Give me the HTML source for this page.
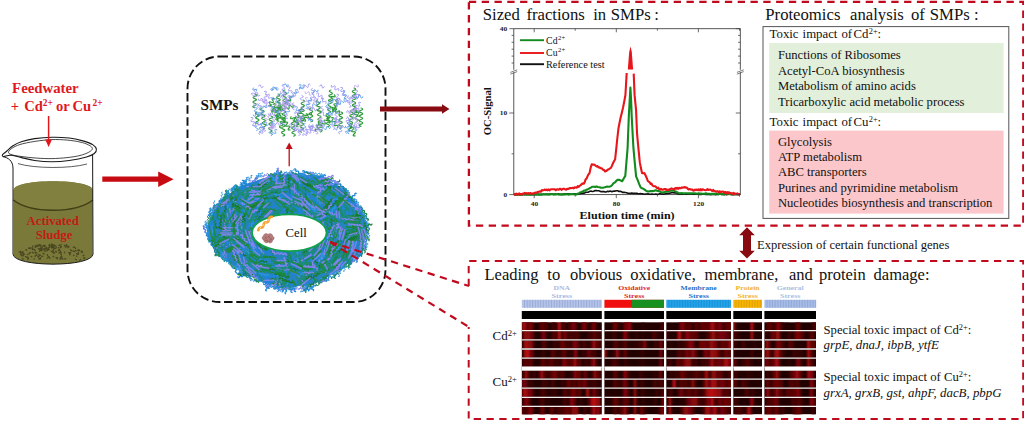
<!DOCTYPE html>
<html><head><meta charset="utf-8"><title>Graphical abstract</title>
<style>
html,body{margin:0;padding:0;background:#fff;}
body{width:1024px;height:422px;overflow:hidden;position:relative;font-family:"Liberation Serif",serif;}
svg{position:absolute;left:0;top:0;}
text{font-family:"Liberation Serif",serif;}
.b{font-weight:bold;}
.i{font-style:italic;}
.sup{font-size:62%;}
</style></head><body>
<svg width="1024" height="422" viewBox="0 0 1024 422">
<rect x="0" y="0" width="1024" height="422" fill="#fff"/>

<g id="feed">
<text x="12.1" y="93.3" class="b" font-size="14.8" fill="#e0181e">Feedwater</text>
<g class="b" font-size="14.6" fill="#e0181e"><text x="10.8" y="111.1">+</text><text x="24.2" y="111.1">Cd</text><text x="42.7" y="105.9" font-size="9.4">2+</text><text x="55.9" y="111.1">or</text><text x="72.5" y="111.1">Cu</text><text x="92.5" y="105.9" font-size="9.4">2+</text></g>
</g>
<g id="beaker" fill="none" stroke="#1a1a1a" stroke-width="1">
<path d="M13.6 190 C13.6 178.3 92.6 178.3 92.6 190 L92.6 254 C92.6 267.5 13.6 267.5 13.6 254 Z" fill="#7a793a" stroke="none"/>
<path d="M13.6 190 C13.6 178.3 92.6 178.3 92.6 190 L92.6 200 C76 213.6 30 213.6 13.6 200Z" fill="#81803e" stroke="none"/>
<path d="M13.4 200 C30 213.6 76 213.6 92.8 200" stroke="#403f16" stroke-width="1.5"/>
<path d="M3.2 156.6 C8 158 12.6 160 13 168 L13 254 C13 267.5 93 267.5 93 254 L92.6 155" />
<path d="M2.6 154.6C3.2 153.7 5.2 152.5 6.9 151.0C8.6 149.5 10.5 147.4 13.0 145.8C15.5 144.2 18.4 142.8 22.0 141.6C25.6 140.4 29.6 139.3 34.6 138.6C39.6 137.9 46.1 137.3 51.9 137.2C57.7 137.1 64.0 137.4 69.2 138.0C74.4 138.6 79.0 139.8 83.0 140.9C87.0 142.1 90.8 143.5 93.0 144.9C95.2 146.3 96.2 147.8 96.4 149.2C96.6 150.6 96.0 152.2 94.3 153.5C92.6 154.8 90.7 155.8 86.5 157.0C82.3 158.2 75.0 159.7 69.2 160.5C63.4 161.3 57.7 161.7 51.9 161.7C46.1 161.7 39.8 161.2 34.6 160.5C29.4 159.8 24.8 158.3 20.8 157.4C16.8 156.5 13.3 155.3 10.4 155.2C7.5 155.1 4.9 156.7 3.6 156.6C2.3 156.5 2.0 155.5 2.6 154.6Z" fill="#fff" stroke-width="1.1"/>
<path d="M8.5 152.6C8.2 150.6 12.8 146.7 20.0 144.5C27.2 142.3 41.9 140.0 51.9 139.6C61.9 139.2 73.2 140.5 80.0 142.0C86.8 143.5 92.4 146.3 92.4 148.6C92.4 150.8 86.8 153.8 80.0 155.5C73.2 157.2 61.6 158.4 51.9 158.6C42.2 158.8 29.2 157.6 22.0 156.6C14.8 155.6 8.8 154.6 8.5 152.6Z" stroke-width="0.8"/>
<path d="M18 163.6 C34 168.6 70 168.8 87 164" stroke-width="0.8" stroke="#333"/>
</g>
<path d="M48.6 116V141" stroke="#e0181e" stroke-width="1.5" fill="none"/><path d="M45.2 139.6L52 139.6L48.6 147Z" fill="#e0181e"/>
<path d="M33.4 249.4l-1.1 0.1M26.8 250.0l-1.2 -0.1M38.5 245.5l0.8 -0.8M58.4 247.8l0.2 -0.2M23.0 259.1l-0.5 -0.7M45.2 246.3l-0.8 0.2M44.2 254.1l-1.1 -0.9M60.7 247.6l-0.5 0.2M39.5 251.3l0.5 -0.5M54.1 253.1l0.6 -0.4M27.7 259.2l0.7 -0.7M22.5 251.8l0.7 0.1M40.4 257.6l0.2 0.2M74.6 251.3l-0.1 0.3M59.3 245.4l1.3 0.6M46.6 248.8l-1.2 -0.1M55.7 251.2l0.8 0.7M48.2 248.7l1.0 0.9M51.8 248.0l-0.6 -1.0M44.3 250.8l1.2 0.4M60.1 252.2l-1.2 0.8M76.8 256.2l-0.3 -0.2M36.2 246.8l-1.2 0.7M29.7 253.7l-0.4 -0.3M66.0 246.3l-0.1 -0.0M38.3 245.8l-0.6 0.7M32.6 246.9l0.1 -0.7M21.8 252.6l1.2 0.7M37.0 254.9l-0.9 0.5M70.6 252.5l-0.7 0.6M75.4 259.3l0.8 0.5M53.3 247.9l-1.2 -0.9M40.2 248.7l1.2 -0.1M84.2 258.6l-0.4 -0.6M78.5 253.9l-0.1 0.3M25.5 256.5l1.1 0.6M41.6 256.3l1.2 -0.2M79.7 250.5l-0.9 -0.7M69.0 246.8l-0.9 0.7M62.7 259.2l0.1 -0.7M66.5 244.7l0.1 0.9M76.1 251.0l-0.8 -0.5M38.9 248.9l-0.6 -0.2M68.6 246.5l-0.1 0.2M47.3 258.1l0.0 0.1M21.2 252.4l-0.8 -1.0M31.2 256.5l0.6 0.1M53.5 249.4l0.7 -0.8M36.2 252.9l0.7 0.0M69.4 252.9l-0.1 0.2M53.3 252.1l-0.1 0.1M81.2 251.7l1.0 0.9M55.4 248.4l0.9 -0.7M32.0 248.1l0.7 0.8M61.4 246.8l-0.9 0.8M34.3 259.0l-0.3 -0.0M53.5 251.0l-0.8 -0.4M21.3 255.3l-0.2 -1.0M59.4 249.5l-1.1 1.0M29.5 248.5l-0.6 -0.7M78.3 250.8l-0.6 -0.7M57.1 258.3l-1.1 -0.9M61.2 258.6l-1.1 0.7M64.8 245.5l-0.4 0.1M42.0 249.2l-0.5 0.0M28.8 248.3l0.1 -0.6M48.1 256.8l0.9 -0.2M64.7 252.1l-0.4 0.7M61.3 255.1l-0.4 -0.9M35.7 246.4l-0.6 -0.7M64.6 245.8l0.4 -0.4M42.5 248.1l-0.9 -0.1M75.5 248.4l0.1 -0.5M40.1 259.0l-1.3 -0.2M20.3 252.1l-1.1 -0.2M37.2 245.1l-0.7 0.2M68.8 252.4l0.6 0.8M42.1 250.3l-0.9 0.4M22.8 254.1l1.0 0.3M52.8 252.4l0.8 0.7M78.0 253.3l0.5 -0.5M41.1 245.0l-1.0 0.7M60.8 252.9l0.5 -0.0M61.1 244.5l0.0 0.1M24.3 254.4l-0.6 -0.9M83.4 255.6l-0.3 -0.0M69.9 254.8l0.4 -0.8M42.5 246.7l-0.5 0.1M39.5 244.7l0.4 0.4M38.9 254.6l-0.1 -0.1M73.3 251.4l-0.1 -0.5M29.2 253.2l1.2 -0.7M53.1 256.8l0.5 -0.5M52.3 244.6l-0.5 -0.7M42.1 249.7l-1.3 0.5M27.8 257.1l0.6 0.8M45.9 248.8l1.3 0.2M48.3 249.9l-1.2 -0.8M38.6 257.0l-0.7 -0.5M32.3 252.2l1.2 0.8M61.0 256.7l1.1 0.1M23.2 255.3l-0.1 0.5M28.3 258.4l-0.4 -0.4M83.5 255.6l0.4 -0.4M40.3 246.9l-0.0 -0.6M84.8 258.1l-0.9 -0.6M40.9 248.1l1.0 0.5M47.2 250.7l-0.3 -0.3M45.0 245.4l-1.0 0.0M39.8 248.6l-0.1 0.9M59.1 245.0l-0.1 0.2M49.4 244.5l0.8 0.7M53.4 246.8l1.1 0.4M69.7 254.2l0.1 -0.9M35.1 256.2l0.4 -0.4M42.8 246.4l0.5 -0.8M53.3 245.6l-0.3 -0.6M20.7 253.5l-0.1 0.9M77.4 254.2l-0.7 -0.5M65.8 258.9l-1.2 -0.0M47.3 254.6l0.4 0.9M30.6 247.9l-0.2 0.4M65.8 247.5l0.0 -0.6M40.3 259.0l-0.7 -0.6M39.2 255.9l-0.0 -0.6M48.6 247.8l1.2 -0.7M35.2 250.4l-0.9 -0.9M48.9 245.4l1.0 0.5M80.6 259.5l-0.8 0.9M22.1 255.7l-0.3 -0.3M44.9 248.7l-1.0 0.9M46.0 247.6l0.8 -0.1M51.6 245.2l1.1 -0.6M71.7 250.7l-1.2 -0.9M66.7 245.4l0.6 0.8M39.8 249.6l0.3 -0.5M40.6 255.2l-1.3 0.5M61.2 258.2l-1.2 -0.5M82.2 251.6l-0.3 -0.5M52.1 250.9l-0.8 0.6M73.5 255.6l0.3 -0.3M45.0 249.3l-1.1 -0.6M54.2 245.0l1.2 0.8M52.4 245.9l-0.1 -0.5M60.0 250.8l0.6 0.7M27.9 254.5l-0.5 0.1M57.6 257.8l-0.3 1.0M35.0 252.1l0.4 1.0M51.6 246.0l0.9 0.8M73.3 247.3l1.1 -0.3M49.2 257.5l0.7 0.9M56.1 246.1l-0.7 -0.3" stroke="#3f3e1c" stroke-width="1.3" fill="none" stroke-linecap="round" opacity="0.85"/>
<text x="52.7" y="224.8" text-anchor="middle" class="b" font-size="12.7" fill="#c41a12">Activated</text>
<text x="54" y="239.3" text-anchor="middle" class="b" font-size="12.7" fill="#c41a12">Sludge</text>
<path d="M102.3 176.5H158.2V171.4L173.6 179.2L158.2 187V181.8H102.3Z" fill="#c60c12"/>
<rect x="187.5" y="56.5" width="198" height="245.5" rx="32" ry="32" fill="none" stroke="#111" stroke-width="1.9" stroke-dasharray="8.5 3.7"/>
<text x="200.5" y="110" class="b" font-size="15.2" fill="#111">SMPs</text>
<path d="M289.2 166.2V148" stroke="#c01016" stroke-width="1.3" fill="none"/><path d="M285.7 149L292.7 149L289.2 142.5Z" fill="#c01016"/>
<path d="M380 106.6H442V104.2L449.5 109L442 113.8V111.4H380Z" fill="#870b10"/>
<path d="M262.0 108.0q-3.3 1.5 0.3 2.3t0.3 2.3t0.3 2.3t0.3 2.3t0.3 2.3t0.3 2.3t0.3 2.3t0.3 2.3t0.3 2.3M285.0 90.0q-3.4 1.1 -0.1 2.3t-0.1 2.3t-0.1 2.3t-0.1 2.3t-0.1 2.3t-0.1 2.3t-0.1 2.3t-0.1 2.3t-0.1 2.3t-0.1 2.3t-0.1 2.3t-0.1 2.3t-0.1 2.3t-0.1 2.3t-0.1 2.3t-0.1 2.3t-0.1 2.3t-0.1 2.3t-0.1 2.3t-0.1 2.3M331.0 90.0q-3.5 0.9 -0.2 2.3t-0.2 2.3t-0.2 2.3t-0.2 2.3t-0.2 2.3t-0.2 2.3t-0.2 2.3t-0.2 2.3t-0.2 2.3t-0.2 2.3t-0.2 2.3t-0.2 2.3t-0.2 2.3t-0.2 2.3t-0.2 2.3t-0.2 2.3M303.0 100.0q3.3 1.3 -0.1 2.3t-0.1 2.3t-0.1 2.3t-0.1 2.3t-0.1 2.3t-0.1 2.3t-0.1 2.3t-0.1 2.3t-0.1 2.3t-0.1 2.3t-0.1 2.3t-0.1 2.3t-0.1 2.3t-0.1 2.3M318.0 102.0q3.5 0.8 0.2 2.3t0.2 2.3t0.2 2.3t0.2 2.3t0.2 2.3t0.2 2.3t0.2 2.3t0.2 2.3t0.2 2.3t0.2 2.3t0.2 2.3t0.2 2.3t0.2 2.3M354.0 88.0q3.4 1.2 -0.0 2.3t-0.0 2.3t-0.0 2.3t-0.0 2.3t-0.0 2.3t-0.0 2.3t-0.0 2.3t-0.0 2.3t-0.0 2.3M352.0 110.0q-3.5 0.9 -0.2 2.3t-0.2 2.3t-0.2 2.3t-0.2 2.3t-0.2 2.3t-0.2 2.3t-0.2 2.3t-0.2 2.3t-0.2 2.3M271.0 116.0q3.4 1.3 -0.1 2.3t-0.1 2.3t-0.1 2.3t-0.1 2.3t-0.1 2.3t-0.1 2.3t-0.1 2.3M293.0 120.0q3.4 1.1 0.1 2.3t0.1 2.3t0.1 2.3t0.1 2.3t0.1 2.3t0.1 2.3t0.1 2.3M255.0 94.0q3.4 1.3 -0.1 2.3t-0.1 2.3t-0.1 2.3t-0.1 2.3t-0.1 2.3t-0.1 2.3M257.0 112.0q-3.3 1.3 0.1 2.3t0.1 2.3t0.1 2.3t0.1 2.3t0.1 2.3M361.0 108.0q3.4 1.1 0.0 2.3t0.0 2.3t0.0 2.3t0.0 2.3t0.0 2.3t0.0 2.3t0.0 2.3t0.0 2.3M341.0 112.0q3.4 1.3 -0.1 2.3t-0.1 2.3t-0.1 2.3t-0.1 2.3t-0.1 2.3t-0.1 2.3t-0.1 2.3M278.0 94.0q3.5 0.9 0.2 2.3t0.2 2.3t0.2 2.3t0.2 2.3t0.2 2.3t0.2 2.3t0.2 2.3M311.0 108.0q-3.4 1.2 0.0 2.3t0.0 2.3t0.0 2.3t0.0 2.3t0.0 2.3t0.0 2.3M296.6 120.5q-2.9 1.8 0.5 2.1t0.5 2.1t0.5 2.1M320.1 121.3q-3.4 -0.2 -0.8 2.0t-0.8 2.0t-0.8 2.0t-0.8 2.0t-0.8 2.0M273.2 104.4q2.8 -2.0 1.8 1.3t1.8 1.3t1.8 1.3M331.4 117.8q3.3 -0.8 1.2 1.9t1.2 1.9t1.2 1.9t1.2 1.9t1.2 1.9M350.3 123.3q3.4 -0.1 0.8 2.1t0.8 2.1t0.8 2.1t0.8 2.1t0.8 2.1t0.8 2.1M327.2 114.6q-2.8 1.9 0.5 2.1t0.5 2.1t0.5 2.1t0.5 2.1M317.5 99.9q-2.9 1.7 0.4 2.2t0.4 2.2t0.4 2.2t0.4 2.2t0.4 2.2t0.4 2.2M271.6 104.8q-2.6 2.2 0.8 2.0t0.8 2.0t0.8 2.0t0.8 2.0M337.6 99.8q-3.4 -0.3 -0.9 2.0t-0.9 2.0t-0.9 2.0t-0.9 2.0t-0.9 2.0t-0.9 2.0M311.0 112.8q1.6 3.0 -1.5 1.6t-1.5 1.6t-1.5 1.6t-1.5 1.6t-1.5 1.6t-1.5 1.6M280.9 105.7q1.7 2.9 -1.4 1.7t-1.4 1.7t-1.4 1.7M354.6 108.0q-3.0 1.7 0.4 2.2t0.4 2.2t0.4 2.2t0.4 2.2t0.4 2.2t0.4 2.2M337.1 106.0q-3.2 -1.1 -1.3 1.8t-1.3 1.8t-1.3 1.8M306.4 113.7q1.9 2.8 -1.3 1.7t-1.3 1.7t-1.3 1.7t-1.3 1.7M329.3 117.3q-3.1 -1.3 -1.5 1.6t-1.5 1.6t-1.5 1.6t-1.5 1.6t-1.5 1.6t-1.5 1.6M334.4 94.8q2.1 2.7 -1.2 1.8t-1.2 1.8t-1.2 1.8M354.2 108.8q3.2 -1.0 1.3 1.8t1.3 1.8t1.3 1.8t1.3 1.8M291.1 116.7q-1.5 3.1 1.6 1.5t1.6 1.5t1.6 1.5t1.6 1.5t1.6 1.5M283.5 118.5q3.3 -0.6 1.1 1.9t1.1 1.9t1.1 1.9t1.1 1.9t1.1 1.9t1.1 1.9M282.3 109.2q-0.6 3.3 -2.2 0.3t-2.2 0.3t-2.2 0.3t-2.2 0.3t-2.2 0.3M274.2 98.8q-3.1 -1.3 -1.4 1.7t-1.4 1.7t-1.4 1.7t-1.4 1.7M282.4 117.0q-3.3 0.7 -0.3 2.2t-0.3 2.2t-0.3 2.2t-0.3 2.2t-0.3 2.2M301.3 109.6q-3.3 -0.6 -1.0 1.9t-1.0 1.9t-1.0 1.9t-1.0 1.9t-1.0 1.9t-1.0 1.9M293.1 105.3q0.3 3.4 -2.0 0.9t-2.0 0.9t-2.0 0.9t-2.0 0.9M332.5 107.3q-1.2 3.2 1.7 1.4t1.7 1.4t1.7 1.4t1.7 1.4t1.7 1.4M281.4 113.2q-3.3 -0.8 -1.2 1.9t-1.2 1.9t-1.2 1.9M278.2 102.7q3.4 -0.3 0.9 2.0t0.9 2.0t0.9 2.0M278.7 113.6q2.0 2.7 -1.2 1.8t-1.2 1.8t-1.2 1.8M291.5 97.2q-3.2 -1.2 -1.4 1.7t-1.4 1.7t-1.4 1.7t-1.4 1.7t-1.4 1.7M276.4 112.7q3.4 0.1 0.6 2.1t0.6 2.1t0.6 2.1t0.6 2.1" stroke="#2c9a38" stroke-width="1.15" fill="none" stroke-linecap="round"/>
<path d="" stroke="#1d8f5e" stroke-width="1.15" fill="none" stroke-linecap="round"/>
<path d="M354.2 96.3q-2.0 -2.7 -2.1 0.7t-2.1 0.7M308.9 108.4q-0.9 -3.3 1.8 -1.3t1.8 -1.3M255.7 93.5q2.2 -2.6 2.1 0.8t2.1 0.8M312.5 130.1q-2.6 -2.2 -1.9 1.1t-1.9 1.1t-1.9 1.1t-1.9 1.1t-1.9 1.1M271.9 99.5q1.5 -3.0 -1.5 -1.6t-1.5 -1.6t-1.5 -1.6t-1.5 -1.6t-1.5 -1.6M301.9 95.5q3.1 1.3 -0.2 2.2t-0.2 2.2M353.3 127.9q-1.4 -3.1 1.6 -1.5t1.6 -1.5M350.7 125.3q-0.1 -3.4 2.1 -0.7t2.1 -0.7t2.1 -0.7t2.1 -0.7M310.3 84.8q-2.2 -2.5 -2.0 0.8t-2.0 0.8t-2.0 0.8M255.9 89.7q-3.3 -0.9 -1.2 1.8t-1.2 1.8t-1.2 1.8M260.1 113.1q-2.7 2.0 0.7 2.1t0.7 2.1M321.2 98.4q3.1 -1.3 1.5 1.6t1.5 1.6t1.5 1.6M289.3 97.2q3.2 1.2 -0.1 2.2t-0.1 2.2t-0.1 2.2t-0.1 2.2M329.1 110.6q2.9 -1.8 -0.5 -2.1t-0.5 -2.1M354.3 95.7q2.9 -1.8 1.7 1.4t1.7 1.4M360.0 111.7q-3.1 1.4 -1.5 -1.6t-1.5 -1.6t-1.5 -1.6t-1.5 -1.6M321.1 130.3q-1.7 2.9 -2.2 -0.4t-2.2 -0.4M348.6 96.0q-3.3 0.7 -0.2 2.2t-0.2 2.2t-0.2 2.2M264.0 103.1q-2.8 -1.9 0.6 -2.1t0.6 -2.1t0.6 -2.1t0.6 -2.1M274.2 115.4q2.9 1.7 -0.4 2.2t-0.4 2.2t-0.4 2.2t-0.4 2.2t-0.4 2.2M322.3 106.5q-3.3 0.9 -0.1 2.2t-0.1 2.2M280.3 103.0q0.8 3.3 2.2 0.2t2.2 0.2t2.2 0.2t2.2 0.2t2.2 0.2M296.3 130.7q1.0 -3.2 2.2 -0.1t2.2 -0.1t2.2 -0.1t2.2 -0.1t2.2 -0.1M270.8 129.6q-2.6 -2.2 0.8 -2.0t0.8 -2.0t0.8 -2.0M313.7 95.5q1.9 2.8 -1.3 1.8t-1.3 1.8t-1.3 1.8t-1.3 1.8t-1.3 1.8M284.8 111.1q-2.9 -1.7 0.4 -2.2t0.4 -2.2t0.4 -2.2t0.4 -2.2t0.4 -2.2M285.7 103.2q3.3 0.5 1.0 -1.9t1.0 -1.9t1.0 -1.9t1.0 -1.9M281.6 95.9q-0.5 3.3 -2.2 0.4t-2.2 0.4M350.8 118.5q-1.1 3.2 -2.2 0.0t-2.2 0.0M298.2 131.1q2.4 -2.3 -0.9 -2.0t-0.9 -2.0t-0.9 -2.0t-0.9 -2.0M297.9 90.7q1.7 2.9 -1.4 1.7t-1.4 1.7t-1.4 1.7t-1.4 1.7M337.1 111.4q2.9 1.8 -0.5 2.1t-0.5 2.1t-0.5 2.1t-0.5 2.1M312.8 124.6q1.9 2.8 -1.4 1.7t-1.4 1.7t-1.4 1.7t-1.4 1.7t-1.4 1.7M338.5 100.5q2.9 -1.8 -0.5 -2.1t-0.5 -2.1t-0.5 -2.1M321.6 122.5q-2.8 -1.9 -1.8 1.3t-1.8 1.3t-1.8 1.3t-1.8 1.3t-1.8 1.3M258.4 99.1q0.1 3.4 2.1 0.6t2.1 0.6t2.1 0.6t2.1 0.6t2.1 0.6M302.5 121.5q-3.3 0.7 -1.1 -1.9t-1.1 -1.9M263.9 129.6q-3.1 -1.4 -1.5 1.6t-1.5 1.6t-1.5 1.6M313.7 97.0q3.4 -0.3 0.9 2.0t0.9 2.0M299.5 115.6q-1.1 -3.2 -2.2 0.0t-2.2 0.0M266.1 107.4q-3.4 -0.5 -0.4 -2.2t-0.4 -2.2t-0.4 -2.2M333.4 129.3q3.3 -0.6 0.3 -2.2t0.3 -2.2t0.3 -2.2M258.7 86.1q1.4 -3.1 2.2 0.2t2.2 0.2M265.6 130.8q-3.1 1.4 -1.5 -1.6t-1.5 -1.6t-1.5 -1.6t-1.5 -1.6t-1.5 -1.6M337.0 106.5q-2.9 -1.8 0.5 -2.1t0.5 -2.1t0.5 -2.1t0.5 -2.1M331.4 85.3q-1.0 3.2 1.8 1.3t1.8 1.3t1.8 1.3t1.8 1.3M283.6 84.6q-3.3 0.7 -0.2 2.2t-0.2 2.2t-0.2 2.2M341.1 127.5q-3.4 0.3 -0.5 2.1t-0.5 2.1t-0.5 2.1M346.7 112.2q0.6 -3.3 2.2 -0.3t2.2 -0.3t2.2 -0.3t2.2 -0.3t2.2 -0.3M278.1 112.6q-1.3 -3.1 1.7 -1.5t1.7 -1.5t1.7 -1.5t1.7 -1.5M316.6 93.7q2.7 -2.1 1.8 1.2t1.8 1.2t1.8 1.2t1.8 1.2M360.7 102.6q-3.1 -1.4 -1.5 1.6t-1.5 1.6t-1.5 1.6t-1.5 1.6t-1.5 1.6M269.9 113.5q2.9 1.7 -0.4 2.2t-0.4 2.2M257.1 94.2q1.4 3.1 -1.6 1.5t-1.6 1.5M287.3 84.8q-2.4 2.4 1.0 2.0t1.0 2.0t1.0 2.0t1.0 2.0M349.4 107.2q3.4 -0.1 0.7 -2.1t0.7 -2.1t0.7 -2.1M269.1 104.8q-2.0 2.7 1.2 1.8t1.2 1.8t1.2 1.8t1.2 1.8M285.0 123.5q-0.9 3.3 -2.2 0.1t-2.2 0.1t-2.2 0.1t-2.2 0.1M281.2 96.1q2.7 -2.0 1.8 1.3t1.8 1.3t1.8 1.3t1.8 1.3M270.5 124.9q3.2 -1.1 1.4 1.7t1.4 1.7M300.0 128.7q3.0 1.6 -0.4 2.2t-0.4 2.2t-0.4 2.2M325.3 115.0q-2.5 2.2 -1.9 -1.1t-1.9 -1.1t-1.9 -1.1M297.2 121.5q-1.5 -3.0 1.5 -1.6t1.5 -1.6t1.5 -1.6t1.5 -1.6M313.8 132.3q2.2 -2.6 -1.1 -1.9t-1.1 -1.9t-1.1 -1.9t-1.1 -1.9M350.0 98.6q0.1 -3.4 2.1 -0.6t2.1 -0.6t2.1 -0.6t2.1 -0.6t2.1 -0.6M255.8 123.5q1.5 -3.0 2.2 0.3t2.2 0.3" stroke="#9f96f4" stroke-width="0.9" fill="none" stroke-linecap="round"/>
<path d="M347.1 122.4q-2.5 -2.2 0.8 -2.0t0.8 -2.0M295.0 113.7q-0.8 -3.3 1.8 -1.2t1.8 -1.2t1.8 -1.2t1.8 -1.2t1.8 -1.2M334.6 119.0q2.9 -1.8 1.7 1.4t1.7 1.4t1.7 1.4M319.8 86.0q1.7 -2.9 2.2 0.4t2.2 0.4M254.4 125.9q-3.4 0.1 -0.8 -2.1t-0.8 -2.1t-0.8 -2.1t-0.8 -2.1M268.3 113.8q1.0 3.2 2.2 0.1t2.2 0.1t2.2 0.1M344.9 97.5q2.5 -2.2 -0.8 -2.0t-0.8 -2.0t-0.8 -2.0t-0.8 -2.0t-0.8 -2.0M310.3 120.5q2.3 -2.5 -1.0 -1.9t-1.0 -1.9M287.6 118.3q-3.3 0.7 -1.1 -1.9t-1.1 -1.9t-1.1 -1.9t-1.1 -1.9t-1.1 -1.9M312.3 88.5q-2.9 1.8 0.5 2.1t0.5 2.1t0.5 2.1M355.5 119.8q2.4 -2.4 -1.0 -2.0t-1.0 -2.0t-1.0 -2.0M358.4 96.4q2.5 -2.3 -0.9 -2.0t-0.9 -2.0t-0.9 -2.0M337.2 105.2q-3.1 -1.4 0.2 -2.2t0.2 -2.2t0.2 -2.2M313.2 126.7q-1.4 -3.1 -2.2 0.2t-2.2 0.2M300.7 116.1q2.4 2.4 -1.0 2.0t-1.0 2.0t-1.0 2.0t-1.0 2.0M293.5 102.9q-3.1 1.3 0.2 2.2t0.2 2.2t0.2 2.2M356.5 129.4q-2.1 -2.7 1.2 -1.8t1.2 -1.8M289.7 124.4q2.9 -1.7 1.6 1.5t1.6 1.5t1.6 1.5t1.6 1.5M307.8 109.3q1.1 -3.2 2.2 0.0t2.2 0.0t2.2 0.0t2.2 0.0M345.7 101.8q0.5 -3.4 2.2 -0.4t2.2 -0.4" stroke="#8f8cf0" stroke-width="0.9" fill="none" stroke-linecap="round"/>
<path d="M253.7 125.5q2.6 2.1 1.9 -1.2t1.9 -1.2M349.3 129.4q3.1 1.4 -0.2 2.2t-0.2 2.2M312.8 105.6q-0.6 -3.3 1.9 -1.1t1.9 -1.1t1.9 -1.1t1.9 -1.1M256.3 91.2q1.7 -3.0 -1.5 -1.6t-1.5 -1.6M256.7 130.5q3.2 -1.0 0.1 -2.2t0.1 -2.2M335.1 128.7q1.8 2.9 2.1 -0.5t2.1 -0.5t2.1 -0.5t2.1 -0.5t2.1 -0.5M306.0 108.3q3.3 0.5 1.0 -2.0t1.0 -2.0t1.0 -2.0t1.0 -2.0t1.0 -2.0M353.3 127.8q2.6 -2.2 1.9 1.1t1.9 1.1M288.3 92.0q-0.1 3.4 -2.1 0.7t-2.1 0.7t-2.1 0.7t-2.1 0.7M356.2 97.0q1.2 3.2 2.2 -0.1t2.2 -0.1t2.2 -0.1M299.4 112.3q1.9 -2.8 -1.3 -1.8t-1.3 -1.8t-1.3 -1.8M323.5 127.1q2.7 -2.0 -0.7 -2.1t-0.7 -2.1t-0.7 -2.1M279.2 103.9q1.6 -3.0 -1.5 -1.6t-1.5 -1.6t-1.5 -1.6t-1.5 -1.6M305.1 85.5q-2.7 -2.1 -1.9 1.2t-1.9 1.2t-1.9 1.2M288.4 85.0q-0.9 3.3 -2.2 0.1t-2.2 0.1M311.7 92.3q2.0 2.7 2.1 -0.7t2.1 -0.7t2.1 -0.7M326.9 103.5q2.3 2.5 2.0 -0.9t2.0 -0.9t2.0 -0.9t2.0 -0.9M305.0 123.6q-3.4 0.5 -0.4 2.2t-0.4 2.2t-0.4 2.2M268.2 124.8q-2.5 2.2 -1.9 -1.1t-1.9 -1.1M273.1 106.4q-2.0 2.7 1.3 1.8t1.3 1.8t1.3 1.8t1.3 1.8t1.3 1.8M349.5 122.7q-3.4 0.1 -0.6 2.1t-0.6 2.1t-0.6 2.1t-0.6 2.1t-0.6 2.1M256.1 114.1q3.1 -1.4 -0.2 -2.2t-0.2 -2.2t-0.2 -2.2t-0.2 -2.2M263.1 108.0q-1.0 -3.2 1.8 -1.3t1.8 -1.3M328.2 113.4q-0.6 3.3 1.9 1.1t1.9 1.1M336.6 104.9q-0.6 -3.3 1.9 -1.1t1.9 -1.1t1.9 -1.1t1.9 -1.1t1.9 -1.1M326.4 113.3q1.5 3.0 2.2 -0.3t2.2 -0.3t2.2 -0.3t2.2 -0.3t2.2 -0.3M299.1 85.0q3.0 -1.5 1.6 1.5t1.6 1.5M262.1 115.0q-1.1 -3.2 -2.2 0.0t-2.2 0.0t-2.2 0.0t-2.2 0.0M286.7 113.6q-2.2 -2.6 1.1 -1.9t1.1 -1.9M259.5 131.7q3.4 -0.0 0.7 -2.1t0.7 -2.1t0.7 -2.1t0.7 -2.1M262.2 111.4q1.4 3.1 -1.6 1.5t-1.6 1.5t-1.6 1.5M259.2 103.7q-2.8 1.9 0.6 2.1t0.6 2.1t0.6 2.1t0.6 2.1M322.1 129.2q0.3 -3.4 2.1 -0.6t2.1 -0.6t2.1 -0.6t2.1 -0.6M278.2 88.9q-1.2 3.2 -2.2 -0.1t-2.2 -0.1t-2.2 -0.1M270.3 131.3q-3.0 1.6 0.4 2.2t0.4 2.2M308.4 120.4q0.8 -3.3 2.2 -0.2t2.2 -0.2M276.8 129.8q-3.1 -1.4 -1.5 1.6t-1.5 1.6t-1.5 1.6M276.9 87.3q-0.1 3.4 -2.1 0.7t-2.1 0.7t-2.1 0.7M343.2 90.3q3.4 0.1 0.7 2.1t0.7 2.1t0.7 2.1t0.7 2.1M272.5 121.9q-2.4 2.4 1.0 2.0t1.0 2.0M349.0 119.9q3.0 1.6 -0.3 2.2t-0.3 2.2t-0.3 2.2M327.8 109.7q3.0 -1.6 -0.4 -2.2t-0.4 -2.2M290.5 98.2q-1.7 -2.9 1.4 -1.7t1.4 -1.7t1.4 -1.7t1.4 -1.7t1.4 -1.7M330.2 124.1q2.6 2.2 1.9 -1.1t1.9 -1.1t1.9 -1.1t1.9 -1.1t1.9 -1.1" stroke="#5a9be8" stroke-width="0.9" fill="none" stroke-linecap="round"/>
<path d="M341.7 127.8q1.9 -2.8 -1.3 -1.7t-1.3 -1.7t-1.3 -1.7t-1.3 -1.7t-1.3 -1.7M286.2 94.8q-2.6 2.2 -1.9 -1.1t-1.9 -1.1t-1.9 -1.1M284.0 105.6q3.4 0.1 0.7 2.1t0.7 2.1M356.4 109.5q-2.1 -2.6 -2.1 0.8t-2.1 0.8t-2.1 0.8t-2.1 0.8M285.7 105.3q-1.1 -3.2 -2.2 -0.0t-2.2 -0.0t-2.2 -0.0t-2.2 -0.0t-2.2 -0.0M300.4 122.0q3.3 0.7 0.3 2.2t0.3 2.2t0.3 2.2t0.3 2.2M358.3 119.6q-1.5 3.0 -2.2 -0.3t-2.2 -0.3t-2.2 -0.3M263.9 112.4q-2.8 1.9 0.6 2.1t0.6 2.1t0.6 2.1t0.6 2.1t0.6 2.1M322.0 124.7q2.1 2.7 -1.2 1.8t-1.2 1.8t-1.2 1.8t-1.2 1.8t-1.2 1.8M320.9 117.2q3.1 1.4 -0.2 2.2t-0.2 2.2t-0.2 2.2M287.6 108.0q-3.1 1.2 -1.4 -1.7t-1.4 -1.7t-1.4 -1.7t-1.4 -1.7M260.8 98.7q-1.0 3.2 1.8 1.3t1.8 1.3t1.8 1.3M271.1 127.7q1.5 3.0 2.2 -0.3t2.2 -0.3M307.4 97.7q-3.3 -0.9 -1.2 1.8t-1.2 1.8t-1.2 1.8M324.1 122.8q1.2 -3.2 -1.7 -1.4t-1.7 -1.4t-1.7 -1.4M254.0 103.2q-0.7 3.3 1.9 1.2t1.9 1.2t1.9 1.2t1.9 1.2M314.0 104.0q-1.8 -2.9 1.4 -1.7t1.4 -1.7t1.4 -1.7M275.1 126.7q-0.8 3.3 -2.2 0.2t-2.2 0.2t-2.2 0.2M354.6 87.4q-0.9 -3.3 1.8 -1.2t1.8 -1.2M305.1 91.9q-0.1 3.4 2.1 0.8t2.1 0.8t2.1 0.8" stroke="#c3a8f2" stroke-width="0.9" fill="none" stroke-linecap="round"/>
<path d="M367.1 231.0C367.0 233.7 366.2 236.5 365.5 239.2C364.7 241.9 363.8 244.5 362.6 247.0C361.3 249.4 360.0 251.9 358.2 254.0C356.3 256.0 353.5 257.7 351.4 259.5C349.4 261.3 347.7 263.0 345.9 264.7C344.1 266.4 342.6 268.2 340.6 269.6C338.7 271.0 336.2 271.9 334.2 273.0C332.2 274.2 330.3 275.3 328.5 276.5C326.6 277.7 325.0 279.1 323.2 280.1C321.3 281.1 319.3 281.9 317.3 282.6C315.3 283.3 313.3 283.9 311.3 284.5C309.4 285.1 307.4 285.9 305.4 286.1C303.4 286.4 301.2 285.8 299.2 286.0C297.2 286.3 295.4 287.4 293.5 287.6C291.5 287.9 289.5 287.7 287.5 287.4C285.5 287.1 283.7 286.1 281.7 285.8C279.8 285.4 277.9 285.4 276.0 285.2C274.1 284.9 272.1 284.8 270.2 284.4C268.3 283.9 266.4 283.2 264.6 282.4C262.8 281.7 261.1 280.7 259.3 279.9C257.5 279.1 255.6 278.3 253.7 277.5C251.8 276.7 249.8 276.0 248.0 274.9C246.2 273.8 244.8 272.3 243.0 271.1C241.1 269.9 239.1 268.9 237.0 267.7C234.9 266.5 232.2 265.5 230.2 264.1C228.2 262.6 227.0 260.6 225.0 258.8C223.0 257.1 220.5 255.4 218.4 253.4C216.3 251.5 213.9 249.3 212.4 247.0C210.9 244.6 210.3 241.9 209.4 239.2C208.5 236.6 207.2 233.7 207.1 231.0C207.0 228.3 207.9 225.4 208.8 222.7C209.6 220.1 210.9 217.5 212.2 215.0C213.4 212.5 214.8 210.1 216.2 207.8C217.6 205.5 218.7 203.2 220.5 201.1C222.2 199.1 224.4 197.4 226.5 195.8C228.6 194.2 230.9 192.8 233.0 191.4C235.0 190.0 236.9 188.5 238.9 187.3C241.0 186.0 243.1 185.0 245.3 184.1C247.4 183.2 249.8 182.7 251.9 182.0C254.1 181.4 256.0 180.6 258.0 180.0C260.0 179.3 261.9 178.6 263.9 178.0C265.9 177.5 267.9 177.2 269.9 176.7C271.8 176.3 273.7 175.8 275.7 175.5C277.7 175.2 279.6 175.3 281.6 175.0C283.6 174.7 285.5 174.1 287.5 173.9C289.5 173.7 291.5 173.7 293.5 173.7C295.5 173.7 297.6 173.8 299.6 174.0C301.6 174.2 303.6 174.8 305.7 174.9C307.9 175.1 310.2 174.7 312.5 174.8C314.8 174.9 317.2 175.1 319.5 175.6C321.7 176.1 324.0 176.9 326.0 178.0C328.0 179.1 329.7 180.7 331.7 182.0C333.6 183.2 335.8 184.3 337.8 185.7C339.9 187.0 342.1 188.3 344.0 190.0C345.9 191.6 347.4 193.5 349.2 195.4C350.9 197.3 353.0 199.1 354.6 201.1C356.2 203.2 357.3 205.5 358.8 207.8C360.3 210.1 362.1 212.4 363.4 214.9C364.6 217.4 365.6 220.0 366.2 222.7C366.9 225.4 367.3 228.3 367.1 231.0Z" fill="#2782c0"/>
<path d="M225.9 224.6q1.4 -0.9 0.0 -1.8t0.0 -1.8t0.0 -1.8t0.0 -1.8t0.0 -1.8t0.0 -1.8t0.0 -1.8t0.0 -1.8M216.4 213.5q1.5 -0.7 0.2 -1.8t0.2 -1.8t0.2 -1.8M219.8 221.2q-1.4 -0.8 -0.1 -1.8t-0.1 -1.8t-0.1 -1.8t-0.1 -1.8t-0.1 -1.8t-0.1 -1.8t-0.1 -1.8t-0.1 -1.8M217.7 224.8q1.5 -0.6 0.3 -1.8t0.3 -1.8t0.3 -1.8M214.0 224.9q-1.4 -0.9 -0.0 -1.8t-0.0 -1.8t-0.0 -1.8t-0.0 -1.8t-0.0 -1.8t-0.0 -1.8t-0.0 -1.8t-0.0 -1.8M213.8 227.3q-1.5 -0.8 -0.2 -1.8t-0.2 -1.8t-0.2 -1.8t-0.2 -1.8t-0.2 -1.8M209.6 239.2q-1.5 -0.7 -0.3 -1.8t-0.3 -1.8t-0.3 -1.8t-0.3 -1.8t-0.3 -1.8t-0.3 -1.8M215.2 237.3q1.2 -1.1 -0.3 -1.8t-0.3 -1.8t-0.3 -1.8t-0.3 -1.8t-0.3 -1.8M208.8 239.6q-1.6 -0.3 -0.7 -1.7t-0.7 -1.7t-0.7 -1.7t-0.7 -1.7t-0.7 -1.7t-0.7 -1.7t-0.7 -1.7t-0.7 -1.7M211.9 245.3q-1.6 -0.6 -0.4 -1.8t-0.4 -1.8t-0.4 -1.8M217.3 206.8q1.6 -0.2 0.7 -1.6t0.7 -1.6t0.7 -1.6t0.7 -1.6t0.7 -1.6M227.5 209.0q-1.1 -1.3 0.5 -1.7t0.5 -1.7t0.5 -1.7t0.5 -1.7t0.5 -1.7t0.5 -1.7t0.5 -1.7M222.9 199.1q-0.1 -1.7 1.5 -1.0t1.5 -1.0t1.5 -1.0t1.5 -1.0t1.5 -1.0t1.5 -1.0t1.5 -1.0t1.5 -1.0M215.4 220.4q1.6 0.5 1.4 -1.1t1.4 -1.1t1.4 -1.1t1.4 -1.1t1.4 -1.1t1.4 -1.1t1.4 -1.1M216.4 205.5q-0.1 -1.7 1.4 -1.1t1.4 -1.1t1.4 -1.1t1.4 -1.1t1.4 -1.1t1.4 -1.1t1.4 -1.1t1.4 -1.1M226.6 216.5q1.1 -1.2 -0.4 -1.7t-0.4 -1.7t-0.4 -1.7t-0.4 -1.7M227.2 222.1q-1.6 -0.5 -0.5 -1.7t-0.5 -1.7t-0.5 -1.7M212.8 230.7q1.1 -1.3 -0.5 -1.7t-0.5 -1.7t-0.5 -1.7t-0.5 -1.7t-0.5 -1.7M224.1 222.0q1.3 -1.1 -0.3 -1.8t-0.3 -1.8t-0.3 -1.8t-0.3 -1.8t-0.3 -1.8M231.4 230.5q0.9 -1.4 1.8 -0.0t1.8 -0.0t1.8 -0.0t1.8 -0.0t1.8 -0.0M235.1 243.9q0.8 1.4 1.8 0.1t1.8 0.1t1.8 0.1t1.8 0.1M223.5 236.5q1.1 1.2 1.8 -0.3t1.8 -0.3t1.8 -0.3t1.8 -0.3M220.8 240.1q1.3 -1.0 1.7 0.6t1.7 0.6t1.7 0.6t1.7 0.6t1.7 0.6t1.7 0.6t1.7 0.6t1.7 0.6M226.0 244.8q0.3 -1.6 1.7 -0.7t1.7 -0.7t1.7 -0.7t1.7 -0.7t1.7 -0.7t1.7 -0.7t1.7 -0.7t1.7 -0.7M226.7 237.6q1.6 0.6 1.5 -1.1t1.5 -1.1t1.5 -1.1t1.5 -1.1t1.5 -1.1M221.2 256.7q0.9 -1.4 -0.8 -1.6t-0.8 -1.6t-0.8 -1.6M236.2 272.4q-1.6 -0.6 -0.4 -1.8t-0.4 -1.8t-0.4 -1.8t-0.4 -1.8t-0.4 -1.8M238.0 190.6q-0.5 -1.6 1.2 -1.4t1.2 -1.4t1.2 -1.4t1.2 -1.4t1.2 -1.4t1.2 -1.4t1.2 -1.4M240.5 182.8q1.7 -0.1 1.0 1.5t1.0 1.5t1.0 1.5t1.0 1.5t1.0 1.5M242.4 180.4q1.6 -0.4 1.3 1.2t1.3 1.2t1.3 1.2t1.3 1.2t1.3 1.2M241.6 188.9q1.5 -0.7 1.5 1.0t1.5 1.0t1.5 1.0M246.2 184.4q-0.3 1.6 1.3 1.2t1.3 1.2t1.3 1.2M248.5 208.2q-0.0 1.7 1.5 1.0t1.5 1.0t1.5 1.0t1.5 1.0t1.5 1.0M233.1 200.4q1.6 -0.4 1.3 1.3t1.3 1.3t1.3 1.3M238.0 209.8q0.1 1.7 1.6 0.9t1.6 0.9t1.6 0.9t1.6 0.9t1.6 0.9t1.6 0.9M233.9 211.3q0.0 1.7 1.5 1.0t1.5 1.0t1.5 1.0M243.7 199.1q1.6 -0.6 1.4 1.1t1.4 1.1t1.4 1.1t1.4 1.1t1.4 1.1M229.0 202.8q1.5 -0.7 1.6 0.9t1.6 0.9t1.6 0.9t1.6 0.9t1.6 0.9t1.6 0.9M233.5 223.4q1.7 -0.0 1.0 -1.5t1.0 -1.5t1.0 -1.5t1.0 -1.5t1.0 -1.5t1.0 -1.5t1.0 -1.5M239.4 222.9q1.7 -0.1 0.9 -1.6t0.9 -1.6t0.9 -1.6t0.9 -1.6M228.6 239.1q1.2 -1.1 -0.3 -1.8t-0.3 -1.8t-0.3 -1.8t-0.3 -1.8t-0.3 -1.8t-0.3 -1.8t-0.3 -1.8t-0.3 -1.8M233.0 229.5q1.5 -0.8 0.1 -1.8t0.1 -1.8t0.1 -1.8t0.1 -1.8t0.1 -1.8t0.1 -1.8t0.1 -1.8M244.0 231.8q1.2 -1.1 -0.3 -1.8t-0.3 -1.8t-0.3 -1.8t-0.3 -1.8t-0.3 -1.8t-0.3 -1.8t-0.3 -1.8M248.4 244.7q0.3 -1.6 -1.3 -1.3t-1.3 -1.3t-1.3 -1.3t-1.3 -1.3t-1.3 -1.3M242.5 252.6q-1.6 0.4 -1.3 -1.2t-1.3 -1.2t-1.3 -1.2t-1.3 -1.2t-1.3 -1.2t-1.3 -1.2M253.9 245.3q0.5 -1.6 -1.2 -1.4t-1.2 -1.4t-1.2 -1.4t-1.2 -1.4t-1.2 -1.4t-1.2 -1.4t-1.2 -1.4t-1.2 -1.4M240.9 235.1q0.2 -1.6 -1.4 -1.2t-1.4 -1.2t-1.4 -1.2M243.8 257.3q1.3 -1.1 -0.2 -1.8t-0.2 -1.8t-0.2 -1.8t-0.2 -1.8t-0.2 -1.8t-0.2 -1.8M236.9 255.9q1.5 -0.8 0.1 -1.8t0.1 -1.8t0.1 -1.8t0.1 -1.8M246.1 262.8q-1.6 -0.5 -0.5 -1.7t-0.5 -1.7t-0.5 -1.7t-0.5 -1.7M242.6 266.9q1.1 -1.2 -0.4 -1.7t-0.4 -1.7t-0.4 -1.7t-0.4 -1.7t-0.4 -1.7t-0.4 -1.7t-0.4 -1.7M240.0 263.9q-1.5 -0.7 -0.3 -1.8t-0.3 -1.8t-0.3 -1.8t-0.3 -1.8t-0.3 -1.8t-0.3 -1.8t-0.3 -1.8M248.4 265.2q1.2 -1.2 -0.4 -1.8t-0.4 -1.8t-0.4 -1.8M251.3 273.4q-0.9 -1.4 -1.8 -0.0t-1.8 -0.0t-1.8 -0.0t-1.8 -0.0t-1.8 -0.0t-1.8 -0.0t-1.8 -0.0t-1.8 -0.0M247.1 267.2q-0.8 1.5 -1.8 0.1t-1.8 0.1t-1.8 0.1t-1.8 0.1M249.7 274.2q-0.5 1.6 -1.7 0.4t-1.7 0.4t-1.7 0.4t-1.7 0.4t-1.7 0.4t-1.7 0.4t-1.7 0.4M249.1 186.2q1.6 0.3 1.2 -1.3t1.2 -1.3t1.2 -1.3t1.2 -1.3t1.2 -1.3t1.2 -1.3t1.2 -1.3M255.4 187.9q1.7 0.0 1.0 -1.5t1.0 -1.5t1.0 -1.5t1.0 -1.5t1.0 -1.5M242.7 196.9q0.8 -1.5 1.8 -0.2t1.8 -0.2t1.8 -0.2t1.8 -0.2t1.8 -0.2t1.8 -0.2M253.2 189.8q0.6 -1.6 1.8 -0.4t1.8 -0.4t1.8 -0.4t1.8 -0.4t1.8 -0.4t1.8 -0.4t1.8 -0.4M251.2 188.8q0.7 -1.5 1.8 -0.2t1.8 -0.2t1.8 -0.2t1.8 -0.2t1.8 -0.2M252.4 194.7q0.6 -1.6 1.8 -0.4t1.8 -0.4t1.8 -0.4t1.8 -0.4t1.8 -0.4t1.8 -0.4M259.6 200.4q0.2 -1.7 1.6 -0.8t1.6 -0.8t1.6 -0.8t1.6 -0.8t1.6 -0.8M251.3 199.7q0.4 -1.6 1.7 -0.5t1.7 -0.5t1.7 -0.5t1.7 -0.5t1.7 -0.5t1.7 -0.5t1.7 -0.5t1.7 -0.5M243.4 208.1q1.5 0.8 1.6 -0.9t1.6 -0.9t1.6 -0.9t1.6 -0.9t1.6 -0.9t1.6 -0.9t1.6 -0.9t1.6 -0.9M252.3 206.9q1.3 1.0 1.7 -0.6t1.7 -0.6t1.7 -0.6t1.7 -0.6t1.7 -0.6t1.7 -0.6t1.7 -0.6t1.7 -0.6M251.5 219.2q1.7 -0.1 0.9 -1.6t0.9 -1.6t0.9 -1.6t0.9 -1.6M258.7 216.3q1.6 -0.2 0.7 -1.6t0.7 -1.6t0.7 -1.6M252.7 217.8q-0.9 -1.4 0.8 -1.6t0.8 -1.6t0.8 -1.6t0.8 -1.6t0.8 -1.6M248.4 215.0q1.6 -0.3 0.7 -1.7t0.7 -1.7t0.7 -1.7t0.7 -1.7M246.1 214.0q-1.1 -1.3 0.6 -1.7t0.6 -1.7t0.6 -1.7M251.1 231.0q1.0 -1.3 -0.6 -1.7t-0.6 -1.7t-0.6 -1.7t-0.6 -1.7M252.7 243.7q-1.6 -0.5 -0.5 -1.7t-0.5 -1.7t-0.5 -1.7t-0.5 -1.7t-0.5 -1.7t-0.5 -1.7t-0.5 -1.7M250.7 250.7q1.0 -1.3 -0.6 -1.7t-0.6 -1.7t-0.6 -1.7M255.4 222.9q-1.6 -0.5 -0.4 -1.7t-0.4 -1.7t-0.4 -1.7t-0.4 -1.7t-0.4 -1.7t-0.4 -1.7t-0.4 -1.7M247.8 243.7q-1.7 -0.1 -0.9 -1.6t-0.9 -1.6t-0.9 -1.6t-0.9 -1.6t-0.9 -1.6t-0.9 -1.6t-0.9 -1.6t-0.9 -1.6M256.6 244.7q0.8 -1.4 -0.8 -1.6t-0.8 -1.6t-0.8 -1.6t-0.8 -1.6t-0.8 -1.6M256.3 247.6q0.5 -1.6 -1.2 -1.4t-1.2 -1.4t-1.2 -1.4t-1.2 -1.4t-1.2 -1.4t-1.2 -1.4t-1.2 -1.4M260.6 245.0q-1.7 -0.1 -0.9 -1.6t-0.9 -1.6t-0.9 -1.6t-0.9 -1.6M252.2 241.3q-1.6 -0.3 -0.7 -1.6t-0.7 -1.6t-0.7 -1.6t-0.7 -1.6M259.9 251.5q-0.2 -1.7 -1.6 -0.8t-1.6 -0.8t-1.6 -0.8t-1.6 -0.8M269.1 264.1q-1.6 0.3 -1.3 -1.3t-1.3 -1.3t-1.3 -1.3t-1.3 -1.3t-1.3 -1.3t-1.3 -1.3M257.7 264.4q-0.1 -1.7 -1.6 -0.9t-1.6 -0.9t-1.6 -0.9t-1.6 -0.9t-1.6 -0.9t-1.6 -0.9M265.9 256.6q-1.4 0.8 -1.6 -0.8t-1.6 -0.8t-1.6 -0.8t-1.6 -0.8t-1.6 -0.8t-1.6 -0.8t-1.6 -0.8M262.9 264.0q-1.5 0.6 -1.5 -1.0t-1.5 -1.0t-1.5 -1.0t-1.5 -1.0t-1.5 -1.0t-1.5 -1.0t-1.5 -1.0t-1.5 -1.0M257.3 257.9q0.2 -1.6 -1.4 -1.2t-1.4 -1.2t-1.4 -1.2t-1.4 -1.2t-1.4 -1.2M256.0 254.8q0.1 -1.7 -1.5 -1.1t-1.5 -1.1t-1.5 -1.1t-1.5 -1.1M262.8 256.1q-1.6 0.4 -1.3 -1.3t-1.3 -1.3t-1.3 -1.3M255.7 261.4q-0.0 -1.7 -1.5 -1.0t-1.5 -1.0t-1.5 -1.0t-1.5 -1.0t-1.5 -1.0t-1.5 -1.0t-1.5 -1.0t-1.5 -1.0M251.4 274.4q-1.7 0.2 -1.1 -1.4t-1.1 -1.4t-1.1 -1.4t-1.1 -1.4M258.4 276.3q-1.7 0.2 -1.2 -1.4t-1.2 -1.4t-1.2 -1.4M264.2 276.7q-1.6 0.5 -1.4 -1.2t-1.4 -1.2t-1.4 -1.2t-1.4 -1.2t-1.4 -1.2M256.1 271.5q-0.1 -1.7 -1.6 -0.9t-1.6 -0.9t-1.6 -0.9t-1.6 -0.9M257.7 272.5q-1.6 0.4 -1.3 -1.2t-1.3 -1.2t-1.3 -1.2t-1.3 -1.2t-1.3 -1.2t-1.3 -1.2M253.0 276.2q0.0 -1.7 -1.5 -1.0t-1.5 -1.0t-1.5 -1.0t-1.5 -1.0t-1.5 -1.0t-1.5 -1.0t-1.5 -1.0M260.1 190.2q0.0 -1.7 1.5 -1.0t1.5 -1.0t1.5 -1.0t1.5 -1.0t1.5 -1.0t1.5 -1.0t1.5 -1.0M260.8 188.9q-0.1 -1.7 1.4 -1.1t1.4 -1.1t1.4 -1.1M256.6 182.3q1.4 0.9 1.6 -0.7t1.6 -0.7t1.6 -0.7M263.7 186.7q0.2 -1.6 1.6 -0.8t1.6 -0.8t1.6 -0.8t1.6 -0.8t1.6 -0.8t1.6 -0.8t1.6 -0.8t1.6 -0.8M266.5 183.0q0.0 -1.7 1.5 -0.9t1.5 -0.9t1.5 -0.9t1.5 -0.9t1.5 -0.9t1.5 -0.9t1.5 -0.9t1.5 -0.9M270.9 208.3q1.5 0.7 1.5 -0.9t1.5 -0.9t1.5 -0.9t1.5 -0.9t1.5 -0.9t1.5 -0.9M261.0 209.0q1.6 0.4 1.3 -1.3t1.3 -1.3t1.3 -1.3M254.5 203.8q-0.4 -1.6 1.3 -1.3t1.3 -1.3t1.3 -1.3t1.3 -1.3t1.3 -1.3M254.0 212.2q-0.4 -1.6 1.2 -1.3t1.2 -1.3t1.2 -1.3t1.2 -1.3M265.2 214.7q-0.4 -1.6 1.2 -1.3t1.2 -1.3t1.2 -1.3t1.2 -1.3M265.0 205.2q-0.3 -1.6 1.3 -1.2t1.3 -1.2t1.3 -1.2t1.3 -1.2t1.3 -1.2t1.3 -1.2t1.3 -1.2t1.3 -1.2M257.3 210.7q1.6 0.5 1.4 -1.1t1.4 -1.1t1.4 -1.1t1.4 -1.1M274.1 213.9q-0.2 -1.7 1.4 -1.1t1.4 -1.1t1.4 -1.1t1.4 -1.1t1.4 -1.1t1.4 -1.1M259.8 205.1q1.6 0.4 1.3 -1.2t1.3 -1.2t1.3 -1.2t1.3 -1.2t1.3 -1.2t1.3 -1.2M258.1 201.5q-0.2 -1.6 1.4 -1.2t1.4 -1.2t1.4 -1.2t1.4 -1.2t1.4 -1.2M255.1 220.2q1.6 0.4 1.3 -1.3t1.3 -1.3t1.3 -1.3t1.3 -1.3t1.3 -1.3t1.3 -1.3t1.3 -1.3t1.3 -1.3M261.2 209.7q-0.6 -1.5 1.0 -1.5t1.0 -1.5t1.0 -1.5M268.6 223.4q1.6 0.5 1.4 -1.1t1.4 -1.1t1.4 -1.1t1.4 -1.1t1.4 -1.1t1.4 -1.1t1.4 -1.1t1.4 -1.1M260.4 223.9q1.5 0.6 1.5 -1.0t1.5 -1.0t1.5 -1.0M269.5 219.8q-0.4 -1.6 1.3 -1.3t1.3 -1.3t1.3 -1.3M260.3 226.6q-1.4 -0.9 0.0 -1.8t0.0 -1.8t0.0 -1.8t0.0 -1.8t0.0 -1.8t0.0 -1.8M269.0 250.3q-1.6 0.4 -1.3 -1.3t-1.3 -1.3t-1.3 -1.3t-1.3 -1.3t-1.3 -1.3t-1.3 -1.3t-1.3 -1.3t-1.3 -1.3M266.4 248.8q-0.9 1.4 -1.8 0.0t-1.8 0.0t-1.8 0.0t-1.8 0.0t-1.8 0.0M275.6 252.4q-0.7 -1.5 -1.8 -0.3t-1.8 -0.3t-1.8 -0.3t-1.8 -0.3t-1.8 -0.3t-1.8 -0.3M277.7 248.4q-0.8 -1.5 -1.8 -0.2t-1.8 -0.2t-1.8 -0.2t-1.8 -0.2t-1.8 -0.2t-1.8 -0.2t-1.8 -0.2t-1.8 -0.2M272.6 249.9q-0.8 1.5 -1.8 0.2t-1.8 0.2t-1.8 0.2t-1.8 0.2t-1.8 0.2M274.9 266.8q-0.7 -1.5 -1.8 -0.3t-1.8 -0.3t-1.8 -0.3t-1.8 -0.3t-1.8 -0.3t-1.8 -0.3t-1.8 -0.3M277.5 276.6q-0.6 -1.6 -1.8 -0.4t-1.8 -0.4t-1.8 -0.4t-1.8 -0.4M266.7 263.8q-0.4 -1.6 -1.7 -0.6t-1.7 -0.6t-1.7 -0.6t-1.7 -0.6M272.0 266.1q-1.4 0.9 -1.6 -0.8t-1.6 -0.8t-1.6 -0.8t-1.6 -0.8t-1.6 -0.8t-1.6 -0.8t-1.6 -0.8t-1.6 -0.8M267.8 266.0q-0.7 -1.5 -1.8 -0.3t-1.8 -0.3t-1.8 -0.3t-1.8 -0.3t-1.8 -0.3M279.4 271.1q-0.9 1.4 -1.8 0.0t-1.8 0.0t-1.8 0.0t-1.8 0.0t-1.8 0.0t-1.8 0.0t-1.8 0.0M272.5 283.9q-0.9 1.4 -1.8 -0.0t-1.8 -0.0t-1.8 -0.0t-1.8 -0.0t-1.8 -0.0M279.0 283.3q-0.9 1.4 -1.8 -0.0t-1.8 -0.0t-1.8 -0.0M279.5 285.7q-0.9 -1.4 -1.8 0.1t-1.8 0.1t-1.8 0.1t-1.8 0.1M276.9 283.3q-1.1 -1.2 -1.8 0.3t-1.8 0.3t-1.8 0.3t-1.8 0.3t-1.8 0.3t-1.8 0.3M277.2 276.8q-0.9 -1.4 -1.8 -0.0t-1.8 -0.0t-1.8 -0.0t-1.8 -0.0t-1.8 -0.0t-1.8 -0.0t-1.8 -0.0M285.3 286.9q-1.0 -1.4 -1.8 0.1t-1.8 0.1t-1.8 0.1M276.7 276.9q-0.8 1.4 -1.8 0.1t-1.8 0.1t-1.8 0.1M278.6 181.8q1.5 0.8 0.1 1.8t0.1 1.8t0.1 1.8t0.1 1.8t0.1 1.8t0.1 1.8M277.2 168.8q1.4 0.9 -0.0 1.8t-0.0 1.8t-0.0 1.8t-0.0 1.8t-0.0 1.8t-0.0 1.8M268.9 175.4q1.3 1.1 1.7 -0.5t1.7 -0.5t1.7 -0.5t1.7 -0.5t1.7 -0.5t1.7 -0.5t1.7 -0.5M286.0 205.2q-0.1 1.7 1.5 1.0t1.5 1.0t1.5 1.0t1.5 1.0t1.5 1.0t1.5 1.0t1.5 1.0t1.5 1.0M269.5 188.6q1.5 -0.7 1.5 1.0t1.5 1.0t1.5 1.0t1.5 1.0t1.5 1.0t1.5 1.0t1.5 1.0M276.6 200.3q-0.5 1.6 1.2 1.4t1.2 1.4t1.2 1.4t1.2 1.4t1.2 1.4t1.2 1.4t1.2 1.4t1.2 1.4M277.3 206.7q1.6 -0.3 1.3 1.3t1.3 1.3t1.3 1.3t1.3 1.3M283.2 205.6q1.7 -0.1 1.0 1.5t1.0 1.5t1.0 1.5t1.0 1.5t1.0 1.5t1.0 1.5M260.4 209.9q-0.5 1.6 1.2 1.4t1.2 1.4t1.2 1.4t1.2 1.4t1.2 1.4t1.2 1.4M281.2 216.2q0.2 -1.7 1.6 -0.8t1.6 -0.8t1.6 -0.8M277.0 250.5q-1.6 0.6 -1.4 -1.1t-1.4 -1.1t-1.4 -1.1t-1.4 -1.1t-1.4 -1.1M287.6 261.6q-1.1 1.2 -1.8 -0.3t-1.8 -0.3t-1.8 -0.3t-1.8 -0.3t-1.8 -0.3t-1.8 -0.3t-1.8 -0.3M287.6 259.8q-0.5 1.6 -1.7 0.5t-1.7 0.5t-1.7 0.5t-1.7 0.5t-1.7 0.5M291.0 252.1q-1.0 1.3 -1.8 -0.2t-1.8 -0.2t-1.8 -0.2t-1.8 -0.2t-1.8 -0.2t-1.8 -0.2t-1.8 -0.2t-1.8 -0.2M286.2 269.5q-0.9 -1.4 -1.8 -0.0t-1.8 -0.0t-1.8 -0.0t-1.8 -0.0t-1.8 -0.0t-1.8 -0.0M284.3 262.3q-1.1 -1.3 -1.8 0.2t-1.8 0.2t-1.8 0.2M298.2 275.0q-0.6 -1.6 -1.8 -0.4t-1.8 -0.4t-1.8 -0.4t-1.8 -0.4t-1.8 -0.4t-1.8 -0.4t-1.8 -0.4M268.8 288.4q-1.3 -1.0 0.2 -1.8t0.2 -1.8t0.2 -1.8t0.2 -1.8t0.2 -1.8M282.1 291.8q1.6 -0.3 0.7 -1.7t0.7 -1.7t0.7 -1.7t0.7 -1.7M266.3 290.8q-1.3 -1.0 0.1 -1.8t0.1 -1.8t0.1 -1.8t0.1 -1.8t0.1 -1.8t0.1 -1.8t0.1 -1.8M291.0 175.3q1.6 -0.3 1.2 1.3t1.2 1.3t1.2 1.3t1.2 1.3t1.2 1.3t1.2 1.3t1.2 1.3M294.2 177.9q-0.2 1.7 1.4 1.1t1.4 1.1t1.4 1.1t1.4 1.1t1.4 1.1t1.4 1.1t1.4 1.1t1.4 1.1M289.4 194.5q-0.5 1.6 1.1 1.4t1.1 1.4t1.1 1.4t1.1 1.4t1.1 1.4t1.1 1.4M294.4 169.0q1.6 -0.5 1.4 1.1t1.4 1.1t1.4 1.1t1.4 1.1t1.4 1.1t1.4 1.1M282.8 179.9q-0.4 1.6 1.2 1.3t1.2 1.3t1.2 1.3t1.2 1.3t1.2 1.3t1.2 1.3t1.2 1.3M291.4 189.6q-1.4 0.9 -0.0 1.8t-0.0 1.8t-0.0 1.8t-0.0 1.8t-0.0 1.8t-0.0 1.8M297.4 181.1q1.4 0.9 -0.0 1.8t-0.0 1.8t-0.0 1.8t-0.0 1.8t-0.0 1.8t-0.0 1.8t-0.0 1.8t-0.0 1.8M290.3 185.6q1.4 1.0 -0.1 1.8t-0.1 1.8t-0.1 1.8t-0.1 1.8M303.3 185.5q-1.1 1.2 0.5 1.7t0.5 1.7t0.5 1.7t0.5 1.7t0.5 1.7t0.5 1.7M282.5 188.6q1.3 1.1 -0.2 1.8t-0.2 1.8t-0.2 1.8t-0.2 1.8t-0.2 1.8t-0.2 1.8M286.3 181.7q-1.4 0.9 -0.0 1.8t-0.0 1.8t-0.0 1.8t-0.0 1.8t-0.0 1.8t-0.0 1.8t-0.0 1.8M300.1 178.3q-1.5 0.7 -0.2 1.8t-0.2 1.8t-0.2 1.8t-0.2 1.8t-0.2 1.8t-0.2 1.8t-0.2 1.8t-0.2 1.8M288.7 195.3q1.4 0.9 -0.0 1.8t-0.0 1.8t-0.0 1.8t-0.0 1.8t-0.0 1.8M291.8 203.2q0.2 1.7 1.6 0.8t1.6 0.8t1.6 0.8t1.6 0.8M291.1 197.5q0.4 1.6 1.7 0.6t1.7 0.6t1.7 0.6M297.2 202.3q1.3 1.0 -0.2 1.8t-0.2 1.8t-0.2 1.8t-0.2 1.8t-0.2 1.8M299.8 201.4q1.3 1.1 -0.2 1.8t-0.2 1.8t-0.2 1.8t-0.2 1.8t-0.2 1.8t-0.2 1.8t-0.2 1.8M301.3 207.8q1.1 1.2 -0.5 1.7t-0.5 1.7t-0.5 1.7t-0.5 1.7t-0.5 1.7t-0.5 1.7M294.4 205.6q-1.5 0.7 -0.2 1.8t-0.2 1.8t-0.2 1.8t-0.2 1.8t-0.2 1.8M300.9 202.3q1.1 1.2 -0.5 1.7t-0.5 1.7t-0.5 1.7t-0.5 1.7t-0.5 1.7M302.2 272.1q1.3 -1.1 -0.2 -1.8t-0.2 -1.8t-0.2 -1.8t-0.2 -1.8t-0.2 -1.8t-0.2 -1.8t-0.2 -1.8M292.1 265.2q-1.5 -0.8 -0.1 -1.8t-0.1 -1.8t-0.1 -1.8t-0.1 -1.8t-0.1 -1.8t-0.1 -1.8t-0.1 -1.8t-0.1 -1.8M287.1 271.6q-0.3 -1.6 -1.7 -0.6t-1.7 -0.6t-1.7 -0.6M304.9 274.1q-0.8 -1.4 -1.8 -0.1t-1.8 -0.1t-1.8 -0.1t-1.8 -0.1t-1.8 -0.1M306.0 271.6q-1.3 1.1 -1.7 -0.5t-1.7 -0.5t-1.7 -0.5t-1.7 -0.5t-1.7 -0.5M293.3 272.4q-1.3 1.1 -1.7 -0.5t-1.7 -0.5t-1.7 -0.5t-1.7 -0.5t-1.7 -0.5t-1.7 -0.5M294.9 269.7q0.1 -1.7 -1.5 -1.1t-1.5 -1.1t-1.5 -1.1M290.7 272.6q-1.4 0.9 -1.6 -0.8t-1.6 -0.8t-1.6 -0.8t-1.6 -0.8M311.7 273.4q-1.4 0.9 -1.6 -0.8t-1.6 -0.8t-1.6 -0.8t-1.6 -0.8t-1.6 -0.8t-1.6 -0.8t-1.6 -0.8t-1.6 -0.8M302.2 275.5q0.3 -1.6 -1.3 -1.2t-1.3 -1.2t-1.3 -1.2t-1.3 -1.2M295.6 291.6q-1.6 0.3 -1.2 -1.3t-1.2 -1.3t-1.2 -1.3t-1.2 -1.3t-1.2 -1.3t-1.2 -1.3t-1.2 -1.3M313.4 290.7q0.6 -1.5 -1.0 -1.5t-1.0 -1.5t-1.0 -1.5t-1.0 -1.5t-1.0 -1.5t-1.0 -1.5t-1.0 -1.5M292.1 292.3q-1.7 0.1 -1.0 -1.5t-1.0 -1.5t-1.0 -1.5t-1.0 -1.5t-1.0 -1.5t-1.0 -1.5M308.6 290.9q0.8 -1.5 -0.9 -1.6t-0.9 -1.6t-0.9 -1.6t-0.9 -1.6t-0.9 -1.6t-0.9 -1.6t-0.9 -1.6M306.9 179.3q-0.1 1.7 1.5 1.0t1.5 1.0t1.5 1.0M302.7 171.0q1.3 -1.0 1.7 0.6t1.7 0.6t1.7 0.6t1.7 0.6t1.7 0.6t1.7 0.6M299.3 186.4q1.4 -0.9 1.6 0.7t1.6 0.7t1.6 0.7t1.6 0.7t1.6 0.7t1.6 0.7t1.6 0.7M294.9 187.9q1.4 -0.9 1.6 0.8t1.6 0.8t1.6 0.8t1.6 0.8t1.6 0.8t1.6 0.8t1.6 0.8t1.6 0.8M304.1 193.2q1.6 -0.6 1.4 1.1t1.4 1.1t1.4 1.1t1.4 1.1M310.4 208.9q-0.1 1.7 1.4 1.1t1.4 1.1t1.4 1.1M307.3 200.1q1.7 -0.2 1.1 1.4t1.1 1.4t1.1 1.4t1.1 1.4M313.2 197.5q-0.9 1.4 0.8 1.6t0.8 1.6t0.8 1.6t0.8 1.6t0.8 1.6M309.2 209.2q-0.5 1.6 1.2 1.4t1.2 1.4t1.2 1.4M298.4 211.6q-0.4 1.6 1.2 1.3t1.2 1.3t1.2 1.3M329.8 236.3q-1.6 -0.4 -1.3 1.2t-1.3 1.2t-1.3 1.2t-1.3 1.2t-1.3 1.2t-1.3 1.2t-1.3 1.2M320.1 239.7q-1.6 -0.5 -1.4 1.1t-1.4 1.1t-1.4 1.1t-1.4 1.1t-1.4 1.1t-1.4 1.1M321.1 242.9q0.2 1.7 -1.4 1.2t-1.4 1.2t-1.4 1.2t-1.4 1.2M317.4 246.1q0.2 1.7 -1.4 1.1t-1.4 1.1t-1.4 1.1t-1.4 1.1t-1.4 1.1t-1.4 1.1t-1.4 1.1t-1.4 1.1M308.9 261.8q-1.5 -0.8 -1.6 0.9t-1.6 0.9t-1.6 0.9M311.3 253.6q-1.5 -0.7 -1.5 0.9t-1.5 0.9t-1.5 0.9t-1.5 0.9M306.7 259.5q0.0 1.7 -1.5 1.0t-1.5 1.0t-1.5 1.0t-1.5 1.0M309.9 247.8q-1.5 -0.8 -1.6 0.9t-1.6 0.9t-1.6 0.9t-1.6 0.9t-1.6 0.9M317.7 255.4q-0.3 1.6 -1.7 0.7t-1.7 0.7t-1.7 0.7t-1.7 0.7t-1.7 0.7t-1.7 0.7t-1.7 0.7M314.1 268.6q-1.1 1.2 -1.8 -0.3t-1.8 -0.3t-1.8 -0.3t-1.8 -0.3t-1.8 -0.3t-1.8 -0.3t-1.8 -0.3t-1.8 -0.3M306.0 267.5q-1.1 -1.2 -1.8 0.3t-1.8 0.3t-1.8 0.3M300.6 270.2q-0.9 1.4 -1.8 0.0t-1.8 0.0t-1.8 0.0M324.9 265.1q-0.8 -1.5 -1.8 -0.1t-1.8 -0.1t-1.8 -0.1t-1.8 -0.1t-1.8 -0.1t-1.8 -0.1M296.2 282.3q-0.3 1.6 -1.7 0.7t-1.7 0.7t-1.7 0.7t-1.7 0.7M318.3 176.9q1.2 1.2 1.8 -0.4t1.8 -0.4t1.8 -0.4t1.8 -0.4M313.5 178.7q1.0 1.3 1.8 -0.1t1.8 -0.1t1.8 -0.1t1.8 -0.1t1.8 -0.1t1.8 -0.1t1.8 -0.1M335.5 187.5q0.3 1.6 -1.3 1.2t-1.3 1.2t-1.3 1.2t-1.3 1.2t-1.3 1.2t-1.3 1.2t-1.3 1.2M330.1 197.6q-1.6 -0.4 -1.3 1.2t-1.3 1.2t-1.3 1.2t-1.3 1.2M323.5 211.3q1.4 -0.8 1.6 0.8t1.6 0.8t1.6 0.8t1.6 0.8t1.6 0.8M312.0 200.6q-0.3 1.6 1.3 1.2t1.3 1.2t1.3 1.2t1.3 1.2t1.3 1.2t1.3 1.2t1.3 1.2M316.1 208.9q1.6 -0.5 1.4 1.2t1.4 1.2t1.4 1.2M310.7 200.9q0.0 1.7 1.5 0.9t1.5 0.9t1.5 0.9t1.5 0.9t1.5 0.9M313.7 201.4q1.6 -0.5 1.4 1.1t1.4 1.1t1.4 1.1t1.4 1.1t1.4 1.1t1.4 1.1t1.4 1.1M327.0 211.9q-0.1 1.7 1.5 1.0t1.5 1.0t1.5 1.0M325.9 213.6q-0.3 1.6 -1.7 0.6t-1.7 0.6t-1.7 0.6t-1.7 0.6t-1.7 0.6t-1.7 0.6t-1.7 0.6M314.8 216.7q0.3 1.6 -1.3 1.3t-1.3 1.3t-1.3 1.3M330.5 216.9q-0.2 1.6 -1.6 0.7t-1.6 0.7t-1.6 0.7t-1.6 0.7t-1.6 0.7t-1.6 0.7t-1.6 0.7t-1.6 0.7M333.5 217.6q-0.0 1.7 -1.5 0.9t-1.5 0.9t-1.5 0.9t-1.5 0.9t-1.5 0.9t-1.5 0.9t-1.5 0.9t-1.5 0.9M327.7 230.2q1.5 0.7 0.3 1.8t0.3 1.8t0.3 1.8t0.3 1.8t0.3 1.8t0.3 1.8M324.5 216.7q-1.1 1.2 0.4 1.7t0.4 1.7t0.4 1.7t0.4 1.7t0.4 1.7t0.4 1.7t0.4 1.7M325.0 253.8q-1.7 0.2 -0.8 1.6t-0.8 1.6t-0.8 1.6t-0.8 1.6M328.2 241.0q-1.5 0.6 -0.3 1.8t-0.3 1.8t-0.3 1.8t-0.3 1.8t-0.3 1.8t-0.3 1.8t-0.3 1.8t-0.3 1.8M319.2 240.0q-1.5 0.6 -0.3 1.8t-0.3 1.8t-0.3 1.8M327.4 258.8q0.1 1.7 -1.5 1.0t-1.5 1.0t-1.5 1.0M325.1 260.5q0.3 1.6 -1.3 1.2t-1.3 1.2t-1.3 1.2M322.2 263.0q0.6 1.6 -1.1 1.4t-1.1 1.4t-1.1 1.4t-1.1 1.4t-1.1 1.4t-1.1 1.4t-1.1 1.4M321.0 261.1q-1.6 -0.6 -1.4 1.1t-1.4 1.1t-1.4 1.1M322.2 255.7q-1.7 -0.1 -1.1 1.4t-1.1 1.4t-1.1 1.4M336.5 272.7q0.9 -1.4 -0.7 -1.7t-0.7 -1.7t-0.7 -1.7t-0.7 -1.7M328.4 182.1q1.6 -0.5 1.4 1.1t1.4 1.1t1.4 1.1t1.4 1.1t1.4 1.1M330.9 194.8q1.6 -0.4 1.3 1.2t1.3 1.2t1.3 1.2t1.3 1.2t1.3 1.2M334.6 189.7q-0.4 1.6 1.2 1.3t1.2 1.3t1.2 1.3t1.2 1.3t1.2 1.3M329.0 188.5q-0.1 1.7 1.4 1.1t1.4 1.1t1.4 1.1M333.6 188.1q1.2 -1.1 1.7 0.5t1.7 0.5t1.7 0.5t1.7 0.5M334.1 192.3q0.0 1.7 1.5 0.9t1.5 0.9t1.5 0.9t1.5 0.9t1.5 0.9t1.5 0.9t1.5 0.9M335.8 193.2q1.5 -0.6 1.5 1.0t1.5 1.0t1.5 1.0M356.2 193.3q-1.6 -0.4 -1.3 1.2t-1.3 1.2t-1.3 1.2t-1.3 1.2t-1.3 1.2t-1.3 1.2t-1.3 1.2t-1.3 1.2M337.2 191.3q0.5 1.6 -1.1 1.4t-1.1 1.4t-1.1 1.4t-1.1 1.4t-1.1 1.4t-1.1 1.4M334.5 197.0q-1.6 -0.4 -1.3 1.2t-1.3 1.2t-1.3 1.2t-1.3 1.2M341.8 200.4q-1.6 -0.3 -1.2 1.3t-1.2 1.3t-1.2 1.3t-1.2 1.3t-1.2 1.3t-1.2 1.3t-1.2 1.3t-1.2 1.3M336.1 204.2q-1.6 -0.3 -1.2 1.3t-1.2 1.3t-1.2 1.3t-1.2 1.3t-1.2 1.3t-1.2 1.3t-1.2 1.3M335.5 188.1q-1.6 -0.6 -1.4 1.1t-1.4 1.1t-1.4 1.1t-1.4 1.1t-1.4 1.1t-1.4 1.1M333.5 213.0q-1.4 1.0 0.1 1.8t0.1 1.8t0.1 1.8t0.1 1.8M334.1 207.2q1.5 0.8 0.2 1.8t0.2 1.8t0.2 1.8M328.3 204.5q1.4 0.8 0.1 1.8t0.1 1.8t0.1 1.8t0.1 1.8t0.1 1.8t0.1 1.8M343.2 207.6q-1.2 1.1 0.3 1.8t0.3 1.8t0.3 1.8t0.3 1.8t0.3 1.8t0.3 1.8M351.5 224.6q-1.4 0.8 -0.1 1.8t-0.1 1.8t-0.1 1.8M333.0 228.0q1.2 1.1 -0.3 1.8t-0.3 1.8t-0.3 1.8t-0.3 1.8t-0.3 1.8t-0.3 1.8t-0.3 1.8M345.0 238.3q-1.6 0.4 -0.6 1.7t-0.6 1.7t-0.6 1.7t-0.6 1.7M332.4 237.2q0.1 1.7 -1.5 1.1t-1.5 1.1t-1.5 1.1t-1.5 1.1t-1.5 1.1t-1.5 1.1t-1.5 1.1M335.2 246.4q-1.6 -0.3 -1.2 1.3t-1.2 1.3t-1.2 1.3M336.2 233.6q-1.5 -0.6 -1.5 1.0t-1.5 1.0t-1.5 1.0t-1.5 1.0M327.6 240.9q-1.6 -0.5 -1.4 1.2t-1.4 1.2t-1.4 1.2M336.6 243.2q-1.6 -0.4 -1.3 1.2t-1.3 1.2t-1.3 1.2t-1.3 1.2t-1.3 1.2t-1.3 1.2t-1.3 1.2t-1.3 1.2M343.4 256.5q0.3 1.6 -1.3 1.2t-1.3 1.2t-1.3 1.2t-1.3 1.2t-1.3 1.2t-1.3 1.2M335.2 255.1q0.7 1.5 -1.0 1.5t-1.0 1.5t-1.0 1.5t-1.0 1.5t-1.0 1.5t-1.0 1.5t-1.0 1.5M347.0 259.5q0.3 1.6 -1.3 1.2t-1.3 1.2t-1.3 1.2t-1.3 1.2t-1.3 1.2t-1.3 1.2t-1.3 1.2M343.0 256.1q-1.5 -0.7 -1.5 1.0t-1.5 1.0t-1.5 1.0t-1.5 1.0t-1.5 1.0t-1.5 1.0t-1.5 1.0M341.7 186.7q1.6 -0.5 1.4 1.1t1.4 1.1t1.4 1.1t1.4 1.1M337.3 190.3q-0.1 1.7 1.5 1.1t1.5 1.1t1.5 1.1t1.5 1.1t1.5 1.1t1.5 1.1M342.0 196.7q1.4 -0.9 1.7 0.7t1.7 0.7t1.7 0.7M341.7 197.1q1.5 -0.7 1.5 1.0t1.5 1.0t1.5 1.0t1.5 1.0t1.5 1.0t1.5 1.0M338.8 202.2q1.6 -0.4 1.3 1.3t1.3 1.3t1.3 1.3t1.3 1.3t1.3 1.3t1.3 1.3M344.9 198.7q0.0 1.7 1.5 0.9t1.5 0.9t1.5 0.9t1.5 0.9t1.5 0.9t1.5 0.9M339.8 194.3q-0.4 1.6 1.2 1.3t1.2 1.3t1.2 1.3t1.2 1.3t1.2 1.3t1.2 1.3t1.2 1.3M340.2 205.5q1.6 -0.3 1.3 1.3t1.3 1.3t1.3 1.3M338.2 206.3q1.6 -0.4 1.3 1.2t1.3 1.2t1.3 1.2t1.3 1.2t1.3 1.2t1.3 1.2t1.3 1.2M332.5 196.2q1.5 -0.6 1.5 1.0t1.5 1.0t1.5 1.0t1.5 1.0t1.5 1.0t1.5 1.0t1.5 1.0t1.5 1.0M359.0 212.4q-0.8 1.5 -1.8 0.1t-1.8 0.1t-1.8 0.1t-1.8 0.1t-1.8 0.1t-1.8 0.1M359.7 232.4q-0.9 1.4 -1.8 0.0t-1.8 0.0t-1.8 0.0t-1.8 0.0t-1.8 0.0t-1.8 0.0M353.8 217.5q-0.6 -1.5 -1.8 -0.3t-1.8 -0.3t-1.8 -0.3t-1.8 -0.3t-1.8 -0.3t-1.8 -0.3M352.5 237.6q-0.6 1.6 -1.8 0.4t-1.8 0.4t-1.8 0.4M348.8 234.1q-1.2 -1.2 -1.8 0.4t-1.8 0.4t-1.8 0.4M347.8 236.7q1.0 1.3 -0.6 1.7t-0.6 1.7t-0.6 1.7M345.0 246.4q0.9 1.4 -0.7 1.7t-0.7 1.7t-0.7 1.7M346.9 250.3q1.0 1.3 -0.6 1.7t-0.6 1.7t-0.6 1.7M356.3 241.1q1.2 1.2 -0.4 1.8t-0.4 1.8t-0.4 1.8t-0.4 1.8t-0.4 1.8t-0.4 1.8t-0.4 1.8M359.8 250.2q1.1 1.3 -0.5 1.7t-0.5 1.7t-0.5 1.7t-0.5 1.7t-0.5 1.7t-0.5 1.7t-0.5 1.7M347.9 259.5q-1.7 -0.1 -1.0 1.5t-1.0 1.5t-1.0 1.5t-1.0 1.5t-1.0 1.5t-1.0 1.5t-1.0 1.5M363.7 245.3q0.9 1.4 -0.7 1.6t-0.7 1.6t-0.7 1.6t-0.7 1.6t-0.7 1.6t-0.7 1.6t-0.7 1.6M357.7 238.8q-1.6 0.5 -0.5 1.7t-0.5 1.7t-0.5 1.7t-0.5 1.7t-0.5 1.7M350.9 209.7q-0.2 1.7 1.4 1.1t1.4 1.1t1.4 1.1t1.4 1.1M350.3 214.0q1.7 0.1 0.9 1.6t0.9 1.6t0.9 1.6t0.9 1.6t0.9 1.6t0.9 1.6t0.9 1.6M358.3 212.4q-0.3 1.6 1.3 1.2t1.3 1.2t1.3 1.2t1.3 1.2t1.3 1.2M352.9 206.1q1.7 -0.2 1.2 1.4t1.2 1.4t1.2 1.4t1.2 1.4t1.2 1.4t1.2 1.4t1.2 1.4M367.8 224.3q1.6 0.6 0.4 1.8t0.4 1.8t0.4 1.8M360.5 230.6q-1.2 1.2 0.4 1.8t0.4 1.8t0.4 1.8M358.5 249.6q-1.4 0.8 -0.1 1.8t-0.1 1.8t-0.1 1.8M366.0 239.5q1.3 1.0 -0.2 1.8t-0.2 1.8t-0.2 1.8t-0.2 1.8t-0.2 1.8" stroke="#1e84d8" stroke-width="1.3" fill="none" stroke-linecap="round"/>
<path d="M213.0 214.1q1.5 -0.7 0.2 -1.8t0.2 -1.8t0.2 -1.8t0.2 -1.8t0.2 -1.8M211.5 219.0q-1.5 -0.7 -0.2 -1.8t-0.2 -1.8t-0.2 -1.8t-0.2 -1.8t-0.2 -1.8t-0.2 -1.8M210.4 234.2q-1.5 -0.7 -0.3 -1.8t-0.3 -1.8t-0.3 -1.8M211.2 240.0q0.9 -1.4 -0.7 -1.6t-0.7 -1.6t-0.7 -1.6t-0.7 -1.6t-0.7 -1.6M213.7 240.1q-1.5 -0.7 -0.2 -1.8t-0.2 -1.8t-0.2 -1.8t-0.2 -1.8t-0.2 -1.8t-0.2 -1.8t-0.2 -1.8t-0.2 -1.8M209.0 242.2q1.3 -1.0 -0.2 -1.8t-0.2 -1.8t-0.2 -1.8t-0.2 -1.8M218.3 252.9q-1.6 -0.4 -0.6 -1.7t-0.6 -1.7t-0.6 -1.7t-0.6 -1.7t-0.6 -1.7t-0.6 -1.7t-0.6 -1.7t-0.6 -1.7M224.5 202.6q-1.1 -1.3 0.6 -1.7t0.6 -1.7t0.6 -1.7t0.6 -1.7t0.6 -1.7t0.6 -1.7t0.6 -1.7M222.9 202.0q0.2 -1.6 1.6 -0.8t1.6 -0.8t1.6 -0.8t1.6 -0.8t1.6 -0.8t1.6 -0.8t1.6 -0.8M229.9 216.1q-1.6 -0.6 -0.4 -1.8t-0.4 -1.8t-0.4 -1.8t-0.4 -1.8t-0.4 -1.8t-0.4 -1.8M219.2 235.9q0.9 -1.4 1.8 0.0t1.8 0.0t1.8 0.0t1.8 0.0t1.8 0.0M220.6 236.1q1.1 1.3 1.8 -0.2t1.8 -0.2t1.8 -0.2t1.8 -0.2t1.8 -0.2t1.8 -0.2t1.8 -0.2t1.8 -0.2M222.5 257.5q-1.7 -0.2 -0.8 -1.6t-0.8 -1.6t-0.8 -1.6t-0.8 -1.6t-0.8 -1.6M221.4 254.8q-1.7 -0.1 -0.9 -1.6t-0.9 -1.6t-0.9 -1.6t-0.9 -1.6t-0.9 -1.6t-0.9 -1.6t-0.9 -1.6t-0.9 -1.6M236.8 186.3q-0.4 1.6 1.2 1.3t1.2 1.3t1.2 1.3t1.2 1.3t1.2 1.3t1.2 1.3t1.2 1.3t1.2 1.3M232.0 188.0q-0.2 1.7 1.4 1.2t1.4 1.2t1.4 1.2M234.8 205.1q1.5 -0.8 1.6 0.8t1.6 0.8t1.6 0.8t1.6 0.8t1.6 0.8t1.6 0.8t1.6 0.8M243.3 202.6q-0.2 1.7 1.4 1.1t1.4 1.1t1.4 1.1t1.4 1.1t1.4 1.1M226.8 236.0q-0.7 -1.5 1.0 -1.5t1.0 -1.5t1.0 -1.5t1.0 -1.5t1.0 -1.5t1.0 -1.5t1.0 -1.5M230.0 233.0q1.4 -0.9 0.0 -1.8t0.0 -1.8t0.0 -1.8t0.0 -1.8t0.0 -1.8M238.7 231.1q-1.6 -0.6 -0.4 -1.8t-0.4 -1.8t-0.4 -1.8t-0.4 -1.8t-0.4 -1.8M245.8 254.5q0.3 -1.6 -1.3 -1.2t-1.3 -1.2t-1.3 -1.2t-1.3 -1.2t-1.3 -1.2M243.3 245.0q0.6 -1.6 -1.1 -1.4t-1.1 -1.4t-1.1 -1.4t-1.1 -1.4t-1.1 -1.4t-1.1 -1.4M251.3 264.4q1.2 -1.2 -0.4 -1.8t-0.4 -1.8t-0.4 -1.8t-0.4 -1.8M237.9 267.6q-0.9 1.4 -1.8 0.0t-1.8 0.0t-1.8 0.0M252.6 194.4q1.2 1.1 1.7 -0.4t1.7 -0.4t1.7 -0.4t1.7 -0.4t1.7 -0.4t1.7 -0.4t1.7 -0.4M245.4 190.6q0.8 1.5 1.8 0.1t1.8 0.1t1.8 0.1M244.4 203.0q1.5 0.7 1.5 -1.0t1.5 -1.0t1.5 -1.0t1.5 -1.0t1.5 -1.0t1.5 -1.0M241.0 214.5q-0.1 -1.7 1.4 -1.1t1.4 -1.1t1.4 -1.1t1.4 -1.1t1.4 -1.1t1.4 -1.1M247.0 209.4q1.6 0.4 1.3 -1.2t1.3 -1.2t1.3 -1.2t1.3 -1.2t1.3 -1.2t1.3 -1.2t1.3 -1.2M245.9 201.2q0.2 -1.7 1.6 -0.8t1.6 -0.8t1.6 -0.8t1.6 -0.8t1.6 -0.8t1.6 -0.8t1.6 -0.8t1.6 -0.8M240.9 221.3q1.7 -0.0 0.9 -1.5t0.9 -1.5t0.9 -1.5t0.9 -1.5t0.9 -1.5t0.9 -1.5t0.9 -1.5M250.0 228.2q-0.9 -1.4 0.8 -1.6t0.8 -1.6t0.8 -1.6t0.8 -1.6t0.8 -1.6t0.8 -1.6t0.8 -1.6M253.8 247.8q-1.5 -0.7 -0.3 -1.8t-0.3 -1.8t-0.3 -1.8t-0.3 -1.8t-0.3 -1.8t-0.3 -1.8M258.3 243.6q0.8 -1.4 -0.8 -1.6t-0.8 -1.6t-0.8 -1.6t-0.8 -1.6t-0.8 -1.6t-0.8 -1.6t-0.8 -1.6M250.0 250.9q-1.7 0.0 -1.0 -1.5t-1.0 -1.5t-1.0 -1.5t-1.0 -1.5t-1.0 -1.5t-1.0 -1.5t-1.0 -1.5t-1.0 -1.5M261.3 245.3q0.3 -1.6 -1.3 -1.3t-1.3 -1.3t-1.3 -1.3t-1.3 -1.3t-1.3 -1.3M269.6 266.8q-1.6 0.5 -1.4 -1.1t-1.4 -1.1t-1.4 -1.1t-1.4 -1.1t-1.4 -1.1t-1.4 -1.1t-1.4 -1.1M259.8 256.9q-1.5 0.8 -1.6 -0.9t-1.6 -0.9t-1.6 -0.9t-1.6 -0.9t-1.6 -0.9t-1.6 -0.9M255.8 258.9q-1.6 0.5 -1.4 -1.2t-1.4 -1.2t-1.4 -1.2t-1.4 -1.2t-1.4 -1.2t-1.4 -1.2t-1.4 -1.2M258.3 254.6q0.2 -1.6 -1.4 -1.2t-1.4 -1.2t-1.4 -1.2t-1.4 -1.2M275.1 194.4q0.3 -1.6 1.7 -0.7t1.7 -0.7t1.7 -0.7t1.7 -0.7t1.7 -0.7M261.3 185.9q0.1 -1.7 1.6 -0.8t1.6 -0.8t1.6 -0.8t1.6 -0.8t1.6 -0.8t1.6 -0.8t1.6 -0.8t1.6 -0.8M259.0 196.5q-0.1 -1.7 1.5 -1.1t1.5 -1.1t1.5 -1.1t1.5 -1.1t1.5 -1.1t1.5 -1.1t1.5 -1.1t1.5 -1.1M258.1 193.0q0.3 -1.6 1.7 -0.7t1.7 -0.7t1.7 -0.7M258.4 206.8q-0.2 -1.6 1.4 -1.2t1.4 -1.2t1.4 -1.2t1.4 -1.2t1.4 -1.2t1.4 -1.2M278.8 249.4q-0.8 -1.5 -1.8 -0.2t-1.8 -0.2t-1.8 -0.2t-1.8 -0.2M274.7 281.3q-0.7 -1.5 -1.8 -0.2t-1.8 -0.2t-1.8 -0.2t-1.8 -0.2M268.3 275.3q-0.6 -1.5 -1.8 -0.3t-1.8 -0.3t-1.8 -0.3t-1.8 -0.3t-1.8 -0.3M277.4 174.6q-1.5 0.7 -0.3 1.8t-0.3 1.8t-0.3 1.8M273.2 195.6q0.5 -1.6 1.7 -0.5t1.7 -0.5t1.7 -0.5t1.7 -0.5t1.7 -0.5t1.7 -0.5M273.0 186.5q0.6 -1.5 1.8 -0.3t1.8 -0.3t1.8 -0.3t1.8 -0.3t1.8 -0.3t1.8 -0.3M269.7 177.9q1.0 1.4 1.8 -0.1t1.8 -0.1t1.8 -0.1t1.8 -0.1t1.8 -0.1t1.8 -0.1t1.8 -0.1t1.8 -0.1M280.7 198.7q1.6 -0.5 1.4 1.1t1.4 1.1t1.4 1.1t1.4 1.1t1.4 1.1t1.4 1.1M279.6 196.3q-0.3 1.6 1.3 1.3t1.3 1.3t1.3 1.3t1.3 1.3t1.3 1.3M285.6 212.6q1.7 -0.2 1.1 1.4t1.1 1.4t1.1 1.4t1.1 1.4t1.1 1.4M284.0 277.5q-0.3 -1.6 -1.7 -0.7t-1.7 -0.7t-1.7 -0.7t-1.7 -0.7t-1.7 -0.7M283.7 273.8q-1.3 1.0 -1.7 -0.6t-1.7 -0.6t-1.7 -0.6t-1.7 -0.6t-1.7 -0.6M276.5 287.5q-0.9 -1.4 0.8 -1.6t0.8 -1.6t0.8 -1.6t0.8 -1.6M285.6 293.7q-1.3 -1.1 0.2 -1.8t0.2 -1.8t0.2 -1.8t0.2 -1.8t0.2 -1.8t0.2 -1.8M291.4 171.2q-0.5 1.6 1.2 1.4t1.2 1.4t1.2 1.4t1.2 1.4t1.2 1.4t1.2 1.4t1.2 1.4t1.2 1.4M287.7 180.4q0.0 1.7 1.5 1.0t1.5 1.0t1.5 1.0M291.5 193.7q1.4 -0.9 1.6 0.7t1.6 0.7t1.6 0.7t1.6 0.7M295.9 204.4q0.2 1.6 1.6 0.7t1.6 0.7t1.6 0.7M289.5 198.4q0.1 1.7 1.6 0.8t1.6 0.8t1.6 0.8t1.6 0.8t1.6 0.8M298.4 261.4q1.2 -1.1 -0.3 -1.8t-0.3 -1.8t-0.3 -1.8t-0.3 -1.8t-0.3 -1.8t-0.3 -1.8t-0.3 -1.8M304.6 269.7q-1.4 0.9 -1.6 -0.8t-1.6 -0.8t-1.6 -0.8M312.9 187.3q0.1 1.7 1.5 0.9t1.5 0.9t1.5 0.9M306.8 187.3q-0.4 1.6 1.3 1.3t1.3 1.3t1.3 1.3t1.3 1.3t1.3 1.3t1.3 1.3t1.3 1.3t1.3 1.3M295.1 198.9q1.5 -0.8 1.6 0.9t1.6 0.9t1.6 0.9t1.6 0.9t1.6 0.9t1.6 0.9M316.5 198.0q1.7 -0.1 1.1 1.4t1.1 1.4t1.1 1.4t1.1 1.4M307.3 196.3q1.7 0.1 0.9 1.6t0.9 1.6t0.9 1.6t0.9 1.6t0.9 1.6t0.9 1.6M307.8 202.3q-0.6 1.6 1.1 1.4t1.1 1.4t1.1 1.4t1.1 1.4t1.1 1.4t1.1 1.4t1.1 1.4M312.3 203.8q1.7 -0.1 1.0 1.5t1.0 1.5t1.0 1.5t1.0 1.5t1.0 1.5t1.0 1.5M313.6 218.2q-0.4 1.6 1.2 1.3t1.2 1.3t1.2 1.3t1.2 1.3t1.2 1.3t1.2 1.3t1.2 1.3M303.3 211.0q1.6 -0.6 1.5 1.1t1.5 1.1t1.5 1.1t1.5 1.1t1.5 1.1t1.5 1.1t1.5 1.1M318.0 217.0q1.2 1.2 -0.3 1.8t-0.3 1.8t-0.3 1.8t-0.3 1.8t-0.3 1.8M322.6 238.9q-1.6 -0.3 -1.2 1.3t-1.2 1.3t-1.2 1.3t-1.2 1.3M312.3 263.7q-0.8 -1.5 -1.8 -0.1t-1.8 -0.1t-1.8 -0.1t-1.8 -0.1M310.0 269.1q-1.5 -0.7 -1.6 0.9t-1.6 0.9t-1.6 0.9t-1.6 0.9t-1.6 0.9t-1.6 0.9t-1.6 0.9t-1.6 0.9M322.5 189.1q0.8 -1.4 1.8 -0.1t1.8 -0.1t1.8 -0.1M316.0 185.5q0.3 -1.6 1.7 -0.7t1.7 -0.7t1.7 -0.7t1.7 -0.7t1.7 -0.7t1.7 -0.7M335.3 213.6q-1.5 -0.8 -1.6 0.9t-1.6 0.9t-1.6 0.9t-1.6 0.9M321.4 247.9q0.9 1.4 -0.8 1.6t-0.8 1.6t-0.8 1.6t-0.8 1.6t-0.8 1.6t-0.8 1.6M321.0 239.7q-1.6 0.3 -0.7 1.7t-0.7 1.7t-0.7 1.7t-0.7 1.7t-0.7 1.7M325.0 248.9q-1.6 0.3 -0.7 1.7t-0.7 1.7t-0.7 1.7t-0.7 1.7t-0.7 1.7t-0.7 1.7t-0.7 1.7M321.9 252.8q0.3 1.6 -1.3 1.3t-1.3 1.3t-1.3 1.3t-1.3 1.3M324.6 256.4q-1.6 -0.4 -1.3 1.3t-1.3 1.3t-1.3 1.3t-1.3 1.3t-1.3 1.3t-1.3 1.3t-1.3 1.3t-1.3 1.3M321.9 260.6q0.1 1.7 -1.5 1.0t-1.5 1.0t-1.5 1.0t-1.5 1.0t-1.5 1.0M323.6 268.0q-1.6 0.2 -1.2 -1.4t-1.2 -1.4t-1.2 -1.4t-1.2 -1.4M329.0 280.4q-0.7 -1.5 -1.8 -0.3t-1.8 -0.3t-1.8 -0.3t-1.8 -0.3t-1.8 -0.3M326.4 190.4q-0.2 1.7 1.4 1.2t1.4 1.2t1.4 1.2t1.4 1.2t1.4 1.2t1.4 1.2t1.4 1.2M335.7 205.9q-1.7 -0.1 -1.1 1.4t-1.1 1.4t-1.1 1.4t-1.1 1.4t-1.1 1.4M330.8 215.7q-1.3 1.0 0.1 1.8t0.1 1.8t0.1 1.8t0.1 1.8t0.1 1.8M337.3 225.7q0.8 1.5 -0.9 1.6t-0.9 1.6t-0.9 1.6M347.3 235.3q-1.6 0.3 -0.7 1.7t-0.7 1.7t-0.7 1.7t-0.7 1.7M339.3 224.5q-1.6 0.5 -0.5 1.7t-0.5 1.7t-0.5 1.7t-0.5 1.7t-0.5 1.7t-0.5 1.7t-0.5 1.7M336.7 227.6q-1.4 0.9 0.0 1.8t0.0 1.8t0.0 1.8t0.0 1.8t0.0 1.8t0.0 1.8M343.7 243.6q0.3 1.6 -1.3 1.2t-1.3 1.2t-1.3 1.2t-1.3 1.2t-1.3 1.2t-1.3 1.2t-1.3 1.2t-1.3 1.2M347.5 262.3q-1.6 -0.3 -1.2 1.3t-1.2 1.3t-1.2 1.3t-1.2 1.3t-1.2 1.3t-1.2 1.3M342.2 258.0q-1.4 -0.8 -1.6 0.8t-1.6 0.8t-1.6 0.8t-1.6 0.8t-1.6 0.8t-1.6 0.8M336.6 198.4q-0.1 1.7 1.5 1.1t1.5 1.1t1.5 1.1t1.5 1.1t1.5 1.1t1.5 1.1t1.5 1.1t1.5 1.1M351.9 239.0q-0.7 1.5 -1.8 0.3t-1.8 0.3t-1.8 0.3t-1.8 0.3M358.8 222.7q-0.4 1.6 -1.7 0.6t-1.7 0.6t-1.7 0.6t-1.7 0.6t-1.7 0.6t-1.7 0.6t-1.7 0.6t-1.7 0.6M350.0 228.1q-0.5 1.6 -1.7 0.5t-1.7 0.5t-1.7 0.5t-1.7 0.5t-1.7 0.5t-1.7 0.5t-1.7 0.5M356.9 235.6q-1.6 0.3 -0.7 1.7t-0.7 1.7t-0.7 1.7t-0.7 1.7t-0.7 1.7t-0.7 1.7M356.2 213.8q1.7 -0.2 1.1 1.4t1.1 1.4t1.1 1.4M357.2 207.0q-0.4 1.6 1.2 1.3t1.2 1.3t1.2 1.3t1.2 1.3M357.2 221.0q1.7 -0.1 1.1 1.5t1.1 1.5t1.1 1.5t1.1 1.5t1.1 1.5t1.1 1.5t1.1 1.5t1.1 1.5M354.6 227.2q1.6 0.3 0.7 1.7t0.7 1.7t0.7 1.7t0.7 1.7M362.3 238.9q1.3 1.0 -0.1 1.8t-0.1 1.8t-0.1 1.8t-0.1 1.8t-0.1 1.8t-0.1 1.8t-0.1 1.8" stroke="#2a96dc" stroke-width="1.3" fill="none" stroke-linecap="round"/>
<path d="M217.4 219.6q1.5 -0.7 0.2 -1.8t0.2 -1.8t0.2 -1.8t0.2 -1.8t0.2 -1.8t0.2 -1.8M218.5 252.9q1.1 -1.2 -0.5 -1.7t-0.5 -1.7t-0.5 -1.7t-0.5 -1.7t-0.5 -1.7t-0.5 -1.7t-0.5 -1.7t-0.5 -1.7M218.8 256.0q-1.6 -0.4 -0.6 -1.7t-0.6 -1.7t-0.6 -1.7t-0.6 -1.7t-0.6 -1.7t-0.6 -1.7t-0.6 -1.7M216.3 250.6q1.2 -1.2 -0.4 -1.8t-0.4 -1.8t-0.4 -1.8t-0.4 -1.8t-0.4 -1.8t-0.4 -1.8t-0.4 -1.8t-0.4 -1.8M223.3 204.6q1.6 -0.6 0.4 -1.8t0.4 -1.8t0.4 -1.8t0.4 -1.8t0.4 -1.8t0.4 -1.8t0.4 -1.8t0.4 -1.8M223.1 202.8q1.5 0.8 1.6 -0.9t1.6 -0.9t1.6 -0.9t1.6 -0.9t1.6 -0.9t1.6 -0.9t1.6 -0.9M219.9 205.4q0.1 -1.7 1.5 -0.9t1.5 -0.9t1.5 -0.9t1.5 -0.9t1.5 -0.9t1.5 -0.9t1.5 -0.9t1.5 -0.9M217.6 216.0q1.2 -1.1 -0.3 -1.8t-0.3 -1.8t-0.3 -1.8M233.5 216.1q-1.6 -0.4 -0.5 -1.7t-0.5 -1.7t-0.5 -1.7t-0.5 -1.7M234.9 234.8q1.2 -1.1 -0.3 -1.8t-0.3 -1.8t-0.3 -1.8t-0.3 -1.8t-0.3 -1.8t-0.3 -1.8t-0.3 -1.8t-0.3 -1.8M231.2 231.6q0.8 -1.5 1.8 -0.1t1.8 -0.1t1.8 -0.1M227.5 238.8q1.2 -1.2 1.8 0.4t1.8 0.4t1.8 0.4t1.8 0.4t1.8 0.4t1.8 0.4t1.8 0.4t1.8 0.4M218.5 243.2q-0.3 -1.6 1.3 -1.2t1.3 -1.2t1.3 -1.2t1.3 -1.2t1.3 -1.2t1.3 -1.2t1.3 -1.2M209.0 241.2q0.0 -1.7 1.5 -0.9t1.5 -0.9t1.5 -0.9t1.5 -0.9t1.5 -0.9t1.5 -0.9t1.5 -0.9t1.5 -0.9M226.9 251.6q0.0 -1.7 1.5 -0.9t1.5 -0.9t1.5 -0.9t1.5 -0.9t1.5 -0.9t1.5 -0.9t1.5 -0.9t1.5 -0.9M217.5 240.8q1.5 0.7 1.5 -1.0t1.5 -1.0t1.5 -1.0M228.1 252.4q0.2 -1.7 1.6 -0.8t1.6 -0.8t1.6 -0.8t1.6 -0.8t1.6 -0.8t1.6 -0.8t1.6 -0.8M227.5 250.5q0.3 -1.6 1.6 -0.7t1.6 -0.7t1.6 -0.7t1.6 -0.7t1.6 -0.7t1.6 -0.7M224.9 253.7q-1.7 -0.1 -0.9 -1.5t-0.9 -1.5t-0.9 -1.5M242.3 193.8q1.5 -0.6 1.5 1.0t1.5 1.0t1.5 1.0M243.2 194.8q-0.7 1.5 1.0 1.5t1.0 1.5t1.0 1.5M233.8 188.5q1.6 -0.5 1.4 1.1t1.4 1.1t1.4 1.1M235.5 205.0q0.0 1.7 1.5 1.0t1.5 1.0t1.5 1.0M237.1 210.6q0.3 1.6 1.7 0.7t1.7 0.7t1.7 0.7t1.7 0.7t1.7 0.7t1.7 0.7t1.7 0.7t1.7 0.7M231.9 204.3q1.6 -0.6 1.4 1.1t1.4 1.1t1.4 1.1t1.4 1.1t1.4 1.1t1.4 1.1M230.6 229.0q1.7 0.0 1.0 -1.5t1.0 -1.5t1.0 -1.5t1.0 -1.5t1.0 -1.5t1.0 -1.5t1.0 -1.5t1.0 -1.5M232.6 221.6q1.6 0.3 1.2 -1.3t1.2 -1.3t1.2 -1.3t1.2 -1.3M230.6 214.1q1.6 0.2 1.2 -1.4t1.2 -1.4t1.2 -1.4t1.2 -1.4t1.2 -1.4M220.2 233.8q-0.6 -1.5 1.0 -1.5t1.0 -1.5t1.0 -1.5t1.0 -1.5t1.0 -1.5t1.0 -1.5t1.0 -1.5t1.0 -1.5M226.6 239.0q1.3 -1.0 -0.2 -1.8t-0.2 -1.8t-0.2 -1.8t-0.2 -1.8M234.3 237.7q-1.5 -0.8 -0.1 -1.8t-0.1 -1.8t-0.1 -1.8t-0.1 -1.8t-0.1 -1.8t-0.1 -1.8t-0.1 -1.8t-0.1 -1.8M246.0 245.1q-1.5 0.6 -1.5 -1.0t-1.5 -1.0t-1.5 -1.0t-1.5 -1.0t-1.5 -1.0t-1.5 -1.0t-1.5 -1.0t-1.5 -1.0M230.1 232.7q-1.6 0.4 -1.3 -1.2t-1.3 -1.2t-1.3 -1.2M242.9 251.8q-1.5 0.8 -1.6 -0.9t-1.6 -0.9t-1.6 -0.9t-1.6 -0.9t-1.6 -0.9M235.2 260.4q-1.7 -0.1 -0.9 -1.6t-0.9 -1.6t-0.9 -1.6M246.9 192.2q-0.5 -1.6 1.2 -1.4t1.2 -1.4t1.2 -1.4t1.2 -1.4t1.2 -1.4M250.3 189.9q1.5 0.6 1.5 -1.1t1.5 -1.1t1.5 -1.1M254.7 195.3q0.9 1.4 1.8 -0.0t1.8 -0.0t1.8 -0.0t1.8 -0.0t1.8 -0.0t1.8 -0.0M255.6 202.7q0.6 1.5 1.8 0.3t1.8 0.3t1.8 0.3t1.8 0.3t1.8 0.3t1.8 0.3t1.8 0.3t1.8 0.3M253.5 200.5q1.0 1.3 1.8 -0.2t1.8 -0.2t1.8 -0.2t1.8 -0.2t1.8 -0.2t1.8 -0.2M242.2 208.8q1.4 0.9 1.6 -0.7t1.6 -0.7t1.6 -0.7t1.6 -0.7t1.6 -0.7t1.6 -0.7t1.6 -0.7t1.6 -0.7M245.2 197.6q1.5 0.7 1.5 -1.0t1.5 -1.0t1.5 -1.0M254.8 204.2q1.3 1.1 1.7 -0.5t1.7 -0.5t1.7 -0.5t1.7 -0.5t1.7 -0.5t1.7 -0.5M249.2 208.1q1.5 0.7 1.5 -1.0t1.5 -1.0t1.5 -1.0t1.5 -1.0t1.5 -1.0t1.5 -1.0t1.5 -1.0M254.3 221.2q-0.9 -1.4 0.8 -1.6t0.8 -1.6t0.8 -1.6t0.8 -1.6M249.5 215.5q-0.8 -1.5 0.9 -1.6t0.9 -1.6t0.9 -1.6t0.9 -1.6t0.9 -1.6t0.9 -1.6t0.9 -1.6t0.9 -1.6M244.1 216.5q1.6 -0.5 0.5 -1.7t0.5 -1.7t0.5 -1.7t0.5 -1.7t0.5 -1.7t0.5 -1.7t0.5 -1.7M248.6 208.5q-1.0 -1.3 0.6 -1.7t0.6 -1.7t0.6 -1.7t0.6 -1.7t0.6 -1.7t0.6 -1.7M255.4 241.1q-1.7 -0.1 -0.9 -1.6t-0.9 -1.6t-0.9 -1.6t-0.9 -1.6t-0.9 -1.6t-0.9 -1.6t-0.9 -1.6M250.7 234.5q1.4 -0.9 0.0 -1.8t0.0 -1.8t0.0 -1.8t0.0 -1.8M247.7 238.2q-1.7 -0.2 -0.8 -1.6t-0.8 -1.6t-0.8 -1.6t-0.8 -1.6t-0.8 -1.6M247.4 245.8q-1.6 -0.3 -0.6 -1.7t-0.6 -1.7t-0.6 -1.7t-0.6 -1.7t-0.6 -1.7t-0.6 -1.7M252.5 256.6q1.0 -1.4 -0.7 -1.7t-0.7 -1.7t-0.7 -1.7t-0.7 -1.7t-0.7 -1.7t-0.7 -1.7t-0.7 -1.7M261.5 267.0q-1.5 0.8 -1.6 -0.9t-1.6 -0.9t-1.6 -0.9t-1.6 -0.9t-1.6 -0.9t-1.6 -0.9t-1.6 -0.9M262.3 265.4q0.1 -1.7 -1.5 -1.0t-1.5 -1.0t-1.5 -1.0t-1.5 -1.0M248.8 266.1q-1.6 0.3 -1.2 -1.3t-1.2 -1.3t-1.2 -1.3M253.4 273.9q-1.4 1.0 -1.7 -0.7t-1.7 -0.7t-1.7 -0.7t-1.7 -0.7t-1.7 -0.7t-1.7 -0.7M262.2 183.0q1.5 0.7 1.5 -0.9t1.5 -0.9t1.5 -0.9t1.5 -0.9t1.5 -0.9M263.5 184.4q1.6 0.4 1.3 -1.2t1.3 -1.2t1.3 -1.2t1.3 -1.2t1.3 -1.2t1.3 -1.2M272.6 185.6q1.6 0.3 1.3 -1.3t1.3 -1.3t1.3 -1.3M262.2 187.3q0.2 -1.7 1.6 -0.8t1.6 -0.8t1.6 -0.8t1.6 -0.8t1.6 -0.8t1.6 -0.8t1.6 -0.8M261.6 196.8q1.4 0.9 1.7 -0.7t1.7 -0.7t1.7 -0.7t1.7 -0.7t1.7 -0.7t1.7 -0.7t1.7 -0.7M258.0 195.1q1.4 0.8 1.6 -0.8t1.6 -0.8t1.6 -0.8t1.6 -0.8t1.6 -0.8M257.2 187.8q-0.1 -1.7 1.4 -1.1t1.4 -1.1t1.4 -1.1t1.4 -1.1t1.4 -1.1t1.4 -1.1t1.4 -1.1t1.4 -1.1M261.3 211.4q1.6 0.3 1.2 -1.3t1.2 -1.3t1.2 -1.3M269.5 219.2q-0.3 -1.6 1.3 -1.2t1.3 -1.2t1.3 -1.2t1.3 -1.2t1.3 -1.2M268.3 213.4q-0.2 -1.7 1.4 -1.2t1.4 -1.2t1.4 -1.2t1.4 -1.2M260.5 230.3q-1.3 -1.1 0.2 -1.8t0.2 -1.8t0.2 -1.8t0.2 -1.8t0.2 -1.8t0.2 -1.8t0.2 -1.8t0.2 -1.8M259.7 227.6q-1.2 -1.1 0.3 -1.8t0.3 -1.8t0.3 -1.8t0.3 -1.8t0.3 -1.8M259.7 246.2q0.7 -1.5 -0.9 -1.5t-0.9 -1.5t-0.9 -1.5M266.7 249.4q0.7 -1.5 -1.0 -1.5t-1.0 -1.5t-1.0 -1.5t-1.0 -1.5t-1.0 -1.5t-1.0 -1.5M278.2 249.1q-0.9 -1.4 -1.8 0.1t-1.8 0.1t-1.8 0.1t-1.8 0.1t-1.8 0.1M266.3 249.6q-1.2 1.1 -1.7 -0.5t-1.7 -0.5t-1.7 -0.5t-1.7 -0.5M265.5 257.6q-0.7 -1.5 -1.8 -0.3t-1.8 -0.3t-1.8 -0.3t-1.8 -0.3t-1.8 -0.3t-1.8 -0.3t-1.8 -0.3t-1.8 -0.3M272.7 255.8q-1.1 -1.3 -1.8 0.2t-1.8 0.2t-1.8 0.2t-1.8 0.2t-1.8 0.2M274.1 273.1q-0.5 -1.6 -1.7 -0.5t-1.7 -0.5t-1.7 -0.5t-1.7 -0.5t-1.7 -0.5t-1.7 -0.5M269.4 268.2q-0.6 -1.6 -1.8 -0.4t-1.8 -0.4t-1.8 -0.4t-1.8 -0.4t-1.8 -0.4t-1.8 -0.4M269.0 272.0q-1.1 1.3 -1.8 -0.2t-1.8 -0.2t-1.8 -0.2t-1.8 -0.2t-1.8 -0.2t-1.8 -0.2t-1.8 -0.2t-1.8 -0.2M279.0 283.5q-0.8 1.4 -1.8 0.1t-1.8 0.1t-1.8 0.1t-1.8 0.1M281.0 171.0q1.3 1.1 -0.2 1.8t-0.2 1.8t-0.2 1.8t-0.2 1.8t-0.2 1.8M271.4 178.6q-1.5 0.7 -0.3 1.8t-0.3 1.8t-0.3 1.8M273.0 185.6q0.5 -1.6 1.7 -0.4t1.7 -0.4t1.7 -0.4t1.7 -0.4t1.7 -0.4t1.7 -0.4t1.7 -0.4t1.7 -0.4M275.9 193.4q0.6 -1.5 1.8 -0.3t1.8 -0.3t1.8 -0.3t1.8 -0.3t1.8 -0.3t1.8 -0.3M277.0 188.5q0.7 -1.5 1.8 -0.2t1.8 -0.2t1.8 -0.2t1.8 -0.2t1.8 -0.2t1.8 -0.2t1.8 -0.2t1.8 -0.2M277.3 185.0q1.3 1.1 1.7 -0.5t1.7 -0.5t1.7 -0.5t1.7 -0.5t1.7 -0.5t1.7 -0.5M271.7 175.2q0.9 -1.4 1.8 0.0t1.8 0.0t1.8 0.0t1.8 0.0t1.8 0.0M273.4 209.4q-0.3 1.6 1.3 1.2t1.3 1.2t1.3 1.2t1.3 1.2t1.3 1.2t1.3 1.2t1.3 1.2M282.8 206.0q-0.0 1.7 1.5 1.0t1.5 1.0t1.5 1.0t1.5 1.0t1.5 1.0t1.5 1.0M273.5 197.9q0.2 1.7 1.6 0.8t1.6 0.8t1.6 0.8t1.6 0.8t1.6 0.8t1.6 0.8t1.6 0.8t1.6 0.8M284.4 263.1q-0.7 -1.5 -1.8 -0.3t-1.8 -0.3t-1.8 -0.3t-1.8 -0.3t-1.8 -0.3t-1.8 -0.3t-1.8 -0.3M285.1 274.7q-0.3 -1.6 -1.7 -0.7t-1.7 -0.7t-1.7 -0.7M280.1 262.4q-1.5 0.7 -1.5 -1.0t-1.5 -1.0t-1.5 -1.0t-1.5 -1.0M289.4 281.3q-1.1 1.2 -1.8 -0.3t-1.8 -0.3t-1.8 -0.3t-1.8 -0.3M283.2 271.3q-1.3 1.1 -1.7 -0.5t-1.7 -0.5t-1.7 -0.5t-1.7 -0.5t-1.7 -0.5t-1.7 -0.5t-1.7 -0.5t-1.7 -0.5M296.2 272.7q-0.4 -1.6 -1.7 -0.6t-1.7 -0.6t-1.7 -0.6t-1.7 -0.6t-1.7 -0.6M283.3 289.5q-1.1 -1.2 0.5 -1.7t0.5 -1.7t0.5 -1.7t0.5 -1.7M274.5 287.2q1.5 -0.8 0.1 -1.8t0.1 -1.8t0.1 -1.8M281.5 287.4q1.5 -0.6 0.3 -1.8t0.3 -1.8t0.3 -1.8M279.7 280.7q-1.2 -1.2 0.4 -1.8t0.4 -1.8t0.4 -1.8t0.4 -1.8t0.4 -1.8t0.4 -1.8M277.9 286.9q-1.1 -1.3 0.5 -1.7t0.5 -1.7t0.5 -1.7M287.1 278.3q-1.1 -1.3 0.5 -1.7t0.5 -1.7t0.5 -1.7t0.5 -1.7t0.5 -1.7t0.5 -1.7M295.0 184.6q-0.2 1.7 1.4 1.1t1.4 1.1t1.4 1.1t1.4 1.1t1.4 1.1M291.1 178.7q1.6 -0.5 1.4 1.2t1.4 1.2t1.4 1.2t1.4 1.2M301.7 184.5q1.3 1.0 -0.1 1.8t-0.1 1.8t-0.1 1.8t-0.1 1.8t-0.1 1.8t-0.1 1.8t-0.1 1.8M296.1 195.3q-1.3 1.1 0.2 1.8t0.2 1.8t0.2 1.8M293.2 201.3q1.5 -0.7 1.5 1.0t1.5 1.0t1.5 1.0t1.5 1.0t1.5 1.0M292.0 208.0q1.2 1.2 -0.4 1.8t-0.4 1.8t-0.4 1.8t-0.4 1.8t-0.4 1.8M306.1 198.2q1.0 1.3 -0.6 1.7t-0.6 1.7t-0.6 1.7t-0.6 1.7t-0.6 1.7M293.4 209.3q1.3 1.0 -0.2 1.8t-0.2 1.8t-0.2 1.8M288.6 257.6q1.3 -1.1 -0.3 -1.8t-0.3 -1.8t-0.3 -1.8t-0.3 -1.8t-0.3 -1.8t-0.3 -1.8M301.2 267.0q-1.5 -0.6 -0.3 -1.8t-0.3 -1.8t-0.3 -1.8t-0.3 -1.8t-0.3 -1.8M305.9 269.6q-0.2 -1.7 -1.6 -0.8t-1.6 -0.8t-1.6 -0.8t-1.6 -0.8t-1.6 -0.8M295.6 284.9q-1.7 -0.0 -0.9 -1.5t-0.9 -1.5t-0.9 -1.5M305.6 292.3q0.9 -1.4 -0.8 -1.6t-0.8 -1.6t-0.8 -1.6t-0.8 -1.6t-0.8 -1.6t-0.8 -1.6M300.5 179.4q1.1 -1.3 1.8 0.3t1.8 0.3t1.8 0.3t1.8 0.3t1.8 0.3t1.8 0.3t1.8 0.3t1.8 0.3M308.5 182.3q0.1 1.7 1.6 0.9t1.6 0.9t1.6 0.9t1.6 0.9M314.3 177.8q1.5 -0.6 1.5 1.0t1.5 1.0t1.5 1.0M304.3 187.4q1.5 -0.6 1.5 1.0t1.5 1.0t1.5 1.0t1.5 1.0M294.0 186.6q1.4 -0.8 1.6 0.8t1.6 0.8t1.6 0.8t1.6 0.8t1.6 0.8t1.6 0.8t1.6 0.8t1.6 0.8M306.7 185.5q1.5 -0.8 1.6 0.8t1.6 0.8t1.6 0.8t1.6 0.8t1.6 0.8t1.6 0.8t1.6 0.8M308.6 186.0q1.5 -0.7 1.5 0.9t1.5 0.9t1.5 0.9t1.5 0.9t1.5 0.9M303.0 208.2q1.6 -0.3 1.2 1.3t1.2 1.3t1.2 1.3M302.1 201.5q-0.5 1.6 1.1 1.4t1.1 1.4t1.1 1.4t1.1 1.4t1.1 1.4t1.1 1.4t1.1 1.4M311.6 242.9q-1.6 -0.3 -1.2 1.3t-1.2 1.3t-1.2 1.3t-1.2 1.3t-1.2 1.3t-1.2 1.3t-1.2 1.3t-1.2 1.3M311.8 248.1q-1.6 -0.4 -1.3 1.2t-1.3 1.2t-1.3 1.2t-1.3 1.2t-1.3 1.2t-1.3 1.2M313.3 263.4q-1.5 -0.7 -1.5 0.9t-1.5 0.9t-1.5 0.9t-1.5 0.9t-1.5 0.9M318.7 246.2q-1.3 -1.1 -1.7 0.5t-1.7 0.5t-1.7 0.5t-1.7 0.5M306.7 276.5q-1.0 1.3 -1.8 -0.2t-1.8 -0.2t-1.8 -0.2M310.3 262.8q-0.9 1.4 -1.8 0.0t-1.8 0.0t-1.8 0.0M315.6 264.7q-1.0 1.4 -1.8 -0.1t-1.8 -0.1t-1.8 -0.1t-1.8 -0.1t-1.8 -0.1t-1.8 -0.1M319.8 272.8q-0.8 1.5 -1.8 0.1t-1.8 0.1t-1.8 0.1t-1.8 0.1t-1.8 0.1M324.1 272.3q-1.4 1.0 -1.7 -0.7t-1.7 -0.7t-1.7 -0.7t-1.7 -0.7t-1.7 -0.7M324.3 181.7q1.2 1.2 1.8 -0.4t1.8 -0.4t1.8 -0.4t1.8 -0.4M321.0 181.7q0.5 -1.6 1.7 -0.5t1.7 -0.5t1.7 -0.5t1.7 -0.5t1.7 -0.5t1.7 -0.5t1.7 -0.5M327.7 177.9q-0.1 1.7 -1.6 0.9t-1.6 0.9t-1.6 0.9t-1.6 0.9t-1.6 0.9t-1.6 0.9t-1.6 0.9M330.4 188.0q0.2 1.7 -1.4 1.1t-1.4 1.1t-1.4 1.1t-1.4 1.1t-1.4 1.1M327.1 182.0q0.5 1.6 -1.2 1.4t-1.2 1.4t-1.2 1.4M323.7 187.7q0.1 1.7 -1.4 1.1t-1.4 1.1t-1.4 1.1M335.0 197.3q-1.6 -0.4 -1.3 1.2t-1.3 1.2t-1.3 1.2t-1.3 1.2t-1.3 1.2t-1.3 1.2M331.4 180.5q-1.5 -0.6 -1.5 1.0t-1.5 1.0t-1.5 1.0t-1.5 1.0t-1.5 1.0M312.7 194.5q1.4 -1.0 1.7 0.7t1.7 0.7t1.7 0.7t1.7 0.7t1.7 0.7t1.7 0.7t1.7 0.7t1.7 0.7M318.7 196.9q0.1 1.7 1.6 0.9t1.6 0.9t1.6 0.9t1.6 0.9t1.6 0.9t1.6 0.9t1.6 0.9M312.3 201.5q-0.5 1.6 1.2 1.4t1.2 1.4t1.2 1.4t1.2 1.4t1.2 1.4t1.2 1.4t1.2 1.4t1.2 1.4M325.8 218.6q-1.2 1.2 0.4 1.8t0.4 1.8t0.4 1.8t0.4 1.8t0.4 1.8t0.4 1.8M323.5 225.4q-1.1 1.2 0.5 1.7t0.5 1.7t0.5 1.7t0.5 1.7M329.9 226.5q1.4 0.9 0.0 1.8t0.0 1.8t0.0 1.8t0.0 1.8t0.0 1.8M322.9 242.2q-1.6 0.4 -0.5 1.7t-0.5 1.7t-0.5 1.7t-0.5 1.7t-0.5 1.7M326.8 255.9q-1.6 -0.5 -1.4 1.2t-1.4 1.2t-1.4 1.2t-1.4 1.2t-1.4 1.2t-1.4 1.2t-1.4 1.2M338.2 273.7q-1.7 -0.2 -0.8 -1.6t-0.8 -1.6t-0.8 -1.6t-0.8 -1.6t-0.8 -1.6t-0.8 -1.6M316.3 280.0q-1.3 1.0 -1.7 -0.6t-1.7 -0.6t-1.7 -0.6t-1.7 -0.6t-1.7 -0.6M336.4 192.4q1.6 -0.4 1.3 1.3t1.3 1.3t1.3 1.3t1.3 1.3t1.3 1.3t1.3 1.3t1.3 1.3M330.1 192.2q-0.0 1.7 1.5 1.0t1.5 1.0t1.5 1.0t1.5 1.0t1.5 1.0t1.5 1.0t1.5 1.0M333.9 195.4q1.5 -0.8 1.6 0.9t1.6 0.9t1.6 0.9t1.6 0.9t1.6 0.9M343.7 199.6q-1.7 -0.2 -1.1 1.4t-1.1 1.4t-1.1 1.4t-1.1 1.4t-1.1 1.4M340.6 186.9q-1.6 -0.3 -1.2 1.3t-1.2 1.3t-1.2 1.3t-1.2 1.3t-1.2 1.3t-1.2 1.3t-1.2 1.3M336.8 219.8q-1.2 1.2 0.4 1.8t0.4 1.8t0.4 1.8M328.9 210.0q-1.3 1.0 0.2 1.8t0.2 1.8t0.2 1.8t0.2 1.8t0.2 1.8t0.2 1.8t0.2 1.8M333.7 212.6q-1.3 1.0 0.2 1.8t0.2 1.8t0.2 1.8t0.2 1.8t0.2 1.8M341.0 210.6q1.6 0.6 0.4 1.8t0.4 1.8t0.4 1.8M335.2 229.0q1.2 1.1 -0.3 1.8t-0.3 1.8t-0.3 1.8t-0.3 1.8t-0.3 1.8t-0.3 1.8M336.4 247.4q0.3 1.6 -1.3 1.2t-1.3 1.2t-1.3 1.2t-1.3 1.2t-1.3 1.2t-1.3 1.2t-1.3 1.2M326.2 242.7q-1.6 -0.3 -1.2 1.3t-1.2 1.3t-1.2 1.3t-1.2 1.3t-1.2 1.3M331.0 237.7q-1.6 -0.3 -1.2 1.3t-1.2 1.3t-1.2 1.3M337.1 244.5q0.3 1.6 -1.3 1.2t-1.3 1.2t-1.3 1.2t-1.3 1.2t-1.3 1.2t-1.3 1.2M332.6 241.5q-1.7 0.1 -0.9 1.6t-0.9 1.6t-0.9 1.6t-0.9 1.6M339.7 249.6q0.5 1.6 -1.2 1.4t-1.2 1.4t-1.2 1.4t-1.2 1.4M334.2 266.0q-1.6 -0.6 -1.5 1.1t-1.5 1.1t-1.5 1.1t-1.5 1.1t-1.5 1.1t-1.5 1.1M338.8 259.8q-1.7 0.1 -0.9 1.6t-0.9 1.6t-0.9 1.6t-0.9 1.6t-0.9 1.6M328.4 263.5q-1.6 -0.3 -1.2 1.3t-1.2 1.3t-1.2 1.3t-1.2 1.3t-1.2 1.3t-1.2 1.3t-1.2 1.3t-1.2 1.3M326.8 261.4q-1.6 -0.4 -1.3 1.2t-1.3 1.2t-1.3 1.2t-1.3 1.2t-1.3 1.2M339.9 262.3q-0.0 1.7 -1.5 0.9t-1.5 0.9t-1.5 0.9t-1.5 0.9M327.9 275.8q-1.4 -0.9 -1.7 0.7t-1.7 0.7t-1.7 0.7M323.5 180.4q-0.4 1.6 1.2 1.3t1.2 1.3t1.2 1.3t1.2 1.3t1.2 1.3t1.2 1.3t1.2 1.3M346.0 200.3q1.6 -0.2 1.2 1.4t1.2 1.4t1.2 1.4t1.2 1.4t1.2 1.4M371.9 224.1q-0.6 1.6 -1.8 0.4t-1.8 0.4t-1.8 0.4t-1.8 0.4t-1.8 0.4t-1.8 0.4t-1.8 0.4M353.2 229.4q-1.0 -1.3 -1.8 0.2t-1.8 0.2t-1.8 0.2t-1.8 0.2t-1.8 0.2t-1.8 0.2t-1.8 0.2t-1.8 0.2M361.2 238.9q-1.2 -1.2 -1.8 0.4t-1.8 0.4t-1.8 0.4t-1.8 0.4t-1.8 0.4t-1.8 0.4M365.5 233.8q-0.5 1.6 -1.7 0.4t-1.7 0.4t-1.7 0.4t-1.7 0.4t-1.7 0.4t-1.7 0.4M343.1 235.0q1.2 1.2 -0.4 1.8t-0.4 1.8t-0.4 1.8t-0.4 1.8t-0.4 1.8t-0.4 1.8M342.4 240.0q-1.6 0.6 -0.4 1.8t-0.4 1.8t-0.4 1.8M337.7 243.1q1.0 1.4 -0.7 1.7t-0.7 1.7t-0.7 1.7t-0.7 1.7t-0.7 1.7t-0.7 1.7t-0.7 1.7t-0.7 1.7M346.3 233.1q-1.6 0.5 -0.5 1.7t-0.5 1.7t-0.5 1.7t-0.5 1.7t-0.5 1.7t-0.5 1.7M352.9 236.5q-1.6 0.4 -0.6 1.7t-0.6 1.7t-0.6 1.7t-0.6 1.7t-0.6 1.7t-0.6 1.7M349.6 250.9q-1.6 0.3 -0.7 1.6t-0.7 1.6t-0.7 1.6t-0.7 1.6t-0.7 1.6M344.8 253.3q0.8 1.4 -0.8 1.6t-0.8 1.6t-0.8 1.6t-0.8 1.6t-0.8 1.6M346.5 240.9q0.8 1.5 -0.9 1.6t-0.9 1.6t-0.9 1.6t-0.9 1.6t-0.9 1.6t-0.9 1.6M345.7 249.0q-1.6 0.3 -0.7 1.7t-0.7 1.7t-0.7 1.7t-0.7 1.7t-0.7 1.7M359.9 206.3q-0.6 1.6 1.1 1.4t1.1 1.4t1.1 1.4t1.1 1.4t1.1 1.4t1.1 1.4M361.2 209.7q1.7 -0.0 1.0 1.5t1.0 1.5t1.0 1.5t1.0 1.5t1.0 1.5t1.0 1.5t1.0 1.5M355.5 212.9q1.7 0.0 0.9 1.5t0.9 1.5t0.9 1.5t0.9 1.5t0.9 1.5M356.7 210.6q-0.5 1.6 1.2 1.4t1.2 1.4t1.2 1.4t1.2 1.4t1.2 1.4t1.2 1.4t1.2 1.4M354.0 221.1q1.6 0.4 0.6 1.7t0.6 1.7t0.6 1.7t0.6 1.7t0.6 1.7t0.6 1.7t0.6 1.7t0.6 1.7M359.0 220.3q1.6 0.4 0.5 1.7t0.5 1.7t0.5 1.7t0.5 1.7t0.5 1.7t0.5 1.7t0.5 1.7t0.5 1.7M352.1 224.5q1.6 0.3 0.7 1.7t0.7 1.7t0.7 1.7t0.7 1.7t0.7 1.7t0.7 1.7t0.7 1.7t0.7 1.7M363.5 231.0q-0.8 1.5 0.9 1.6t0.9 1.6t0.9 1.6t0.9 1.6t0.9 1.6t0.9 1.6M360.7 246.7q-1.3 1.0 0.2 1.8t0.2 1.8t0.2 1.8t0.2 1.8t0.2 1.8M363.4 235.0q0.9 1.4 -0.8 1.6t-0.8 1.6t-0.8 1.6t-0.8 1.6" stroke="#1f8a3a" stroke-width="1.3" fill="none" stroke-linecap="round"/>
<path d="M223.5 220.8q1.5 -0.6 0.3 -1.8t0.3 -1.8t0.3 -1.8t0.3 -1.8t0.3 -1.8t0.3 -1.8t0.3 -1.8t0.3 -1.8M220.0 227.8q-1.3 -1.1 0.2 -1.8t0.2 -1.8t0.2 -1.8t0.2 -1.8t0.2 -1.8t0.2 -1.8t0.2 -1.8M215.9 228.1q1.2 -1.1 -0.3 -1.8t-0.3 -1.8t-0.3 -1.8t-0.3 -1.8t-0.3 -1.8M216.2 255.7q-1.6 -0.6 -0.4 -1.8t-0.4 -1.8t-0.4 -1.8t-0.4 -1.8t-0.4 -1.8t-0.4 -1.8t-0.4 -1.8t-0.4 -1.8M232.1 206.8q1.7 -0.1 0.8 -1.6t0.8 -1.6t0.8 -1.6t0.8 -1.6t0.8 -1.6t0.8 -1.6t0.8 -1.6M220.5 206.5q1.5 0.6 1.5 -1.0t1.5 -1.0t1.5 -1.0t1.5 -1.0t1.5 -1.0t1.5 -1.0t1.5 -1.0t1.5 -1.0M223.0 237.0q1.0 -1.4 1.8 0.1t1.8 0.1t1.8 0.1M217.7 228.0q0.9 -1.4 1.8 0.1t1.8 0.1t1.8 0.1t1.8 0.1t1.8 0.1M216.1 246.3q1.5 0.8 1.6 -0.8t1.6 -0.8t1.6 -0.8t1.6 -0.8t1.6 -0.8M232.8 204.2q0.2 1.7 1.6 0.8t1.6 0.8t1.6 0.8t1.6 0.8t1.6 0.8t1.6 0.8M239.5 225.8q1.7 -0.2 0.8 -1.6t0.8 -1.6t0.8 -1.6t0.8 -1.6t0.8 -1.6t0.8 -1.6M237.5 222.6q-0.4 -1.6 1.2 -1.3t1.2 -1.3t1.2 -1.3t1.2 -1.3t1.2 -1.3t1.2 -1.3M234.4 227.2q-1.5 -0.8 -0.1 -1.8t-0.1 -1.8t-0.1 -1.8t-0.1 -1.8t-0.1 -1.8t-0.1 -1.8t-0.1 -1.8t-0.1 -1.8M244.8 228.0q1.4 -0.9 0.0 -1.8t0.0 -1.8t0.0 -1.8t0.0 -1.8t0.0 -1.8M241.8 242.6q0.2 -1.6 -1.4 -1.2t-1.4 -1.2t-1.4 -1.2t-1.4 -1.2M237.1 259.6q1.1 -1.2 -0.5 -1.7t-0.5 -1.7t-0.5 -1.7M245.1 273.2q-0.9 1.4 -1.8 0.0t-1.8 0.0t-1.8 0.0M252.8 274.8q-0.9 1.4 -1.8 0.0t-1.8 0.0t-1.8 0.0t-1.8 0.0t-1.8 0.0t-1.8 0.0t-1.8 0.0t-1.8 0.0M264.3 198.2q1.0 1.4 1.8 -0.1t1.8 -0.1t1.8 -0.1t1.8 -0.1t1.8 -0.1t1.8 -0.1t1.8 -0.1t1.8 -0.1M249.8 207.7q0.3 -1.6 1.7 -0.7t1.7 -0.7t1.7 -0.7t1.7 -0.7t1.7 -0.7t1.7 -0.7t1.7 -0.7t1.7 -0.7M261.6 249.5q0.7 -1.5 -0.9 -1.6t-0.9 -1.6t-0.9 -1.6t-0.9 -1.6t-0.9 -1.6t-0.9 -1.6t-0.9 -1.6t-0.9 -1.6M251.0 259.3q-1.5 0.7 -1.5 -1.0t-1.5 -1.0t-1.5 -1.0t-1.5 -1.0t-1.5 -1.0t-1.5 -1.0t-1.5 -1.0M250.7 276.0q-1.5 0.6 -1.5 -1.0t-1.5 -1.0t-1.5 -1.0t-1.5 -1.0t-1.5 -1.0M258.8 189.4q1.6 0.5 1.4 -1.2t1.4 -1.2t1.4 -1.2t1.4 -1.2t1.4 -1.2t1.4 -1.2M255.3 187.8q-0.1 -1.7 1.4 -1.1t1.4 -1.1t1.4 -1.1t1.4 -1.1M257.1 213.2q-0.5 -1.6 1.1 -1.4t1.1 -1.4t1.1 -1.4t1.1 -1.4t1.1 -1.4M257.9 219.5q1.6 0.2 1.2 -1.4t1.2 -1.4t1.2 -1.4t1.2 -1.4t1.2 -1.4t1.2 -1.4M266.8 250.1q0.5 -1.6 -1.1 -1.4t-1.1 -1.4t-1.1 -1.4t-1.1 -1.4M276.0 253.2q-0.7 -1.5 -1.8 -0.3t-1.8 -0.3t-1.8 -0.3M266.7 262.2q-0.5 -1.6 -1.7 -0.4t-1.7 -0.4t-1.7 -0.4t-1.7 -0.4M276.9 278.8q-1.0 -1.3 -1.8 0.1t-1.8 0.1t-1.8 0.1t-1.8 0.1M274.4 269.5q-1.0 1.3 -1.8 -0.2t-1.8 -0.2t-1.8 -0.2t-1.8 -0.2M283.5 174.1q-1.4 0.8 -0.1 1.8t-0.1 1.8t-0.1 1.8t-0.1 1.8t-0.1 1.8t-0.1 1.8M270.9 191.1q0.7 1.5 1.8 0.2t1.8 0.2t1.8 0.2t1.8 0.2M281.7 198.6q1.6 -0.6 1.4 1.1t1.4 1.1t1.4 1.1t1.4 1.1t1.4 1.1t1.4 1.1t1.4 1.1M291.9 260.2q-1.0 -1.4 -1.8 0.1t-1.8 0.1t-1.8 0.1t-1.8 0.1t-1.8 0.1M295.6 260.7q-0.7 1.5 -1.8 0.2t-1.8 0.2t-1.8 0.2t-1.8 0.2t-1.8 0.2t-1.8 0.2t-1.8 0.2t-1.8 0.2M292.9 283.0q-0.4 -1.6 -1.7 -0.6t-1.7 -0.6t-1.7 -0.6t-1.7 -0.6t-1.7 -0.6t-1.7 -0.6t-1.7 -0.6t-1.7 -0.6M291.1 268.0q-0.4 -1.6 -1.7 -0.6t-1.7 -0.6t-1.7 -0.6M288.9 277.5q-0.4 -1.6 -1.7 -0.5t-1.7 -0.5t-1.7 -0.5t-1.7 -0.5t-1.7 -0.5t-1.7 -0.5t-1.7 -0.5t-1.7 -0.5M287.7 175.6q1.6 -0.4 1.3 1.2t1.3 1.2t1.3 1.2t1.3 1.2t1.3 1.2M288.6 176.4q1.5 0.8 0.1 1.8t0.1 1.8t0.1 1.8t0.1 1.8t0.1 1.8t0.1 1.8t0.1 1.8M303.8 183.7q1.5 0.7 0.3 1.8t0.3 1.8t0.3 1.8t0.3 1.8t0.3 1.8t0.3 1.8M292.1 202.7q1.4 -0.8 1.6 0.8t1.6 0.8t1.6 0.8t1.6 0.8t1.6 0.8M287.8 207.7q1.2 1.2 -0.4 1.8t-0.4 1.8t-0.4 1.8t-0.4 1.8t-0.4 1.8M288.9 258.9q1.1 -1.3 -0.5 -1.7t-0.5 -1.7t-0.5 -1.7M298.2 270.6q-0.2 -1.6 -1.6 -0.7t-1.6 -0.7t-1.6 -0.7t-1.6 -0.7t-1.6 -0.7M308.2 270.7q0.0 -1.7 -1.5 -1.0t-1.5 -1.0t-1.5 -1.0t-1.5 -1.0t-1.5 -1.0t-1.5 -1.0t-1.5 -1.0M301.0 177.6q1.6 -0.5 1.4 1.2t1.4 1.2t1.4 1.2t1.4 1.2t1.4 1.2t1.4 1.2t1.4 1.2M300.6 181.1q-0.2 1.7 1.4 1.1t1.4 1.1t1.4 1.1t1.4 1.1t1.4 1.1M293.4 197.9q0.2 1.7 1.6 0.8t1.6 0.8t1.6 0.8t1.6 0.8t1.6 0.8t1.6 0.8t1.6 0.8M302.2 182.4q1.4 -0.9 1.7 0.7t1.7 0.7t1.7 0.7t1.7 0.7t1.7 0.7t1.7 0.7M302.6 205.4q-0.5 1.6 1.1 1.4t1.1 1.4t1.1 1.4t1.1 1.4M304.5 211.9q1.7 -0.1 1.1 1.5t1.1 1.5t1.1 1.5t1.1 1.5t1.1 1.5t1.1 1.5t1.1 1.5M308.1 271.3q0.3 1.6 -1.3 1.2t-1.3 1.2t-1.3 1.2t-1.3 1.2M318.5 274.1q-1.5 -0.8 -1.6 0.9t-1.6 0.9t-1.6 0.9t-1.6 0.9t-1.6 0.9t-1.6 0.9t-1.6 0.9M315.1 282.2q-1.5 -0.6 -1.5 1.1t-1.5 1.1t-1.5 1.1t-1.5 1.1t-1.5 1.1t-1.5 1.1t-1.5 1.1M311.3 275.4q0.2 1.7 -1.4 1.1t-1.4 1.1t-1.4 1.1t-1.4 1.1t-1.4 1.1t-1.4 1.1t-1.4 1.1M332.3 199.1q-1.6 -0.3 -1.2 1.3t-1.2 1.3t-1.2 1.3t-1.2 1.3t-1.2 1.3t-1.2 1.3t-1.2 1.3M324.3 209.8q-0.5 1.6 1.2 1.4t1.2 1.4t1.2 1.4M326.9 213.6q-0.4 1.6 -1.7 0.6t-1.7 0.6t-1.7 0.6t-1.7 0.6t-1.7 0.6M314.0 213.9q-1.2 1.1 0.3 1.8t0.3 1.8t0.3 1.8t0.3 1.8t0.3 1.8t0.3 1.8t0.3 1.8M312.5 243.0q-1.6 -0.2 -1.2 1.4t-1.2 1.4t-1.2 1.4t-1.2 1.4t-1.2 1.4t-1.2 1.4t-1.2 1.4t-1.2 1.4M328.0 264.1q0.1 1.7 -1.4 1.1t-1.4 1.1t-1.4 1.1M308.4 254.4q-1.6 -0.4 -1.3 1.2t-1.3 1.2t-1.3 1.2M328.5 269.1q-1.7 -0.1 -0.8 -1.6t-0.8 -1.6t-0.8 -1.6t-0.8 -1.6t-0.8 -1.6M338.3 268.7q-1.7 -0.2 -0.8 -1.6t-0.8 -1.6t-0.8 -1.6t-0.8 -1.6M320.6 267.9q-1.7 0.1 -1.1 -1.4t-1.1 -1.4t-1.1 -1.4t-1.1 -1.4t-1.1 -1.4t-1.1 -1.4t-1.1 -1.4M338.8 191.2q0.2 1.7 1.6 0.8t1.6 0.8t1.6 0.8t1.6 0.8t1.6 0.8t1.6 0.8M327.8 185.9q-0.1 1.7 1.5 1.0t1.5 1.0t1.5 1.0t1.5 1.0t1.5 1.0M336.9 200.8q-1.6 -0.3 -1.2 1.3t-1.2 1.3t-1.2 1.3t-1.2 1.3t-1.2 1.3M329.7 204.3q0.5 1.6 -1.2 1.4t-1.2 1.4t-1.2 1.4t-1.2 1.4M339.6 186.8q-1.6 -0.6 -1.4 1.1t-1.4 1.1t-1.4 1.1t-1.4 1.1t-1.4 1.1t-1.4 1.1t-1.4 1.1M337.9 201.3q-1.3 1.1 0.2 1.8t0.2 1.8t0.2 1.8t0.2 1.8t0.2 1.8t0.2 1.8M332.0 217.9q-1.5 0.7 -0.2 1.8t-0.2 1.8t-0.2 1.8t-0.2 1.8M345.4 235.7q-1.5 0.7 -0.3 1.8t-0.3 1.8t-0.3 1.8t-0.3 1.8t-0.3 1.8t-0.3 1.8M323.2 248.3q0.4 1.6 -1.2 1.3t-1.2 1.3t-1.2 1.3t-1.2 1.3M338.2 240.6q0.5 1.6 -1.2 1.4t-1.2 1.4t-1.2 1.4t-1.2 1.4t-1.2 1.4t-1.2 1.4M331.6 262.9q0.4 1.6 -1.2 1.3t-1.2 1.3t-1.2 1.3M341.4 248.8q0.6 1.5 -1.0 1.5t-1.0 1.5t-1.0 1.5t-1.0 1.5t-1.0 1.5t-1.0 1.5t-1.0 1.5M334.2 247.6q0.3 1.6 -1.3 1.2t-1.3 1.2t-1.3 1.2t-1.3 1.2t-1.3 1.2M326.5 278.4q-1.5 -0.7 -1.5 1.0t-1.5 1.0t-1.5 1.0t-1.5 1.0t-1.5 1.0M347.5 195.0q1.6 -0.6 1.4 1.1t1.4 1.1t1.4 1.1t1.4 1.1t1.4 1.1t1.4 1.1M359.1 223.9q-1.0 1.4 -1.8 -0.1t-1.8 -0.1t-1.8 -0.1t-1.8 -0.1t-1.8 -0.1t-1.8 -0.1t-1.8 -0.1t-1.8 -0.1M357.4 216.3q-0.9 -1.4 -1.8 -0.0t-1.8 -0.0t-1.8 -0.0t-1.8 -0.0t-1.8 -0.0M358.3 219.1q-0.7 -1.5 -1.8 -0.2t-1.8 -0.2t-1.8 -0.2t-1.8 -0.2t-1.8 -0.2t-1.8 -0.2M364.5 216.7q-0.5 -1.6 -1.7 -0.4t-1.7 -0.4t-1.7 -0.4t-1.7 -0.4t-1.7 -0.4M359.8 227.9q-0.3 1.6 -1.7 0.7t-1.7 0.7t-1.7 0.7t-1.7 0.7t-1.7 0.7t-1.7 0.7t-1.7 0.7M361.4 236.5q-0.5 1.6 -1.7 0.5t-1.7 0.5t-1.7 0.5t-1.7 0.5t-1.7 0.5t-1.7 0.5t-1.7 0.5t-1.7 0.5M360.3 234.9q-0.4 1.6 -1.7 0.6t-1.7 0.6t-1.7 0.6t-1.7 0.6t-1.7 0.6t-1.7 0.6t-1.7 0.6M346.6 233.1q1.1 1.2 -0.5 1.7t-0.5 1.7t-0.5 1.7t-0.5 1.7t-0.5 1.7t-0.5 1.7M350.2 240.2q1.0 1.3 -0.6 1.7t-0.6 1.7t-0.6 1.7t-0.6 1.7M346.1 247.2q-1.6 0.3 -0.7 1.7t-0.7 1.7t-0.7 1.7M354.9 252.3q-1.7 0.1 -0.9 1.6t-0.9 1.6t-0.9 1.6t-0.9 1.6t-0.9 1.6t-0.9 1.6M356.3 223.2q1.7 -0.1 1.1 1.5t1.1 1.5t1.1 1.5M364.5 223.2q1.6 0.3 0.7 1.7t0.7 1.7t0.7 1.7t0.7 1.7t0.7 1.7t0.7 1.7M353.1 225.5q1.6 0.4 0.6 1.7t0.6 1.7t0.6 1.7t0.6 1.7t0.6 1.7M363.9 248.7q-1.5 -0.7 -1.5 1.0t-1.5 1.0t-1.5 1.0" stroke="#17782c" stroke-width="1.3" fill="none" stroke-linecap="round"/>
<path d="M231.7 213.6q1.6 -0.3 0.7 -1.7t0.7 -1.7t0.7 -1.7M243.9 197.5q-1.1 -1.2 0.4 -1.7t0.4 -1.7t0.4 -1.7M231.3 197.0q-1.0 -1.3 0.6 -1.7t0.6 -1.7t0.6 -1.7M221.2 206.5q-0.2 -1.6 1.4 -1.2t1.4 -1.2t1.4 -1.2t1.4 -1.2t1.4 -1.2t1.4 -1.2M241.3 219.5q1.4 -1.0 -0.1 -1.8t-0.1 -1.8t-0.1 -1.8M225.8 230.9q1.2 -1.2 -0.4 -1.8t-0.4 -1.8t-0.4 -1.8t-0.4 -1.8t-0.4 -1.8t-0.4 -1.8t-0.4 -1.8M235.1 219.1q1.2 -1.1 -0.3 -1.8t-0.3 -1.8t-0.3 -1.8M225.8 236.3q1.0 1.4 1.8 -0.1t1.8 -0.1t1.8 -0.1t1.8 -0.1M214.1 248.9q0.2 -1.7 1.6 -0.8t1.6 -0.8t1.6 -0.8t1.6 -0.8t1.6 -0.8t1.6 -0.8t1.6 -0.8M225.3 246.0q1.5 0.8 1.6 -0.9t1.6 -0.9t1.6 -0.9t1.6 -0.9M226.4 257.1q-1.6 -0.3 -0.7 -1.6t-0.7 -1.6t-0.7 -1.6t-0.7 -1.6M240.5 270.3q1.0 -1.3 -0.6 -1.7t-0.6 -1.7t-0.6 -1.7t-0.6 -1.7M247.2 186.7q1.5 -0.7 1.5 1.0t1.5 1.0t1.5 1.0t1.5 1.0t1.5 1.0t1.5 1.0t1.5 1.0t1.5 1.0M233.6 200.6q-0.1 1.7 1.5 1.0t1.5 1.0t1.5 1.0t1.5 1.0t1.5 1.0t1.5 1.0t1.5 1.0t1.5 1.0M241.0 203.3q1.4 -0.9 1.6 0.8t1.6 0.8t1.6 0.8t1.6 0.8t1.6 0.8t1.6 0.8M224.1 223.7q-0.7 -1.5 1.0 -1.5t1.0 -1.5t1.0 -1.5t1.0 -1.5t1.0 -1.5t1.0 -1.5M237.1 225.2q1.6 0.3 1.3 -1.3t1.3 -1.3t1.3 -1.3M235.1 235.3q1.6 0.3 1.2 -1.3t1.2 -1.3t1.2 -1.3t1.2 -1.3t1.2 -1.3t1.2 -1.3t1.2 -1.3M241.5 235.0q1.3 -1.1 -0.2 -1.8t-0.2 -1.8t-0.2 -1.8t-0.2 -1.8t-0.2 -1.8t-0.2 -1.8t-0.2 -1.8t-0.2 -1.8M238.7 237.9q-1.6 0.6 -1.5 -1.1t-1.5 -1.1t-1.5 -1.1t-1.5 -1.1M242.5 253.2q-1.5 0.7 -1.5 -0.9t-1.5 -0.9t-1.5 -0.9M247.0 242.8q0.6 -1.6 -1.1 -1.5t-1.1 -1.5t-1.1 -1.5t-1.1 -1.5t-1.1 -1.5t-1.1 -1.5M250.6 274.9q1.2 -1.2 -0.4 -1.8t-0.4 -1.8t-0.4 -1.8t-0.4 -1.8t-0.4 -1.8t-0.4 -1.8t-0.4 -1.8t-0.4 -1.8M241.3 263.6q1.0 -1.3 -0.6 -1.7t-0.6 -1.7t-0.6 -1.7t-0.6 -1.7t-0.6 -1.7t-0.6 -1.7t-0.6 -1.7M236.7 260.4q1.0 -1.3 -0.6 -1.7t-0.6 -1.7t-0.6 -1.7t-0.6 -1.7t-0.6 -1.7t-0.6 -1.7M249.5 195.2q0.8 -1.5 1.8 -0.2t1.8 -0.2t1.8 -0.2t1.8 -0.2t1.8 -0.2t1.8 -0.2M255.8 199.1q0.8 1.4 1.8 0.1t1.8 0.1t1.8 0.1t1.8 0.1M249.7 213.9q1.5 0.7 1.5 -0.9t1.5 -0.9t1.5 -0.9t1.5 -0.9t1.5 -0.9M252.3 245.0q0.8 -1.4 -0.8 -1.6t-0.8 -1.6t-0.8 -1.6t-0.8 -1.6t-0.8 -1.6t-0.8 -1.6t-0.8 -1.6t-0.8 -1.6M254.2 248.8q-1.7 -0.0 -0.9 -1.5t-0.9 -1.5t-0.9 -1.5t-0.9 -1.5t-0.9 -1.5t-0.9 -1.5M249.0 270.2q-1.6 0.3 -1.2 -1.3t-1.2 -1.3t-1.2 -1.3t-1.2 -1.3t-1.2 -1.3M259.1 279.4q-1.5 0.8 -1.6 -0.9t-1.6 -0.9t-1.6 -0.9t-1.6 -0.9t-1.6 -0.9t-1.6 -0.9M259.7 183.0q1.5 0.6 1.5 -1.0t1.5 -1.0t1.5 -1.0t1.5 -1.0t1.5 -1.0t1.5 -1.0t1.5 -1.0t1.5 -1.0M267.8 189.6q0.3 -1.6 1.7 -0.6t1.7 -0.6t1.7 -0.6t1.7 -0.6M267.4 190.8q1.3 1.0 1.7 -0.7t1.7 -0.7t1.7 -0.7t1.7 -0.7t1.7 -0.7t1.7 -0.7t1.7 -0.7t1.7 -0.7M263.5 253.3q0.6 -1.6 -1.1 -1.5t-1.1 -1.5t-1.1 -1.5t-1.1 -1.5M274.5 254.0q0.7 -1.5 -1.0 -1.5t-1.0 -1.5t-1.0 -1.5t-1.0 -1.5t-1.0 -1.5t-1.0 -1.5t-1.0 -1.5M261.8 265.9q-0.8 -1.4 -1.8 -0.1t-1.8 -0.1t-1.8 -0.1t-1.8 -0.1M272.9 285.0q-1.1 -1.2 -1.8 0.3t-1.8 0.3t-1.8 0.3t-1.8 0.3M284.1 173.4q1.4 0.9 0.0 1.8t0.0 1.8t0.0 1.8t0.0 1.8t0.0 1.8t0.0 1.8M278.5 168.2q-1.5 0.7 -0.3 1.8t-0.3 1.8t-0.3 1.8t-0.3 1.8t-0.3 1.8t-0.3 1.8t-0.3 1.8t-0.3 1.8M273.8 186.8q1.1 1.3 1.8 -0.3t1.8 -0.3t1.8 -0.3t1.8 -0.3t1.8 -0.3t1.8 -0.3t1.8 -0.3t1.8 -0.3M277.5 198.0q1.4 -0.9 1.7 0.7t1.7 0.7t1.7 0.7t1.7 0.7t1.7 0.7t1.7 0.7t1.7 0.7t1.7 0.7M288.9 264.1q-0.6 -1.6 -1.8 -0.4t-1.8 -0.4t-1.8 -0.4t-1.8 -0.4t-1.8 -0.4M287.7 254.4q-1.0 1.3 -1.8 -0.2t-1.8 -0.2t-1.8 -0.2t-1.8 -0.2t-1.8 -0.2t-1.8 -0.2t-1.8 -0.2t-1.8 -0.2M287.8 269.8q-0.7 -1.5 -1.8 -0.3t-1.8 -0.3t-1.8 -0.3t-1.8 -0.3t-1.8 -0.3t-1.8 -0.3t-1.8 -0.3t-1.8 -0.3M289.5 270.6q-0.2 -1.6 -1.6 -0.8t-1.6 -0.8t-1.6 -0.8t-1.6 -0.8t-1.6 -0.8t-1.6 -0.8t-1.6 -0.8M274.1 288.7q-1.1 -1.2 0.5 -1.7t0.5 -1.7t0.5 -1.7t0.5 -1.7t0.5 -1.7t0.5 -1.7M278.1 289.7q1.6 -0.5 0.5 -1.7t0.5 -1.7t0.5 -1.7t0.5 -1.7t0.5 -1.7t0.5 -1.7M290.8 187.4q-0.4 1.6 1.3 1.3t1.3 1.3t1.3 1.3t1.3 1.3t1.3 1.3t1.3 1.3t1.3 1.3t1.3 1.3M291.6 179.6q1.6 0.6 0.4 1.8t0.4 1.8t0.4 1.8t0.4 1.8t0.4 1.8t0.4 1.8M290.8 201.6q0.4 1.6 1.7 0.6t1.7 0.6t1.7 0.6t1.7 0.6t1.7 0.6t1.7 0.6t1.7 0.6M288.4 271.3q1.1 -1.2 -0.5 -1.7t-0.5 -1.7t-0.5 -1.7t-0.5 -1.7t-0.5 -1.7t-0.5 -1.7t-0.5 -1.7t-0.5 -1.7M300.1 264.0q-1.3 1.0 -1.7 -0.6t-1.7 -0.6t-1.7 -0.6t-1.7 -0.6t-1.7 -0.6t-1.7 -0.6M308.4 266.8q-0.5 -1.6 -1.7 -0.5t-1.7 -0.5t-1.7 -0.5M304.6 283.6q0.4 -1.6 -1.2 -1.3t-1.2 -1.3t-1.2 -1.3t-1.2 -1.3t-1.2 -1.3M293.7 175.6q1.6 -0.3 1.2 1.3t1.2 1.3t1.2 1.3t1.2 1.3t1.2 1.3t1.2 1.3t1.2 1.3t1.2 1.3M313.6 185.5q0.3 1.6 1.7 0.7t1.7 0.7t1.7 0.7t1.7 0.7t1.7 0.7t1.7 0.7t1.7 0.7t1.7 0.7M301.5 195.4q1.7 -0.1 1.1 1.4t1.1 1.4t1.1 1.4t1.1 1.4t1.1 1.4t1.1 1.4t1.1 1.4M309.4 203.3q-0.4 1.6 1.2 1.3t1.2 1.3t1.2 1.3t1.2 1.3M306.1 215.5q-0.2 1.7 1.4 1.1t1.4 1.1t1.4 1.1M307.0 211.0q1.3 1.0 -0.2 1.8t-0.2 1.8t-0.2 1.8t-0.2 1.8t-0.2 1.8t-0.2 1.8M313.3 244.6q-1.6 -0.3 -1.3 1.3t-1.3 1.3t-1.3 1.3t-1.3 1.3M311.7 253.4q0.0 1.7 -1.5 1.0t-1.5 1.0t-1.5 1.0t-1.5 1.0t-1.5 1.0t-1.5 1.0t-1.5 1.0M316.2 267.4q-0.7 -1.5 -1.8 -0.3t-1.8 -0.3t-1.8 -0.3t-1.8 -0.3t-1.8 -0.3t-1.8 -0.3M309.6 272.3q-0.0 1.7 -1.5 0.9t-1.5 0.9t-1.5 0.9t-1.5 0.9M318.9 179.2q1.2 1.2 1.8 -0.4t1.8 -0.4t1.8 -0.4t1.8 -0.4t1.8 -0.4t1.8 -0.4t1.8 -0.4t1.8 -0.4M324.9 181.9q0.5 -1.6 1.8 -0.4t1.8 -0.4t1.8 -0.4t1.8 -0.4M324.6 185.4q1.1 1.2 1.8 -0.3t1.8 -0.3t1.8 -0.3t1.8 -0.3t1.8 -0.3t1.8 -0.3M316.8 185.6q1.1 1.2 1.8 -0.3t1.8 -0.3t1.8 -0.3M322.9 187.7q0.5 1.6 -1.2 1.4t-1.2 1.4t-1.2 1.4t-1.2 1.4M317.3 195.6q-0.5 1.6 1.2 1.4t1.2 1.4t1.2 1.4t1.2 1.4t1.2 1.4t1.2 1.4M318.2 210.1q1.6 -0.4 1.3 1.2t1.3 1.2t1.3 1.2t1.3 1.2t1.3 1.2M324.8 209.5q1.5 -0.8 1.6 0.9t1.6 0.9t1.6 0.9t1.6 0.9t1.6 0.9t1.6 0.9t1.6 0.9M317.4 212.7q-1.5 -0.7 -1.5 1.0t-1.5 1.0t-1.5 1.0t-1.5 1.0t-1.5 1.0M327.6 240.5q1.2 1.2 -0.4 1.8t-0.4 1.8t-0.4 1.8t-0.4 1.8t-0.4 1.8t-0.4 1.8t-0.4 1.8t-0.4 1.8M329.6 257.5q-1.6 -0.4 -1.3 1.2t-1.3 1.2t-1.3 1.2t-1.3 1.2t-1.3 1.2M325.8 272.7q0.9 -1.4 -0.8 -1.6t-0.8 -1.6t-0.8 -1.6t-0.8 -1.6t-0.8 -1.6t-0.8 -1.6t-0.8 -1.6t-0.8 -1.6M318.1 270.4q-1.7 0.2 -1.1 -1.4t-1.1 -1.4t-1.1 -1.4t-1.1 -1.4t-1.1 -1.4t-1.1 -1.4M325.4 265.9q0.9 -1.4 -0.8 -1.6t-0.8 -1.6t-0.8 -1.6t-0.8 -1.6t-0.8 -1.6M335.1 198.0q0.6 1.5 -1.0 1.5t-1.0 1.5t-1.0 1.5t-1.0 1.5t-1.0 1.5t-1.0 1.5t-1.0 1.5M348.1 195.8q-1.7 -0.1 -1.1 1.4t-1.1 1.4t-1.1 1.4t-1.1 1.4t-1.1 1.4t-1.1 1.4M341.1 227.1q-1.6 0.5 -0.5 1.7t-0.5 1.7t-0.5 1.7t-0.5 1.7M338.9 223.8q-1.6 0.4 -0.6 1.7t-0.6 1.7t-0.6 1.7M337.6 223.0q0.9 1.4 -0.7 1.7t-0.7 1.7t-0.7 1.7t-0.7 1.7t-0.7 1.7t-0.7 1.7t-0.7 1.7t-0.7 1.7M334.1 225.5q0.9 1.4 -0.8 1.6t-0.8 1.6t-0.8 1.6t-0.8 1.6t-0.8 1.6t-0.8 1.6t-0.8 1.6t-0.8 1.6M336.9 243.9q0.6 1.5 -1.0 1.5t-1.0 1.5t-1.0 1.5t-1.0 1.5M336.2 261.8q-1.5 -0.8 -1.6 0.9t-1.6 0.9t-1.6 0.9t-1.6 0.9t-1.6 0.9t-1.6 0.9M340.3 264.2q-1.6 -0.3 -1.2 1.3t-1.2 1.3t-1.2 1.3t-1.2 1.3t-1.2 1.3M329.9 258.7q-1.4 -0.9 -1.6 0.7t-1.6 0.7t-1.6 0.7t-1.6 0.7t-1.6 0.7t-1.6 0.7M349.2 202.7q-0.1 1.7 1.4 1.1t1.4 1.1t1.4 1.1t1.4 1.1t1.4 1.1t1.4 1.1M356.0 221.2q-0.5 -1.6 -1.7 -0.4t-1.7 -0.4t-1.7 -0.4t-1.7 -0.4t-1.7 -0.4t-1.7 -0.4t-1.7 -0.4t-1.7 -0.4M362.5 226.0q-1.1 1.2 -1.8 -0.3t-1.8 -0.3t-1.8 -0.3t-1.8 -0.3t-1.8 -0.3t-1.8 -0.3M356.5 217.6q-0.8 -1.4 -1.8 -0.1t-1.8 -0.1t-1.8 -0.1M358.0 233.4q-1.2 -1.1 -1.7 0.5t-1.7 0.5t-1.7 0.5t-1.7 0.5t-1.7 0.5t-1.7 0.5M332.6 244.1q-1.5 0.7 -0.2 1.8t-0.2 1.8t-0.2 1.8t-0.2 1.8t-0.2 1.8t-0.2 1.8t-0.2 1.8M361.9 247.3q-1.7 0.2 -0.8 1.6t-0.8 1.6t-0.8 1.6t-0.8 1.6t-0.8 1.6t-0.8 1.6t-0.8 1.6t-0.8 1.6M355.7 201.7q1.7 0.0 0.9 1.5t0.9 1.5t0.9 1.5t0.9 1.5t0.9 1.5t0.9 1.5M353.5 205.0q-0.7 1.5 1.0 1.5t1.0 1.5t1.0 1.5M361.6 236.5q1.5 0.7 0.3 1.8t0.3 1.8t0.3 1.8t0.3 1.8t0.3 1.8M360.1 236.9q1.6 0.5 0.5 1.7t0.5 1.7t0.5 1.7t0.5 1.7t0.5 1.7t0.5 1.7M362.0 238.6q-1.5 0.6 -0.3 1.8t-0.3 1.8t-0.3 1.8t-0.3 1.8t-0.3 1.8t-0.3 1.8M353.0 241.3q-1.5 0.7 -0.2 1.8t-0.2 1.8t-0.2 1.8t-0.2 1.8t-0.2 1.8t-0.2 1.8" stroke="#8a86ee" stroke-width="1.3" fill="none" stroke-linecap="round"/>
<path d="" stroke="#7c78e4" stroke-width="1.3" fill="none" stroke-linecap="round"/>
<path d="M214.5 212.5q-1.4 -0.9 0.0 -1.8t0.0 -1.8t0.0 -1.8t0.0 -1.8M214.2 226.7q1.5 -0.7 0.2 -1.8t0.2 -1.8t0.2 -1.8t0.2 -1.8t0.2 -1.8t0.2 -1.8t0.2 -1.8M215.7 241.6q-1.6 -0.5 -0.4 -1.7t-0.4 -1.7t-0.4 -1.7t-0.4 -1.7t-0.4 -1.7M210.8 220.7q-1.5 -0.8 -0.2 -1.8t-0.2 -1.8t-0.2 -1.8t-0.2 -1.8M224.3 261.4q0.8 -1.4 -0.8 -1.6t-0.8 -1.6t-0.8 -1.6t-0.8 -1.6t-0.8 -1.6M229.7 198.5q-0.6 -1.5 1.0 -1.5t1.0 -1.5t1.0 -1.5t1.0 -1.5t1.0 -1.5t1.0 -1.5t1.0 -1.5t1.0 -1.5M237.3 197.7q-1.1 -1.2 0.5 -1.7t0.5 -1.7t0.5 -1.7M226.2 198.5q-1.1 -1.3 0.5 -1.7t0.5 -1.7t0.5 -1.7t0.5 -1.7M222.0 201.1q-0.7 -1.5 1.0 -1.5t1.0 -1.5t1.0 -1.5M211.9 210.1q1.6 0.5 1.4 -1.2t1.4 -1.2t1.4 -1.2t1.4 -1.2t1.4 -1.2M227.5 221.2q-1.5 -0.7 -0.3 -1.8t-0.3 -1.8t-0.3 -1.8t-0.3 -1.8t-0.3 -1.8M231.3 222.8q-1.6 -0.6 -0.4 -1.8t-0.4 -1.8t-0.4 -1.8t-0.4 -1.8t-0.4 -1.8t-0.4 -1.8t-0.4 -1.8t-0.4 -1.8M223.2 225.3q1.4 -0.9 -0.0 -1.8t-0.0 -1.8t-0.0 -1.8t-0.0 -1.8t-0.0 -1.8t-0.0 -1.8t-0.0 -1.8M226.4 220.7q1.2 -1.1 -0.3 -1.8t-0.3 -1.8t-0.3 -1.8t-0.3 -1.8M223.2 232.9q1.2 1.2 1.8 -0.4t1.8 -0.4t1.8 -0.4t1.8 -0.4t1.8 -0.4t1.8 -0.4M215.9 238.2q0.9 -1.4 1.8 -0.0t1.8 -0.0t1.8 -0.0t1.8 -0.0M225.9 236.8q1.0 1.4 1.8 -0.1t1.8 -0.1t1.8 -0.1t1.8 -0.1t1.8 -0.1t1.8 -0.1t1.8 -0.1M227.6 234.4q1.0 1.3 1.8 -0.2t1.8 -0.2t1.8 -0.2t1.8 -0.2M219.4 247.9q1.4 0.9 1.7 -0.7t1.7 -0.7t1.7 -0.7M217.5 246.8q1.4 0.8 1.6 -0.8t1.6 -0.8t1.6 -0.8t1.6 -0.8t1.6 -0.8M232.6 243.2q1.3 1.0 1.7 -0.6t1.7 -0.6t1.7 -0.6t1.7 -0.6M215.1 255.6q0.1 -1.7 1.6 -0.9t1.6 -0.9t1.6 -0.9t1.6 -0.9t1.6 -0.9M226.5 261.7q0.9 -1.4 -0.7 -1.6t-0.7 -1.6t-0.7 -1.6t-0.7 -1.6M231.9 266.8q0.8 -1.4 -0.8 -1.6t-0.8 -1.6t-0.8 -1.6M239.6 193.1q1.6 -0.5 1.4 1.1t1.4 1.1t1.4 1.1t1.4 1.1t1.4 1.1M235.6 186.6q1.7 -0.2 1.1 1.4t1.1 1.4t1.1 1.4M235.7 185.3q1.6 -0.3 1.3 1.3t1.3 1.3t1.3 1.3t1.3 1.3t1.3 1.3t1.3 1.3t1.3 1.3t1.3 1.3M227.9 199.0q0.1 1.7 1.6 0.9t1.6 0.9t1.6 0.9t1.6 0.9t1.6 0.9M242.5 227.8q1.7 0.1 1.1 -1.4t1.1 -1.4t1.1 -1.4t1.1 -1.4t1.1 -1.4t1.1 -1.4t1.1 -1.4t1.1 -1.4M230.9 217.9q1.6 -0.4 0.6 -1.7t0.6 -1.7t0.6 -1.7M235.6 219.3q1.7 -0.1 0.9 -1.6t0.9 -1.6t0.9 -1.6t0.9 -1.6M239.6 234.3q1.4 -0.9 -0.0 -1.8t-0.0 -1.8t-0.0 -1.8t-0.0 -1.8t-0.0 -1.8t-0.0 -1.8t-0.0 -1.8t-0.0 -1.8M245.9 236.5q-1.5 -0.7 -0.2 -1.8t-0.2 -1.8t-0.2 -1.8t-0.2 -1.8t-0.2 -1.8t-0.2 -1.8t-0.2 -1.8t-0.2 -1.8M227.1 227.3q1.1 -1.3 -0.5 -1.7t-0.5 -1.7t-0.5 -1.7M241.8 233.3q-1.6 -0.6 -0.4 -1.8t-0.4 -1.8t-0.4 -1.8M231.3 238.9q-1.5 -0.7 -0.3 -1.8t-0.3 -1.8t-0.3 -1.8M244.6 244.5q-1.6 0.4 -1.3 -1.2t-1.3 -1.2t-1.3 -1.2M232.9 245.1q0.5 -1.6 -1.1 -1.4t-1.1 -1.4t-1.1 -1.4t-1.1 -1.4t-1.1 -1.4t-1.1 -1.4M249.4 266.6q1.2 -1.2 -0.4 -1.8t-0.4 -1.8t-0.4 -1.8t-0.4 -1.8t-0.4 -1.8t-0.4 -1.8t-0.4 -1.8t-0.4 -1.8M250.0 266.4q-1.6 -0.6 -0.4 -1.8t-0.4 -1.8t-0.4 -1.8t-0.4 -1.8t-0.4 -1.8t-0.4 -1.8M249.5 268.9q1.2 -1.1 -0.3 -1.8t-0.3 -1.8t-0.3 -1.8t-0.3 -1.8t-0.3 -1.8t-0.3 -1.8t-0.3 -1.8M254.8 271.2q-0.8 -1.4 -1.8 -0.1t-1.8 -0.1t-1.8 -0.1t-1.8 -0.1t-1.8 -0.1t-1.8 -0.1t-1.8 -0.1t-1.8 -0.1M264.2 203.0q1.0 1.4 1.8 -0.1t1.8 -0.1t1.8 -0.1M246.3 194.1q0.6 -1.5 1.8 -0.3t1.8 -0.3t1.8 -0.3M246.5 189.0q1.2 1.2 1.8 -0.4t1.8 -0.4t1.8 -0.4t1.8 -0.4M234.9 197.1q-0.0 -1.7 1.5 -1.0t1.5 -1.0t1.5 -1.0t1.5 -1.0t1.5 -1.0t1.5 -1.0t1.5 -1.0M250.5 221.9q-1.0 -1.3 0.6 -1.7t0.6 -1.7t0.6 -1.7t0.6 -1.7t0.6 -1.7M239.6 212.6q1.6 -0.3 0.7 -1.7t0.7 -1.7t0.7 -1.7M252.4 219.4q-0.9 -1.4 0.8 -1.6t0.8 -1.6t0.8 -1.6t0.8 -1.6M242.5 210.5q-0.9 -1.4 0.8 -1.6t0.8 -1.6t0.8 -1.6t0.8 -1.6M253.7 240.2q-1.6 -0.6 -0.4 -1.8t-0.4 -1.8t-0.4 -1.8M254.2 240.8q-1.6 -0.5 -0.5 -1.7t-0.5 -1.7t-0.5 -1.7t-0.5 -1.7t-0.5 -1.7t-0.5 -1.7t-0.5 -1.7M251.9 241.8q-1.7 -0.1 -0.9 -1.6t-0.9 -1.6t-0.9 -1.6t-0.9 -1.6t-0.9 -1.6t-0.9 -1.6M256.0 267.3q-1.7 0.2 -1.1 -1.4t-1.1 -1.4t-1.1 -1.4t-1.1 -1.4M263.8 258.8q0.1 -1.7 -1.5 -1.0t-1.5 -1.0t-1.5 -1.0t-1.5 -1.0t-1.5 -1.0t-1.5 -1.0t-1.5 -1.0t-1.5 -1.0M263.0 280.5q-1.7 0.1 -1.1 -1.4t-1.1 -1.4t-1.1 -1.4t-1.1 -1.4t-1.1 -1.4t-1.1 -1.4t-1.1 -1.4M247.9 270.6q0.3 -1.6 -1.3 -1.2t-1.3 -1.2t-1.3 -1.2t-1.3 -1.2t-1.3 -1.2t-1.3 -1.2t-1.3 -1.2t-1.3 -1.2M259.0 269.9q-1.6 0.6 -1.5 -1.1t-1.5 -1.1t-1.5 -1.1t-1.5 -1.1t-1.5 -1.1M249.6 275.2q0.2 -1.7 -1.4 -1.2t-1.4 -1.2t-1.4 -1.2M251.4 278.4q-1.4 0.9 -1.6 -0.7t-1.6 -0.7t-1.6 -0.7t-1.6 -0.7M261.4 190.9q1.6 0.4 1.3 -1.2t1.3 -1.2t1.3 -1.2t1.3 -1.2t1.3 -1.2t1.3 -1.2t1.3 -1.2M254.5 193.1q1.3 1.0 1.7 -0.6t1.7 -0.6t1.7 -0.6t1.7 -0.6M266.4 199.9q0.1 -1.7 1.6 -0.9t1.6 -0.9t1.6 -0.9t1.6 -0.9t1.6 -0.9M253.2 189.7q0.4 -1.6 1.7 -0.6t1.7 -0.6t1.7 -0.6t1.7 -0.6t1.7 -0.6M268.1 191.3q0.1 -1.7 1.6 -0.8t1.6 -0.8t1.6 -0.8t1.6 -0.8M261.4 183.6q0.0 -1.7 1.5 -0.9t1.5 -0.9t1.5 -0.9M262.0 209.0q-0.1 -1.7 1.5 -1.1t1.5 -1.1t1.5 -1.1t1.5 -1.1t1.5 -1.1t1.5 -1.1M258.8 221.3q-0.6 -1.6 1.1 -1.4t1.1 -1.4t1.1 -1.4t1.1 -1.4t1.1 -1.4t1.1 -1.4M262.1 211.3q-0.6 -1.5 1.0 -1.5t1.0 -1.5t1.0 -1.5t1.0 -1.5t1.0 -1.5t1.0 -1.5t1.0 -1.5M273.0 217.6q-0.3 -1.6 1.3 -1.3t1.3 -1.3t1.3 -1.3t1.3 -1.3t1.3 -1.3t1.3 -1.3t1.3 -1.3M270.1 217.5q1.6 0.5 1.3 -1.2t1.3 -1.2t1.3 -1.2t1.3 -1.2t1.3 -1.2t1.3 -1.2t1.3 -1.2M264.2 247.8q-1.7 0.1 -1.1 -1.5t-1.1 -1.5t-1.1 -1.5t-1.1 -1.5t-1.1 -1.5t-1.1 -1.5t-1.1 -1.5M266.6 254.9q-0.8 -1.5 -1.8 -0.1t-1.8 -0.1t-1.8 -0.1t-1.8 -0.1M275.2 259.3q-0.7 -1.5 -1.8 -0.2t-1.8 -0.2t-1.8 -0.2M275.5 247.4q-0.9 -1.4 -1.8 -0.0t-1.8 -0.0t-1.8 -0.0t-1.8 -0.0M265.9 280.7q-0.9 1.4 -1.8 -0.0t-1.8 -0.0t-1.8 -0.0t-1.8 -0.0t-1.8 -0.0t-1.8 -0.0M269.7 272.2q-1.2 1.1 -1.7 -0.5t-1.7 -0.5t-1.7 -0.5t-1.7 -0.5M273.8 264.8q-1.0 1.3 -1.8 -0.1t-1.8 -0.1t-1.8 -0.1t-1.8 -0.1M271.7 268.1q-0.3 -1.6 -1.6 -0.7t-1.6 -0.7t-1.6 -0.7t-1.6 -0.7t-1.6 -0.7t-1.6 -0.7t-1.6 -0.7M280.6 279.6q-0.9 1.4 -1.8 -0.1t-1.8 -0.1t-1.8 -0.1t-1.8 -0.1M288.5 286.1q-1.1 -1.2 -1.8 0.3t-1.8 0.3t-1.8 0.3t-1.8 0.3t-1.8 0.3t-1.8 0.3t-1.8 0.3t-1.8 0.3M271.2 186.5q0.7 -1.5 1.8 -0.2t1.8 -0.2t1.8 -0.2t1.8 -0.2t1.8 -0.2t1.8 -0.2M271.2 191.4q0.7 -1.5 1.8 -0.2t1.8 -0.2t1.8 -0.2t1.8 -0.2t1.8 -0.2M270.2 191.2q1.1 1.2 1.8 -0.3t1.8 -0.3t1.8 -0.3t1.8 -0.3M279.4 186.3q0.9 -1.4 1.8 0.0t1.8 0.0t1.8 0.0t1.8 0.0M279.9 200.9q-0.2 1.6 1.4 1.2t1.4 1.2t1.4 1.2M274.8 201.4q1.6 -0.3 1.2 1.3t1.2 1.3t1.2 1.3t1.2 1.3t1.2 1.3M287.1 204.4q1.5 -0.8 1.6 0.9t1.6 0.9t1.6 0.9t1.6 0.9t1.6 0.9t1.6 0.9M266.3 214.6q-0.6 1.5 1.0 1.5t1.0 1.5t1.0 1.5t1.0 1.5t1.0 1.5t1.0 1.5M268.5 213.4q-0.9 1.4 0.8 1.6t0.8 1.6t0.8 1.6t0.8 1.6t0.8 1.6t0.8 1.6M276.1 211.3q-0.7 1.5 0.9 1.5t0.9 1.5t0.9 1.5M285.7 268.5q-1.2 1.2 -1.8 -0.4t-1.8 -0.4t-1.8 -0.4M287.7 260.5q-0.7 1.5 -1.8 0.3t-1.8 0.3t-1.8 0.3t-1.8 0.3t-1.8 0.3t-1.8 0.3M292.5 268.0q-1.0 -1.3 -1.8 0.1t-1.8 0.1t-1.8 0.1t-1.8 0.1t-1.8 0.1t-1.8 0.1M287.9 268.3q-1.1 1.3 -1.8 -0.2t-1.8 -0.2t-1.8 -0.2t-1.8 -0.2t-1.8 -0.2t-1.8 -0.2t-1.8 -0.2M286.1 283.7q-1.2 1.2 -1.8 -0.4t-1.8 -0.4t-1.8 -0.4t-1.8 -0.4t-1.8 -0.4M285.4 272.8q-0.3 -1.6 -1.7 -0.7t-1.7 -0.7t-1.7 -0.7t-1.7 -0.7t-1.7 -0.7t-1.7 -0.7t-1.7 -0.7M290.9 183.3q1.6 -0.4 1.3 1.2t1.3 1.2t1.3 1.2M285.5 182.1q1.6 -0.5 1.4 1.2t1.4 1.2t1.4 1.2M292.8 182.8q-0.1 1.7 1.4 1.1t1.4 1.1t1.4 1.1t1.4 1.1M304.2 187.0q-1.5 0.8 -0.1 1.8t-0.1 1.8t-0.1 1.8t-0.1 1.8t-0.1 1.8t-0.1 1.8M294.3 186.8q-1.4 0.9 0.1 1.8t0.1 1.8t0.1 1.8t0.1 1.8t0.1 1.8M290.8 203.5q0.4 1.6 1.7 0.6t1.7 0.6t1.7 0.6t1.7 0.6t1.7 0.6M289.8 207.0q1.5 -0.7 1.5 1.0t1.5 1.0t1.5 1.0t1.5 1.0t1.5 1.0M283.0 198.2q0.4 1.6 1.7 0.6t1.7 0.6t1.7 0.6t1.7 0.6t1.7 0.6t1.7 0.6t1.7 0.6t1.7 0.6M293.1 199.3q0.3 1.6 1.6 0.7t1.6 0.7t1.6 0.7t1.6 0.7t1.6 0.7M293.6 201.7q0.6 1.5 1.8 0.3t1.8 0.3t1.8 0.3t1.8 0.3t1.8 0.3M291.3 185.3q1.3 -1.0 1.7 0.6t1.7 0.6t1.7 0.6t1.7 0.6t1.7 0.6t1.7 0.6t1.7 0.6t1.7 0.6M292.4 194.3q1.2 -1.1 1.7 0.5t1.7 0.5t1.7 0.5t1.7 0.5t1.7 0.5M289.5 202.3q-1.5 0.7 -0.3 1.8t-0.3 1.8t-0.3 1.8M296.6 255.9q0.7 -1.5 -1.0 -1.5t-1.0 -1.5t-1.0 -1.5t-1.0 -1.5t-1.0 -1.5t-1.0 -1.5M289.9 264.8q-1.4 -0.9 -0.0 -1.8t-0.0 -1.8t-0.0 -1.8M290.1 260.1q1.1 -1.2 -0.5 -1.7t-0.5 -1.7t-0.5 -1.7t-0.5 -1.7t-0.5 -1.7M292.5 261.1q-1.4 -0.8 -0.1 -1.8t-0.1 -1.8t-0.1 -1.8t-0.1 -1.8t-0.1 -1.8t-0.1 -1.8t-0.1 -1.8t-0.1 -1.8M292.5 263.7q1.1 -1.2 -0.5 -1.7t-0.5 -1.7t-0.5 -1.7M293.0 264.2q0.7 -1.5 -1.0 -1.5t-1.0 -1.5t-1.0 -1.5t-1.0 -1.5t-1.0 -1.5M289.1 275.1q1.3 -1.1 -0.2 -1.8t-0.2 -1.8t-0.2 -1.8t-0.2 -1.8t-0.2 -1.8t-0.2 -1.8t-0.2 -1.8M290.4 271.5q-0.1 -1.7 -1.5 -0.9t-1.5 -0.9t-1.5 -0.9M305.8 281.4q0.6 -1.6 -1.1 -1.5t-1.1 -1.5t-1.1 -1.5t-1.1 -1.5M303.5 285.0q0.5 -1.6 -1.1 -1.4t-1.1 -1.4t-1.1 -1.4t-1.1 -1.4t-1.1 -1.4t-1.1 -1.4M291.1 289.5q-1.7 -0.0 -0.9 -1.5t-0.9 -1.5t-0.9 -1.5M288.1 175.7q0.2 1.7 1.6 0.8t1.6 0.8t1.6 0.8t1.6 0.8t1.6 0.8t1.6 0.8t1.6 0.8t1.6 0.8M294.6 174.2q1.5 -0.7 1.5 1.0t1.5 1.0t1.5 1.0t1.5 1.0t1.5 1.0t1.5 1.0t1.5 1.0t1.5 1.0M301.0 178.5q1.5 -0.7 1.5 0.9t1.5 0.9t1.5 0.9t1.5 0.9t1.5 0.9M308.6 181.2q-0.1 1.7 1.4 1.1t1.4 1.1t1.4 1.1M298.3 187.8q0.1 1.7 1.6 0.8t1.6 0.8t1.6 0.8t1.6 0.8t1.6 0.8t1.6 0.8M303.0 195.6q0.0 1.7 1.5 1.0t1.5 1.0t1.5 1.0t1.5 1.0t1.5 1.0t1.5 1.0t1.5 1.0t1.5 1.0M309.0 209.8q-0.7 1.5 1.0 1.5t1.0 1.5t1.0 1.5M299.3 205.7q-0.3 1.6 1.3 1.2t1.3 1.2t1.3 1.2t1.3 1.2t1.3 1.2t1.3 1.2t1.3 1.2M293.3 196.8q1.6 -0.3 1.2 1.3t1.2 1.3t1.2 1.3t1.2 1.3t1.2 1.3t1.2 1.3M317.9 243.4q-1.7 0.2 -0.8 1.6t-0.8 1.6t-0.8 1.6t-0.8 1.6t-0.8 1.6t-0.8 1.6t-0.8 1.6M316.6 241.7q-1.7 -0.1 -1.1 1.4t-1.1 1.4t-1.1 1.4t-1.1 1.4t-1.1 1.4t-1.1 1.4t-1.1 1.4t-1.1 1.4M315.6 242.3q-1.7 0.0 -0.9 1.5t-0.9 1.5t-0.9 1.5t-0.9 1.5t-0.9 1.5t-0.9 1.5M305.3 253.4q-0.3 1.6 -1.7 0.7t-1.7 0.7t-1.7 0.7t-1.7 0.7t-1.7 0.7t-1.7 0.7M304.8 261.8q0.0 1.7 -1.5 1.0t-1.5 1.0t-1.5 1.0M314.1 250.7q-1.5 -0.7 -1.5 1.0t-1.5 1.0t-1.5 1.0t-1.5 1.0t-1.5 1.0t-1.5 1.0t-1.5 1.0t-1.5 1.0M316.7 248.3q-1.2 -1.2 -1.8 0.4t-1.8 0.4t-1.8 0.4t-1.8 0.4M317.3 250.0q-1.4 -0.9 -1.6 0.7t-1.6 0.7t-1.6 0.7t-1.6 0.7t-1.6 0.7M309.4 248.1q-0.2 1.7 -1.6 0.8t-1.6 0.8t-1.6 0.8t-1.6 0.8M311.4 265.2q-1.1 1.3 -1.8 -0.2t-1.8 -0.2t-1.8 -0.2t-1.8 -0.2t-1.8 -0.2t-1.8 -0.2t-1.8 -0.2t-1.8 -0.2M311.3 262.7q-0.9 -1.4 -1.8 -0.0t-1.8 -0.0t-1.8 -0.0t-1.8 -0.0M307.2 271.0q-0.9 1.4 -1.8 0.0t-1.8 0.0t-1.8 0.0t-1.8 0.0t-1.8 0.0t-1.8 0.0M311.5 269.0q-0.9 -1.4 -1.8 0.0t-1.8 0.0t-1.8 0.0t-1.8 0.0M306.6 280.5q-1.5 -0.6 -1.5 1.0t-1.5 1.0t-1.5 1.0M304.0 276.8q-1.6 -0.3 -1.2 1.3t-1.2 1.3t-1.2 1.3t-1.2 1.3t-1.2 1.3t-1.2 1.3M310.3 273.6q0.2 1.6 -1.4 1.2t-1.4 1.2t-1.4 1.2t-1.4 1.2t-1.4 1.2M307.5 272.6q0.2 1.7 -1.4 1.1t-1.4 1.1t-1.4 1.1t-1.4 1.1t-1.4 1.1t-1.4 1.1t-1.4 1.1M314.0 183.7q1.0 1.4 1.8 -0.1t1.8 -0.1t1.8 -0.1t1.8 -0.1t1.8 -0.1M329.5 188.7q0.6 1.6 -1.1 1.4t-1.1 1.4t-1.1 1.4M339.6 180.2q0.5 1.6 -1.2 1.4t-1.2 1.4t-1.2 1.4t-1.2 1.4t-1.2 1.4t-1.2 1.4t-1.2 1.4t-1.2 1.4M325.8 189.9q0.2 1.6 -1.4 1.2t-1.4 1.2t-1.4 1.2M336.4 187.8q-1.6 -0.4 -1.3 1.3t-1.3 1.3t-1.3 1.3t-1.3 1.3t-1.3 1.3t-1.3 1.3M307.5 209.3q-0.1 1.7 1.5 1.1t1.5 1.1t1.5 1.1t1.5 1.1t1.5 1.1t1.5 1.1t1.5 1.1t1.5 1.1M311.2 200.2q1.6 -0.3 1.2 1.3t1.2 1.3t1.2 1.3t1.2 1.3M335.2 215.5q-0.3 1.6 -1.7 0.7t-1.7 0.7t-1.7 0.7t-1.7 0.7t-1.7 0.7M322.3 211.8q-1.6 -0.4 -1.3 1.2t-1.3 1.2t-1.3 1.2M320.5 214.6q-0.3 1.6 -1.6 0.7t-1.6 0.7t-1.6 0.7t-1.6 0.7t-1.6 0.7M329.8 220.2q-0.1 1.7 -1.6 0.9t-1.6 0.9t-1.6 0.9t-1.6 0.9M331.0 208.6q-1.5 -0.6 -1.5 1.1t-1.5 1.1t-1.5 1.1t-1.5 1.1M320.3 210.5q-0.1 1.7 -1.6 0.9t-1.6 0.9t-1.6 0.9t-1.6 0.9M330.2 239.5q-1.6 0.6 -0.4 1.8t-0.4 1.8t-0.4 1.8t-0.4 1.8t-0.4 1.8t-0.4 1.8t-0.4 1.8t-0.4 1.8M327.0 245.5q-1.5 0.7 -0.3 1.8t-0.3 1.8t-0.3 1.8t-0.3 1.8M330.1 238.0q1.0 1.3 -0.6 1.7t-0.6 1.7t-0.6 1.7t-0.6 1.7t-0.6 1.7t-0.6 1.7M320.8 236.0q-1.5 0.7 -0.2 1.8t-0.2 1.8t-0.2 1.8t-0.2 1.8t-0.2 1.8t-0.2 1.8t-0.2 1.8M335.5 254.5q1.1 1.2 -0.4 1.7t-0.4 1.7t-0.4 1.7t-0.4 1.7t-0.4 1.7t-0.4 1.7t-0.4 1.7M320.6 240.0q-1.5 0.7 -0.2 1.8t-0.2 1.8t-0.2 1.8t-0.2 1.8t-0.2 1.8M329.7 256.1q0.1 1.7 -1.5 1.0t-1.5 1.0t-1.5 1.0t-1.5 1.0M329.3 265.6q-1.5 -0.6 -1.5 1.0t-1.5 1.0t-1.5 1.0t-1.5 1.0t-1.5 1.0M325.9 271.0q-1.7 0.0 -1.0 -1.5t-1.0 -1.5t-1.0 -1.5t-1.0 -1.5t-1.0 -1.5M324.1 270.7q-1.7 -0.2 -0.8 -1.6t-0.8 -1.6t-0.8 -1.6t-0.8 -1.6t-0.8 -1.6M336.4 272.2q0.3 -1.6 -1.3 -1.3t-1.3 -1.3t-1.3 -1.3t-1.3 -1.3t-1.3 -1.3M335.3 278.4q-1.6 -0.3 -0.7 -1.7t-0.7 -1.7t-0.7 -1.7t-0.7 -1.7t-0.7 -1.7t-0.7 -1.7t-0.7 -1.7M328.1 266.5q-1.6 -0.2 -0.8 -1.6t-0.8 -1.6t-0.8 -1.6t-0.8 -1.6t-0.8 -1.6M327.2 271.9q0.7 -1.5 -1.0 -1.5t-1.0 -1.5t-1.0 -1.5t-1.0 -1.5M321.7 281.3q-1.1 -1.3 -1.8 0.3t-1.8 0.3t-1.8 0.3t-1.8 0.3M339.4 200.1q-0.2 1.7 1.4 1.2t1.4 1.2t1.4 1.2t1.4 1.2t1.4 1.2t1.4 1.2t1.4 1.2M340.6 192.5q-0.0 1.7 1.5 1.0t1.5 1.0t1.5 1.0M338.4 192.6q-0.1 1.7 1.4 1.1t1.4 1.1t1.4 1.1t1.4 1.1M346.3 189.5q-1.6 -0.3 -1.2 1.3t-1.2 1.3t-1.2 1.3M339.5 203.2q-1.4 1.0 0.1 1.8t0.1 1.8t0.1 1.8t0.1 1.8t0.1 1.8M339.5 200.0q-1.2 1.2 0.3 1.8t0.3 1.8t0.3 1.8t0.3 1.8t0.3 1.8t0.3 1.8t0.3 1.8t0.3 1.8M351.9 209.0q-1.0 1.3 0.6 1.7t0.6 1.7t0.6 1.7t0.6 1.7t0.6 1.7t0.6 1.7t0.6 1.7M344.4 210.3q1.5 0.7 0.2 1.8t0.2 1.8t0.2 1.8t0.2 1.8M336.0 223.3q-1.5 0.6 -0.3 1.8t-0.3 1.8t-0.3 1.8t-0.3 1.8t-0.3 1.8t-0.3 1.8t-0.3 1.8M333.3 229.2q1.2 1.1 -0.3 1.8t-0.3 1.8t-0.3 1.8M340.4 252.7q0.1 1.7 -1.4 1.1t-1.4 1.1t-1.4 1.1t-1.4 1.1t-1.4 1.1t-1.4 1.1t-1.4 1.1t-1.4 1.1M330.8 243.6q-1.7 -0.1 -1.1 1.5t-1.1 1.5t-1.1 1.5M339.8 254.2q0.6 1.6 -1.1 1.4t-1.1 1.4t-1.1 1.4t-1.1 1.4t-1.1 1.4t-1.1 1.4t-1.1 1.4M331.8 261.1q-1.7 -0.0 -1.0 1.5t-1.0 1.5t-1.0 1.5t-1.0 1.5t-1.0 1.5t-1.0 1.5t-1.0 1.5M352.9 256.3q0.5 1.6 -1.1 1.4t-1.1 1.4t-1.1 1.4t-1.1 1.4t-1.1 1.4t-1.1 1.4M337.3 270.5q-1.6 0.4 -0.6 1.7t-0.6 1.7t-0.6 1.7M339.8 257.2q0.1 1.7 -1.5 1.0t-1.5 1.0t-1.5 1.0t-1.5 1.0M340.7 269.3q-1.6 -0.4 -1.3 1.3t-1.3 1.3t-1.3 1.3t-1.3 1.3t-1.3 1.3t-1.3 1.3t-1.3 1.3M327.7 265.6q-0.1 1.7 -1.6 0.9t-1.6 0.9t-1.6 0.9t-1.6 0.9t-1.6 0.9t-1.6 0.9t-1.6 0.9t-1.6 0.9M337.9 183.2q-0.1 1.7 1.4 1.1t1.4 1.1t1.4 1.1t1.4 1.1t1.4 1.1t1.4 1.1M339.8 201.6q1.6 -0.5 1.4 1.1t1.4 1.1t1.4 1.1t1.4 1.1t1.4 1.1t1.4 1.1M345.1 207.7q1.6 -0.5 1.3 1.2t1.3 1.2t1.3 1.2M351.5 224.1q-1.2 1.1 -1.7 -0.5t-1.7 -0.5t-1.7 -0.5t-1.7 -0.5t-1.7 -0.5t-1.7 -0.5t-1.7 -0.5M357.5 223.9q-1.2 1.2 -1.8 -0.4t-1.8 -0.4t-1.8 -0.4t-1.8 -0.4t-1.8 -0.4t-1.8 -0.4M354.1 217.1q-0.7 -1.5 -1.8 -0.2t-1.8 -0.2t-1.8 -0.2t-1.8 -0.2t-1.8 -0.2t-1.8 -0.2M351.6 217.7q-1.0 1.3 -1.8 -0.1t-1.8 -0.1t-1.8 -0.1t-1.8 -0.1t-1.8 -0.1t-1.8 -0.1t-1.8 -0.1M349.2 227.6q-0.7 1.5 -1.8 0.3t-1.8 0.3t-1.8 0.3t-1.8 0.3M359.9 227.0q-1.4 -0.9 -1.6 0.7t-1.6 0.7t-1.6 0.7t-1.6 0.7t-1.6 0.7t-1.6 0.7t-1.6 0.7t-1.6 0.7M355.3 234.7q-0.6 1.5 -1.8 0.3t-1.8 0.3t-1.8 0.3t-1.8 0.3t-1.8 0.3t-1.8 0.3t-1.8 0.3M343.2 249.2q1.1 1.3 -0.5 1.7t-0.5 1.7t-0.5 1.7M346.7 252.1q-1.6 0.4 -0.5 1.7t-0.5 1.7t-0.5 1.7t-0.5 1.7t-0.5 1.7t-0.5 1.7M347.5 255.1q1.1 1.3 -0.5 1.7t-0.5 1.7t-0.5 1.7t-0.5 1.7t-0.5 1.7t-0.5 1.7t-0.5 1.7M350.5 256.3q-1.7 0.2 -0.8 1.6t-0.8 1.6t-0.8 1.6t-0.8 1.6t-0.8 1.6M354.4 260.2q0.2 1.6 -1.4 1.2t-1.4 1.2t-1.4 1.2t-1.4 1.2t-1.4 1.2t-1.4 1.2M357.6 227.6q1.7 0.1 0.9 1.6t0.9 1.6t0.9 1.6M359.2 229.7q1.6 0.4 0.5 1.7t0.5 1.7t0.5 1.7t0.5 1.7t0.5 1.7t0.5 1.7t0.5 1.7t0.5 1.7M357.9 229.8q-1.4 0.9 -0.0 1.8t-0.0 1.8t-0.0 1.8t-0.0 1.8t-0.0 1.8M362.9 243.6q-1.5 0.8 -0.2 1.8t-0.2 1.8t-0.2 1.8t-0.2 1.8t-0.2 1.8t-0.2 1.8t-0.2 1.8M357.4 222.6q1.0 1.3 -0.6 1.7t-0.6 1.7t-0.6 1.7t-0.6 1.7t-0.6 1.7t-0.6 1.7t-0.6 1.7t-0.6 1.7" stroke="#1b8c7c" stroke-width="1.3" fill="none" stroke-linecap="round"/>
<path d="M211.1 236.5L209.6 230.1M222.0 203.7L229.3 199.0M229.0 222.1L227.2 213.6M231.8 219.6L229.6 208.7M222.8 227.8L235.6 227.8M222.5 230.7L230.3 230.6M220.4 233.0L231.9 233.0M222.0 234.8L231.2 234.8M219.8 243.7L228.4 239.4M225.8 259.6L222.0 252.8M241.5 198.8L249.7 204.0M232.3 222.3L236.9 216.1M235.9 223.6L240.9 216.8M238.0 234.6L237.0 226.7M239.0 252.9L233.8 248.8M241.8 252.2L232.5 244.7M244.4 247.7L236.2 241.1M243.5 246.1L234.0 238.5M244.8 263.2L243.6 257.2M253.3 186.8L261.0 186.3M249.7 192.3L262.6 191.6M254.4 191.7L262.0 191.2M248.4 199.4L254.7 196.1M248.3 203.5L257.3 198.9M248.7 204.2L257.5 199.6M249.1 218.8L252.8 210.2M248.8 240.3L245.5 230.3M250.7 236.9L248.8 231.2M253.5 238.7L250.9 230.9M255.9 247.9L250.9 239.2M259.6 255.4L253.9 251.1M250.6 274.0L245.2 269.3M253.8 274.2L248.6 269.7M255.7 272.9L246.2 264.7M259.2 269.8L252.6 264.1M259.5 182.7L270.1 175.5M261.3 185.1L268.8 180.0M257.3 206.1L263.0 200.6M263.4 207.7L268.1 203.2M264.7 217.0L270.6 210.6M266.6 216.5L271.9 210.8M268.6 268.3L258.7 266.4M273.6 280.1L264.0 280.4M275.5 183.7L284.8 182.8M271.0 187.0L283.8 185.8M274.6 187.9L282.0 187.2M282.1 192.6L291.7 200.1M283.4 199.6L289.2 204.2M284.7 266.1L275.8 266.0M285.5 260.6L276.9 260.6M291.5 173.0L298.9 179.6M292.5 176.3L298.0 181.3M294.5 184.0L294.5 193.1M292.9 196.9L301.8 200.5M294.9 201.4L303.5 205.0M298.5 274.2L287.0 269.1M301.2 268.2L291.4 263.9M304.3 174.1L310.3 177.9M300.5 178.8L306.5 182.7M307.8 198.1L312.2 203.2M301.8 201.1L309.7 210.0M302.2 202.4L306.7 207.5M303.4 209.2L312.2 217.5M320.4 248.6L313.4 256.5M313.9 246.1L309.4 251.2M310.9 255.0L304.8 258.3M313.5 272.6L304.5 272.4M315.1 266.9L305.1 266.7M310.5 266.9L303.4 266.8M310.2 278.0L300.5 285.9M316.1 205.2L325.0 212.2M315.7 206.6L323.1 212.5M325.5 215.8L320.2 218.7M324.0 211.8L317.1 215.6M322.7 221.2L324.7 230.8M322.2 220.2L324.9 232.9M329.5 241.2L326.1 252.1M324.1 240.5L321.2 249.6M321.2 241.5L318.3 250.8M322.1 252.3L313.2 260.7M327.4 269.2L323.4 262.3M335.4 188.1L343.8 194.4M331.8 188.9L338.2 193.7M345.2 200.1L338.9 207.0M339.0 211.7L339.6 218.1M336.3 211.0L337.0 217.3M344.9 229.4L342.0 239.2M344.1 233.7L342.2 239.8M342.4 228.4L339.1 239.2M338.1 229.8L335.6 238.0M345.7 261.5L341.5 266.3M342.2 261.6L337.8 266.8M340.4 258.5L335.0 264.9M338.2 259.5L333.5 265.0M339.3 270.3L334.0 273.9M338.3 268.3L329.9 274.1M341.2 187.6L348.3 193.9M346.4 201.6L351.6 206.2M361.0 225.2L348.3 224.0M358.0 217.3L349.5 216.5M356.0 232.5L349.4 234.7M356.3 241.8L353.6 251.5M349.9 241.2L347.2 250.6M349.0 240.7L346.1 251.1M345.4 239.3L342.3 250.3M355.4 251.9L350.9 260.8M355.0 253.1L350.5 261.9M352.6 249.8L348.6 257.8M364.1 229.2L365.9 235.6M361.5 229.4L364.5 240.5M358.3 227.4L360.8 236.7M361.7 241.1L360.3 248.6" stroke="#8583ee" stroke-width="1.5" fill="none" stroke-linecap="round" opacity="0.9"/>
<path d="M212.5 219.5L213.6 211.4M211.4 237.4L208.7 225.3M215.3 235.4L213.4 226.8M216.0 250.4L212.7 240.0M229.9 199.2L232.7 191.3M224.5 222.0L222.7 213.1M217.1 242.7L227.5 237.5M221.4 247.7L228.3 244.3M225.2 250.2L232.2 246.7M240.0 199.1L249.8 205.3M236.7 203.0L245.1 208.3M235.1 208.7L241.7 212.9M228.3 221.1L234.8 212.2M234.7 234.2L233.2 222.4M234.2 233.3L233.4 227.1M244.1 242.1L236.9 236.3M239.1 263.0L237.5 255.1M254.2 196.7L261.9 196.2M245.7 214.8L248.4 208.5M248.7 217.1L252.0 209.1M257.6 244.9L252.7 236.5M255.1 262.7L249.5 258.5M257.1 260.3L249.6 254.6M258.7 258.6L252.4 253.8M262.5 190.2L269.9 186.4M261.4 191.6L272.0 186.3M257.6 202.0L263.0 196.7M258.8 208.6L264.3 203.3M265.8 213.1L270.6 208.5M261.6 214.8L267.4 208.5M275.4 257.6L263.6 257.0M268.3 270.4L260.9 269.0M271.0 266.0L260.7 264.1M277.2 200.2L286.7 207.5M280.3 202.5L288.3 208.8M284.7 263.0L273.9 263.0M286.1 276.2L276.1 272.8M285.4 274.6L275.1 271.1M289.5 177.9L296.6 184.3M302.2 182.8L302.2 190.9M297.7 182.9L297.8 190.7M289.6 185.4L289.7 193.5M291.7 259.9L289.7 252.9M299.3 274.4L289.8 270.2M302.4 266.3L291.9 261.7M305.6 195.8L311.3 202.4M305.6 197.2L312.0 204.5M322.2 249.2L315.0 257.2M313.5 256.4L305.4 260.8M312.5 269.0L304.6 268.9M330.7 190.1L323.0 197.8M329.0 187.6L322.0 194.6M318.4 198.2L326.1 204.3M316.0 204.5L322.4 209.6M327.1 218.2L318.3 223.1M326.9 260.8L320.4 266.9M324.5 258.8L316.2 266.7M324.9 271.2L320.3 263.3M344.2 196.4L336.5 204.9M340.9 198.0L335.3 204.1M338.3 229.5L335.6 238.3M339.2 244.6L332.9 251.6M334.5 243.9L326.4 252.8M337.9 256.0L332.3 262.5M344.3 200.6L350.2 205.8M356.0 227.7L346.1 226.7M358.5 221.9L347.2 220.8M358.4 216.8L349.5 216.0M357.0 231.1L348.4 233.9M349.0 250.7L345.6 257.4" stroke="#1c8838" stroke-width="1.5" fill="none" stroke-linecap="round" opacity="0.9"/>
<path d="M215.1 219.7L215.9 213.2M222.7 246.6L229.2 243.4M236.8 201.9L245.2 207.2M226.8 219.7L233.1 211.2M254.4 200.5L262.3 200.1M240.9 214.9L243.7 208.3M272.0 255.3L265.4 255.0M271.4 252.2L263.3 251.7M273.5 281.9L262.9 282.3M301.2 181.0L301.3 193.4M292.9 259.7L289.9 249.3M302.2 173.4L311.9 179.5M302.1 184.1L312.8 191.0M303.3 185.1L312.4 191.0M302.3 190.2L307.7 193.7M312.5 278.9L303.4 286.3M323.8 245.2L321.5 252.8M325.8 256.8L316.8 265.2M334.4 185.2L341.8 190.8M332.2 189.6L341.8 196.8M337.8 196.3L331.4 203.3M347.0 197.7L352.0 202.2M343.2 239.9L341.1 247.3" stroke="#1f80dc" stroke-width="1.5" fill="none" stroke-linecap="round" opacity="0.9"/>
<path d="M267.9 175.7q0.7 -1.8 1.5 -0.1t1.5 -0.1t1.5 -0.1t1.5 -0.1M206.8 228.4q-1.9 -0.6 -0.1 -1.5t-0.1 -1.5t-0.1 -1.5t-0.1 -1.5t-0.1 -1.5M257.5 281.3q-1.1 1.6 -1.5 -0.3t-1.5 -0.3t-1.5 -0.3t-1.5 -0.3t-1.5 -0.3M358.6 207.1q1.9 0.4 0.3 1.5t0.3 1.5t0.3 1.5t0.3 1.5M352.0 259.2q1.1 1.6 -0.8 1.3t-0.8 1.3t-0.8 1.3M255.4 177.9q1.8 0.7 1.0 -1.1t1.0 -1.1t1.0 -1.1t1.0 -1.1M248.8 180.6q1.9 0.3 0.8 -1.3t0.8 -1.3t0.8 -1.3t0.8 -1.3M316.5 284.7q0.1 1.9 -1.3 0.7t-1.3 0.7t-1.3 0.7t-1.3 0.7t-1.3 0.7M343.1 187.3q-1.1 1.6 0.8 1.3t0.8 1.3t0.8 1.3t0.8 1.3t0.8 1.3M364.4 248.1q1.9 0.5 0.2 1.5t0.2 1.5t0.2 1.5M213.9 206.7q-1.7 -0.9 0.1 -1.5t0.1 -1.5t0.1 -1.5t0.1 -1.5M245.6 274.2q-1.6 1.2 -1.3 -0.8t-1.3 -0.8t-1.3 -0.8M216.1 253.9q1.4 -1.4 -0.6 -1.4t-0.6 -1.4t-0.6 -1.4M207.8 229.7q1.6 -1.2 -0.4 -1.5t-0.4 -1.5t-0.4 -1.5t-0.4 -1.5M260.4 281.3q-1.0 1.7 -1.5 -0.2t-1.5 -0.2t-1.5 -0.2t-1.5 -0.2M225.7 260.1q1.7 -0.9 -0.1 -1.5t-0.1 -1.5t-0.1 -1.5t-0.1 -1.5M285.3 289.7q-0.6 -1.9 -1.5 -0.1t-1.5 -0.1t-1.5 -0.1t-1.5 -0.1t-1.5 -0.1M278.1 174.1q0.2 -1.9 1.4 -0.5t1.4 -0.5t1.4 -0.5M230.5 191.1q1.8 0.7 1.1 -1.1t1.1 -1.1t1.1 -1.1t1.1 -1.1M365.8 237.8q-1.6 1.1 0.3 1.5t0.3 1.5t0.3 1.5M210.0 240.4q-1.9 -0.3 -0.4 -1.5t-0.4 -1.5t-0.4 -1.5t-0.4 -1.5t-0.4 -1.5M332.7 180.1q-0.7 1.8 1.1 1.1t1.1 1.1t1.1 1.1t1.1 1.1t1.1 1.1M275.5 173.9q1.0 -1.7 1.5 0.2t1.5 0.2t1.5 0.2t1.5 0.2t1.5 0.2M251.7 278.9q-1.8 0.7 -1.1 -1.1t-1.1 -1.1t-1.1 -1.1t-1.1 -1.1M219.9 256.8q-1.9 -0.2 -0.4 -1.4t-0.4 -1.4t-0.4 -1.4t-0.4 -1.4t-0.4 -1.4M212.2 215.9q-1.5 -1.2 0.4 -1.4t0.4 -1.4t0.4 -1.4t0.4 -1.4t0.4 -1.4M343.6 187.1q1.9 0.1 0.5 1.4t0.5 1.4t0.5 1.4M352.6 259.1q1.2 1.6 -0.8 1.3t-0.8 1.3t-0.8 1.3t-0.8 1.3M328.9 179.3q0.1 1.9 1.4 0.5t1.4 0.5t1.4 0.5M260.3 280.9q0.9 -1.7 -0.9 -1.2t-0.9 -1.2t-0.9 -1.2M208.0 230.1q1.9 -0.4 0.2 -1.5t0.2 -1.5t0.2 -1.5M354.8 198.5q-1.0 1.6 0.9 1.2t0.9 1.2t0.9 1.2t0.9 1.2M269.3 175.7q0.9 1.7 1.5 -0.1t1.5 -0.1t1.5 -0.1t1.5 -0.1M315.7 285.0q0.3 1.9 -1.3 0.8t-1.3 0.8t-1.3 0.8t-1.3 0.8M366.6 217.7q-1.6 1.1 0.3 1.5t0.3 1.5t0.3 1.5t0.3 1.5M208.8 217.6q1.9 -0.5 0.2 -1.5t0.2 -1.5t0.2 -1.5t0.2 -1.5M306.0 287.4q-0.3 1.9 -1.5 0.3t-1.5 0.3t-1.5 0.3t-1.5 0.3M360.5 210.4q-1.7 0.9 0.2 1.5t0.2 1.5t0.2 1.5t0.2 1.5t0.2 1.5M290.1 287.2q-0.4 -1.9 -1.5 -0.3t-1.5 -0.3t-1.5 -0.3t-1.5 -0.3t-1.5 -0.3M366.7 222.4q1.6 1.0 -0.3 1.5t-0.3 1.5t-0.3 1.5M279.9 286.9q-0.9 1.8 -1.5 -0.1t-1.5 -0.1t-1.5 -0.1M289.4 289.4q-1.0 1.7 -1.5 -0.2t-1.5 -0.2t-1.5 -0.2t-1.5 -0.2M232.3 191.4q-1.1 -1.6 0.8 -1.2t0.8 -1.2t0.8 -1.2M284.1 172.1q0.3 1.9 1.5 0.3t1.5 0.3t1.5 0.3t1.5 0.3M360.5 205.7q1.9 0.1 0.5 1.4t0.5 1.4t0.5 1.4M304.1 171.9q0.3 1.9 1.5 0.3t1.5 0.3t1.5 0.3M303.4 172.6q0.7 1.8 1.5 0.0t1.5 0.0t1.5 0.0t1.5 0.0M208.8 215.7q-1.6 -1.1 0.3 -1.5t0.3 -1.5t0.3 -1.5t0.3 -1.5t0.3 -1.5M296.3 288.1q-0.4 1.9 -1.5 0.3t-1.5 0.3t-1.5 0.3M281.7 287.6q-0.7 1.8 -1.5 0.0t-1.5 0.0t-1.5 0.0t-1.5 0.0M368.6 233.5q-1.7 1.0 0.2 1.5t0.2 1.5t0.2 1.5M356.1 255.1q1.4 1.3 -0.5 1.4t-0.5 1.4t-0.5 1.4t-0.5 1.4M340.6 271.0q-1.9 0.1 -0.5 1.4t-0.5 1.4t-0.5 1.4t-0.5 1.4M361.7 251.3q1.3 1.4 -0.6 1.4t-0.6 1.4t-0.6 1.4t-0.6 1.4M354.5 201.0q-1.8 0.8 0.1 1.5t0.1 1.5t0.1 1.5t0.1 1.5t0.1 1.5M296.7 286.9q-1.4 -1.4 -1.4 0.6t-1.4 0.6t-1.4 0.6t-1.4 0.6t-1.4 0.6M339.9 183.8q1.9 -0.4 0.8 1.2t0.8 1.2t0.8 1.2t0.8 1.2M285.2 173.2q0.8 -1.8 1.5 0.1t1.5 0.1t1.5 0.1t1.5 0.1t1.5 0.1M310.8 172.2q0.2 1.9 1.4 0.4t1.4 0.4t1.4 0.4t1.4 0.4t1.4 0.4M278.7 287.7q-1.0 -1.7 -1.5 0.2t-1.5 0.2t-1.5 0.2M283.9 289.4q-0.2 1.9 -1.4 0.4t-1.4 0.4t-1.4 0.4t-1.4 0.4t-1.4 0.4M350.8 262.1q-1.9 0.2 -0.4 1.4t-0.4 1.4t-0.4 1.4t-0.4 1.4t-0.4 1.4M325.2 279.9q-1.3 -1.5 -1.4 0.5t-1.4 0.5t-1.4 0.5M208.4 230.2q1.9 -0.5 0.2 -1.5t0.2 -1.5t0.2 -1.5t0.2 -1.5t0.2 -1.5M242.1 274.4q-1.9 0.3 -0.8 -1.3t-0.8 -1.3t-0.8 -1.3M271.5 287.4q-0.9 -1.7 -1.5 0.1t-1.5 0.1t-1.5 0.1M287.4 289.0q-1.3 1.4 -1.4 -0.5t-1.4 -0.5t-1.4 -0.5t-1.4 -0.5t-1.4 -0.5M358.3 205.9q-1.7 1.0 0.2 1.5t0.2 1.5t0.2 1.5M353.6 258.7q-1.8 -0.7 -1.0 1.1t-1.0 1.1t-1.0 1.1t-1.0 1.1M225.2 195.3q-1.4 -1.4 0.6 -1.4t0.6 -1.4t0.6 -1.4M308.2 288.1q-1.7 -0.9 -1.2 1.0t-1.2 1.0t-1.2 1.0M364.9 219.9q-1.3 1.5 0.7 1.3t0.7 1.3t0.7 1.3M367.4 233.0q1.8 0.7 0.0 1.5t0.0 1.5t0.0 1.5M291.7 173.3q1.2 -1.5 1.4 0.4t1.4 0.4t1.4 0.4M226.5 260.7q-1.8 0.7 -1.0 -1.1t-1.0 -1.1t-1.0 -1.1t-1.0 -1.1M307.2 288.0q-1.6 -1.1 -1.3 0.8t-1.3 0.8t-1.3 0.8t-1.3 0.8t-1.3 0.8M233.0 188.6q-1.0 -1.7 0.9 -1.2t0.9 -1.2t0.9 -1.2M329.4 276.7q-1.9 -0.6 -0.9 1.2t-0.9 1.2t-0.9 1.2t-0.9 1.2M221.2 256.8q1.6 -1.1 -0.3 -1.5t-0.3 -1.5t-0.3 -1.5t-0.3 -1.5t-0.3 -1.5M244.1 182.5q1.9 0.3 0.8 -1.3t0.8 -1.3t0.8 -1.3t0.8 -1.3M330.6 276.0q0.7 1.8 -1.1 1.0t-1.1 1.0t-1.1 1.0t-1.1 1.0t-1.1 1.0M359.9 253.2q1.0 1.7 -0.9 1.2t-0.9 1.2t-0.9 1.2" stroke="#1e84d8" stroke-width="0.9" fill="none" stroke-linecap="round"/>
<path d="M289.8 171.4q0.3 -1.9 1.5 -0.4t1.5 -0.4t1.5 -0.4M242.7 273.8q-1.9 0.5 -0.9 -1.2t-0.9 -1.2t-0.9 -1.2M350.5 196.2q-0.8 1.8 1.0 1.1t1.0 1.1t1.0 1.1t1.0 1.1M276.7 288.6q0.0 -1.9 -1.4 -0.6t-1.4 -0.6t-1.4 -0.6t-1.4 -0.6t-1.4 -0.6M309.5 285.1q-0.5 1.9 -1.5 0.2t-1.5 0.2t-1.5 0.2M257.8 176.8q0.4 -1.9 1.5 -0.3t1.5 -0.3t1.5 -0.3t1.5 -0.3t1.5 -0.3M224.7 260.0q-1.8 0.8 -1.1 -1.0t-1.1 -1.0t-1.1 -1.0t-1.1 -1.0M216.1 254.0q-1.7 -0.9 0.1 -1.5t0.1 -1.5t0.1 -1.5t0.1 -1.5M207.1 225.2q-1.4 -1.4 0.6 -1.4t0.6 -1.4t0.6 -1.4t0.6 -1.4t0.6 -1.4M344.9 188.5q1.7 -0.9 1.2 1.0t1.2 1.0t1.2 1.0t1.2 1.0M274.0 173.7q0.8 1.8 1.5 -0.0t1.5 -0.0t1.5 -0.0M296.0 173.6q0.3 1.9 1.5 0.4t1.5 0.4t1.5 0.4t1.5 0.4t1.5 0.4M311.9 287.0q0.7 1.8 -1.1 1.0t-1.1 1.0t-1.1 1.0M362.4 214.0q1.9 -0.0 0.6 1.4t0.6 1.4t0.6 1.4t0.6 1.4M318.5 173.4q1.6 -1.1 1.3 0.8t1.3 0.8t1.3 0.8t1.3 0.8M238.2 270.3q0.5 -1.9 -1.2 -0.9t-1.2 -0.9t-1.2 -0.9M302.4 174.4q-0.5 1.9 1.2 0.9t1.2 0.9t1.2 0.9M239.6 269.8q-1.8 0.7 -1.0 -1.1t-1.0 -1.1t-1.0 -1.1t-1.0 -1.1M361.1 249.1q1.7 0.9 -0.2 1.5t-0.2 1.5t-0.2 1.5M211.3 216.6q-1.6 -1.1 0.3 -1.5t0.3 -1.5t0.3 -1.5t0.3 -1.5t0.3 -1.5M207.3 229.6q1.6 -1.2 -0.4 -1.5t-0.4 -1.5t-0.4 -1.5M363.3 212.1q-1.2 1.5 0.7 1.3t0.7 1.3t0.7 1.3t0.7 1.3M212.4 214.2q-1.8 -0.8 0.0 -1.5t0.0 -1.5t0.0 -1.5M313.1 286.7q-0.9 -1.7 -1.5 0.1t-1.5 0.1t-1.5 0.1M337.0 271.4q0.3 1.9 -1.3 0.8t-1.3 0.8t-1.3 0.8t-1.3 0.8M242.6 274.9q-1.8 0.8 -1.1 -1.0t-1.1 -1.0t-1.1 -1.0M221.5 258.8q1.6 -1.1 -0.3 -1.5t-0.3 -1.5t-0.3 -1.5M245.5 182.3q1.9 0.3 0.8 -1.3t0.8 -1.3t0.8 -1.3t0.8 -1.3M320.7 174.0q1.3 -1.5 1.4 0.5t1.4 0.5t1.4 0.5M287.6 287.8q-0.9 -1.7 -1.5 0.1t-1.5 0.1t-1.5 0.1t-1.5 0.1M290.8 172.7q0.2 1.9 1.4 0.4t1.4 0.4t1.4 0.4t1.4 0.4t1.4 0.4M221.5 198.1q1.9 -0.5 0.2 -1.5t0.2 -1.5t0.2 -1.5t0.2 -1.5M345.2 265.8q1.6 1.1 -0.3 1.5t-0.3 1.5t-0.3 1.5t-0.3 1.5M333.2 180.0q-0.4 1.9 1.2 0.8t1.2 0.8t1.2 0.8t1.2 0.8t1.2 0.8M362.0 209.0q1.8 0.7 0.1 1.5t0.1 1.5t0.1 1.5M353.4 199.9q-0.9 1.7 0.9 1.2t0.9 1.2t0.9 1.2M238.2 187.8q-0.8 -1.8 1.0 -1.1t1.0 -1.1t1.0 -1.1t1.0 -1.1t1.0 -1.1M313.6 286.5q-1.7 -1.0 -1.2 0.9t-1.2 0.9t-1.2 0.9M222.3 256.7q1.8 -0.9 -0.1 -1.5t-0.1 -1.5t-0.1 -1.5t-0.1 -1.5M205.8 227.3q1.7 -0.9 -0.1 -1.5t-0.1 -1.5t-0.1 -1.5t-0.1 -1.5M346.6 190.3q1.9 -0.5 0.9 1.2t0.9 1.2t0.9 1.2t0.9 1.2M241.7 273.2q-1.9 -0.0 -0.6 -1.4t-0.6 -1.4t-0.6 -1.4t-0.6 -1.4M258.0 177.0q-0.7 -1.8 1.1 -1.1t1.1 -1.1t1.1 -1.1t1.1 -1.1M367.5 243.4q1.5 1.2 -0.4 1.4t-0.4 1.4t-0.4 1.4t-0.4 1.4t-0.4 1.4M366.0 246.1q-1.9 -0.3 -0.8 1.3t-0.8 1.3t-0.8 1.3M217.6 205.8q-0.8 -1.8 1.0 -1.1t1.0 -1.1t1.0 -1.1M323.1 279.9q-1.8 -0.9 -1.1 1.0t-1.1 1.0t-1.1 1.0t-1.1 1.0M208.2 230.6q-1.9 -0.0 -0.6 -1.4t-0.6 -1.4t-0.6 -1.4t-0.6 -1.4t-0.6 -1.4M356.4 202.6q-1.1 1.6 0.8 1.2t0.8 1.2t0.8 1.2t0.8 1.2M227.6 194.2q-1.5 -1.2 0.4 -1.4t0.4 -1.4t0.4 -1.4t0.4 -1.4M229.5 263.9q-1.9 0.6 -0.9 -1.2t-0.9 -1.2t-0.9 -1.2t-0.9 -1.2M233.1 188.3q1.9 0.5 0.9 -1.2t0.9 -1.2t0.9 -1.2M312.8 174.1q-0.3 1.9 1.3 0.8t1.3 0.8t1.3 0.8M230.8 189.9q-0.6 -1.9 1.1 -1.0t1.1 -1.0t1.1 -1.0t1.1 -1.0M214.1 248.3q1.7 -0.9 -0.1 -1.5t-0.1 -1.5t-0.1 -1.5t-0.1 -1.5" stroke="#2a96dc" stroke-width="0.9" fill="none" stroke-linecap="round"/>
<path d="M235.2 268.4q-1.7 1.0 -1.2 -0.9t-1.2 -0.9t-1.2 -0.9M350.6 196.3q-1.4 1.4 0.6 1.4t0.6 1.4t0.6 1.4t0.6 1.4M268.5 174.5q0.8 1.8 1.5 -0.1t1.5 -0.1t1.5 -0.1M291.9 173.3q1.0 -1.7 1.5 0.2t1.5 0.2t1.5 0.2t1.5 0.2M208.7 223.5q-1.9 -0.5 -0.2 -1.5t-0.2 -1.5t-0.2 -1.5t-0.2 -1.5t-0.2 -1.5M306.2 172.4q1.3 -1.5 1.4 0.5t1.4 0.5t1.4 0.5t1.4 0.5M366.0 246.9q-1.9 0.3 -0.4 1.5t-0.4 1.5t-0.4 1.5t-0.4 1.5M357.6 253.0q-1.8 0.8 0.0 1.5t0.0 1.5t0.0 1.5M319.8 284.0q-1.4 -1.4 -1.4 0.6t-1.4 0.6t-1.4 0.6M313.1 284.6q-0.9 -1.7 -1.5 0.1t-1.5 0.1t-1.5 0.1t-1.5 0.1M219.6 256.5q1.4 -1.3 -0.5 -1.4t-0.5 -1.4t-0.5 -1.4t-0.5 -1.4t-0.5 -1.4M324.6 278.9q-1.3 -1.5 -1.4 0.5t-1.4 0.5t-1.4 0.5t-1.4 0.5M343.3 188.8q-0.9 1.7 0.9 1.2t0.9 1.2t0.9 1.2t0.9 1.2M351.1 260.5q1.3 1.4 -0.6 1.4t-0.6 1.4t-0.6 1.4t-0.6 1.4t-0.6 1.4M258.5 282.8q0.7 -1.8 -1.1 -1.1t-1.1 -1.1t-1.1 -1.1t-1.1 -1.1t-1.1 -1.1M288.4 288.2q-0.4 -1.9 -1.5 -0.2t-1.5 -0.2t-1.5 -0.2t-1.5 -0.2t-1.5 -0.2" stroke="#1f8a3a" stroke-width="0.9" fill="none" stroke-linecap="round"/>
<path d="M336.0 181.3q-0.7 1.8 1.1 1.1t1.1 1.1t1.1 1.1M364.7 241.4q1.7 0.9 -0.1 1.5t-0.1 1.5t-0.1 1.5t-0.1 1.5t-0.1 1.5M331.6 179.6q-0.3 1.9 1.3 0.8t1.3 0.8t1.3 0.8t1.3 0.8t1.3 0.8M309.6 172.2q1.5 -1.3 1.3 0.7t1.3 0.7t1.3 0.7M328.1 279.0q-0.0 1.9 -1.4 0.6t-1.4 0.6t-1.4 0.6t-1.4 0.6t-1.4 0.6M357.5 206.6q-1.6 1.1 0.3 1.5t0.3 1.5t0.3 1.5t0.3 1.5t0.3 1.5M248.8 182.0q1.3 1.4 1.4 -0.5t1.4 -0.5t1.4 -0.5M261.6 177.2q-0.1 -1.9 1.3 -0.7t1.3 -0.7t1.3 -0.7t1.3 -0.7t1.3 -0.7M355.7 257.8q1.1 1.6 -0.9 1.2t-0.9 1.2t-0.9 1.2t-0.9 1.2M205.7 232.5q-1.9 -0.4 -0.3 -1.5t-0.3 -1.5t-0.3 -1.5t-0.3 -1.5M288.2 287.7q-1.1 -1.6 -1.5 0.3t-1.5 0.3t-1.5 0.3t-1.5 0.3t-1.5 0.3M212.7 211.5q1.9 0.4 0.8 -1.2t0.8 -1.2t0.8 -1.2t0.8 -1.2t0.8 -1.2M290.2 173.3q1.4 -1.4 1.4 0.6t1.4 0.6t1.4 0.6t1.4 0.6t1.4 0.6M305.4 287.7q-0.3 1.9 -1.5 0.3t-1.5 0.3t-1.5 0.3t-1.5 0.3t-1.5 0.3M253.7 181.4q1.8 0.8 1.1 -1.0t1.1 -1.0t1.1 -1.0t1.1 -1.0M297.0 289.2q-1.3 -1.4 -1.4 0.5t-1.4 0.5t-1.4 0.5M301.2 288.3q-0.7 -1.8 -1.5 -0.0t-1.5 -0.0t-1.5 -0.0" stroke="#8a86ee" stroke-width="0.9" fill="none" stroke-linecap="round"/>
<ellipse cx="289.3" cy="232.7" rx="37.2" ry="18.4" fill="#fff" stroke="#12a04c" stroke-width="1.7"/>
<text x="285.6" y="236.7" font-size="12.7" fill="#111">Cell</text>
<path d="M258.3 230.2 q0.5 -3 2.6 -2.6 t2.6 -2.6 t2.6 -2.6 t2.6 -2.6 t3.2 -3" stroke="#f6a02c" stroke-width="2.6" fill="none" stroke-linecap="round"/>
<path d="M259.5 228.5l1.6 -1.2M262.3 225.8l1.6 -1.2M265 223.2l1.6 -1.2M267.7 220.6l1.6 -1.2" stroke="#fff" stroke-width="0.8" fill="none"/>
<path d="M263.5 236c0.5-2.6 3.2-3 4.6-1.4c1.6-1.8 4.8-0.6 4.4 1.6c2.2 0.6 2 3.6-0.2 4.2c0.4 2.2-2.6 3.4-4 1.6c-1.6 1.6-4.8 0.4-4.2-1.8c-2.2-0.6-2.4-3.4-0.6-4.200z" fill="#b47c7a" stroke="#9a6462" stroke-width="0.7"/>
<path d="M265.5 237.5l1 0.6M268.5 236.4l0.8 1M270.5 239l1 0.2M267 240.6l1 0.6M269.4 241.6l0.6-0.8M265.2 239.8l0.6 0.8" stroke="#7e4c4c" stroke-width="0.8" fill="none" stroke-linecap="round"/>
<rect x="468.9" y="1.8" width="554.4" height="223.9" fill="none" stroke="#c20a1e" stroke-width="2.3" stroke-dasharray="7.3 5.5"/>
<path d="M468.7 286 V260.9 H1023.2 V419.1 H468.7 V327" fill="none" stroke="#c20a1e" stroke-width="2" stroke-dasharray="7.3 5.5"/>
<path d="M330 242 L469 286 M330 242 L469 327" fill="none" stroke="#c20a1e" stroke-width="2.2" stroke-dasharray="7.3 5.5"/>
<path d="M747 227.2 L754.8 235.2 H751 V250.8 H754.8 L747 258.6 L739.2 250.8 H743 V235.2 H739.2Z" fill="#870b10"/>
<text x="757" y="248.5" font-size="12.55" fill="#111">Expression of certain functional genes</text>
<text x="482.8" y="20.2" font-size="16.7" fill="#111">Sized</text><text x="526.4" y="20.2" font-size="16.7" fill="#111">fractions</text><text x="593.2" y="20.2" font-size="16.7" fill="#111">in</text><text x="610.8" y="20.2" font-size="16.7" fill="#111">SMPs</text><text x="654.2" y="20.2" font-size="16.7" fill="#111">:</text>
<text x="765.3" y="20.1" font-size="16.7" fill="#111">Proteomics</text><text x="850" y="20.1" font-size="16.7" fill="#111">analysis</text><text x="911" y="20.1" font-size="16.7" fill="#111">of</text><text x="929.8" y="20.1" font-size="16.7" fill="#111">SMPs</text><text x="974" y="20.1" font-size="16.7" fill="#111">:</text>
<text x="484.5" y="279.6" font-size="16.5" fill="#111">Leading</text><text x="547.3" y="279.6" font-size="16.5" fill="#111">to</text><text x="570" y="279.6" font-size="16.5" fill="#111">obvious</text><text x="630.3" y="279.6" font-size="16.5" fill="#111">oxidative,</text><text x="704.6" y="279.6" font-size="16.5" fill="#111">membrane,</text><text x="788.9" y="279.6" font-size="16.5" fill="#111">and</text><text x="818.9" y="279.6" font-size="16.5" fill="#111">protein</text><text x="873.6" y="279.6" font-size="16.5" fill="#111">damage:</text>
<rect x="513.8" y="28.7" width="226.5" height="165.9" fill="#fff" stroke="#444" stroke-width="0.9"/>
<clipPath id="pc"><rect x="513.8" y="28.7" width="226.5" height="167.4"/></clipPath><g clip-path="url(#pc)" fill="none" stroke-linejoin="round">
<path d="M513.6 194.6L514.8 194.4L516.0 194.9L517.2 194.2L518.4 194.3L519.7 194.6L520.9 194.8L522.1 194.7L523.3 194.3L524.5 194.8L525.8 194.4L527.0 194.5L528.2 194.5L529.4 194.5L530.7 194.7L531.9 194.7L533.1 194.3L534.3 194.7L535.5 194.2L536.8 194.5L538.0 194.1L539.2 194.4L540.4 194.2L541.6 194.7L542.9 194.4L544.1 194.2L545.3 194.6L546.5 194.0L547.8 194.4L549.0 194.4L550.2 193.9L551.4 194.2L552.6 194.0L553.9 194.6L555.1 193.9L556.3 194.3L557.5 194.2L558.7 193.9L560.0 194.5L561.2 194.2L562.4 194.2L563.6 194.0L564.9 193.9L566.1 194.0L567.3 193.8L568.5 193.9L569.7 194.1L571.0 194.0L572.2 194.2L573.4 193.8L574.6 193.8L575.9 194.0L577.1 194.1L578.3 193.9L579.5 193.8L580.7 193.4L582.0 193.3L583.2 193.1L584.4 193.1L585.6 192.4L586.8 192.2L588.0 192.2L589.5 191.5L590.9 191.1L592.3 191.5L593.7 191.2L595.2 190.5L596.4 190.6L597.6 190.8L598.9 190.8L600.1 191.4L601.4 191.6L602.6 191.6L603.9 191.5L605.1 192.0L606.4 191.9L607.6 191.3L608.9 191.6L610.2 191.1L611.4 191.6L612.7 191.4L614.0 191.0L615.2 191.1L616.5 190.7L617.7 190.8L619.0 191.4L620.3 191.3L621.5 191.8L622.8 192.4L624.1 192.4L625.3 192.5L626.6 192.7L627.9 193.2L629.1 193.2L630.4 193.6L631.6 193.1L632.9 193.4L634.2 193.4L635.4 193.4L636.7 193.4L638.0 193.6L639.2 193.7L640.5 193.6L641.8 193.7L643.0 193.9L644.3 194.3L645.5 194.0L646.8 194.0L648.1 193.8L649.3 194.2L650.6 194.2L651.9 194.0L653.2 194.2L654.5 194.3L655.8 194.1L657.1 194.3L658.4 194.2L659.6 193.8L660.9 193.8L662.2 194.1L663.5 194.1L664.8 194.0L666.0 193.6L667.3 193.5L668.5 193.5L669.7 193.1L670.9 193.0L672.1 192.6L673.3 192.7L674.8 192.9L676.2 192.9L677.6 193.8L679.0 194.2L680.3 194.3L681.5 194.3L682.7 194.2L683.9 194.0L685.1 193.9L686.4 194.2L687.6 194.0L688.8 194.0L690.0 193.8L691.3 194.2L692.5 194.3L693.7 194.3L694.9 193.9L696.2 193.9L697.4 194.3L698.6 193.9L699.8 194.5L701.0 194.5L702.3 194.3L703.5 194.1L704.7 194.3L705.9 194.4L707.2 194.1L708.4 194.4L709.6 194.4L710.8 194.6L712.0 194.5L713.3 194.4L714.5 194.4L715.7 194.6L716.9 194.4L718.2 194.5L719.4 194.2L720.6 194.1L721.8 194.4L723.0 194.2L724.3 194.7L725.5 194.2L726.7 194.7L727.9 194.3L729.2 194.2L730.4 194.5L731.6 194.4L732.8 194.8L734.1 194.6L735.3 194.2L736.5 194.4L737.7 194.3L738.9 194.5L740.2 194.6" stroke="#111" stroke-width="1.6"/>
<path d="M513.6 194.6L514.8 194.4L516.0 194.7L517.2 194.5L518.4 194.7L519.6 194.6L520.8 194.4L522.0 194.7L523.3 194.2L524.5 194.4L525.7 194.2L526.9 194.8L528.1 194.5L529.3 194.7L530.5 194.8L531.8 194.2L533.0 194.7L534.2 194.2L535.4 194.6L536.6 194.6L537.8 194.4L539.0 194.7L540.3 194.6L541.5 194.4L542.7 194.3L543.9 194.2L545.1 194.2L546.3 194.4L547.5 194.4L548.8 194.2L550.0 194.4L551.2 194.1L552.4 194.3L553.6 194.5L554.8 194.2L556.0 194.4L557.3 194.1L558.5 194.6L559.7 194.2L560.9 194.6L562.1 194.6L563.3 194.6L564.5 194.2L565.7 194.4L567.0 194.1L568.2 194.6L569.4 194.4L570.6 194.0L571.8 194.1L573.0 194.1L574.2 194.2L575.5 194.5L576.7 194.5L577.9 193.6L579.1 193.3L580.3 192.3L581.5 192.0L582.8 191.4L584.0 190.6L585.2 190.6L586.6 189.7L588.0 189.2L589.5 188.3L590.9 187.6L592.3 186.7L593.7 186.8L595.2 186.9L596.6 186.6L598.0 187.0L599.4 187.3L600.8 187.6L602.3 187.7L603.5 187.6L604.7 187.3L605.9 186.9L607.1 186.6L608.4 186.8L609.6 186.6L610.8 186.2L612.2 184.9L613.6 183.2L615.1 182.3L616.5 180.7L617.9 179.7L619.3 179.9L620.7 180.5L622.2 181.2L623.7 178.5L625.3 175.9L627.6 147.8L628.8 116.5L629.7 100.3L630.4 87.6L631.1 99.9L631.7 116.4L633.4 147.7L634.7 161.9L636.1 176.3L637.6 179.9L639.1 183.9L640.6 187.4L642.1 188.3L643.5 188.9L644.9 189.9L646.3 190.9L647.8 191.4L649.0 191.5L650.2 191.1L651.4 191.0L652.6 191.1L653.8 191.0L655.1 190.3L656.3 190.4L657.7 190.9L659.1 191.2L660.6 191.9L662.0 192.6L663.2 192.3L664.5 192.1L665.8 191.6L667.0 191.6L668.3 191.4L669.6 190.9L670.8 190.8L672.1 190.8L673.3 190.5L674.8 191.1L676.2 191.7L677.6 192.6L679.0 193.1L680.3 193.3L681.5 193.1L682.7 193.2L683.9 193.4L685.1 193.3L686.4 193.3L687.6 193.2L688.8 193.2L690.0 193.4L691.3 193.3L692.5 193.4L693.7 193.3L694.9 193.3L696.2 193.5L697.4 193.7L698.6 193.3L699.8 193.6L701.0 193.6L702.3 193.7L703.5 193.7L704.7 193.6L705.9 193.4L707.2 193.6L708.4 193.7L709.6 193.8L710.8 194.0L712.0 193.9L713.3 193.9L714.5 193.7L715.7 194.0L716.9 193.6L718.2 194.1L719.4 193.9L720.6 193.9L721.8 194.1L723.0 194.0L724.3 194.3L725.5 193.8L726.7 193.8L727.9 194.1L729.2 193.9L730.4 193.9L731.6 194.4L732.8 194.2L734.1 194.0L735.3 194.1L736.5 194.0L737.7 194.1L738.9 194.0L740.2 194.3" stroke="#138a1e" stroke-width="2.1"/>
<path d="M513.6 194.9L514.5 194.6L515.4 194.0L516.3 193.6L517.3 194.7L518.2 194.5L519.1 193.4L520.1 194.4L521.0 193.9L521.9 194.4L522.9 193.6L523.8 193.6L524.7 192.9L525.7 193.6L526.6 193.1L527.5 194.0L528.5 193.0L529.4 193.8L530.3 193.0L531.3 193.6L532.2 193.4L533.1 193.7L534.1 193.1L535.0 192.8L535.9 192.6L536.9 192.5L537.9 191.9L538.9 191.8L539.9 191.4L540.9 191.7L541.9 190.1L543.0 190.4L544.0 190.0L544.9 189.5L545.8 190.2L546.7 189.5L547.6 190.3L548.5 189.4L549.4 190.4L550.3 189.6L551.2 189.2L552.1 189.3L553.0 189.3L553.9 189.2L554.9 189.4L555.8 190.3L556.8 189.4L557.7 189.4L558.7 189.8L559.6 188.9L560.6 188.8L561.5 189.9L562.5 189.1L563.4 188.8L564.4 188.8L565.3 189.5L566.2 189.7L567.2 188.7L568.1 189.0L569.1 188.5L570.0 188.0L571.0 188.1L571.9 187.9L572.9 187.7L573.8 188.3L574.8 187.2L575.7 187.4L576.7 187.8L577.7 186.2L578.7 186.9L579.7 185.8L580.7 185.2L581.8 184.0L582.8 183.4L583.8 183.7L584.7 182.2L585.7 179.2L586.6 178.7L587.6 176.1L588.5 174.3L589.5 173.4L590.6 168.0L591.7 164.3L592.7 164.8L593.7 164.5L594.6 164.7L595.6 165.7L596.6 166.5L597.5 166.0L598.5 167.5L599.4 167.2L600.4 168.1L601.3 168.3L602.3 168.8L603.2 169.9L604.2 170.1L605.1 171.5L606.1 171.1L607.0 170.3L607.9 169.6L608.9 169.3L609.8 168.4L610.8 168.1L611.9 165.9L612.9 163.5L614.0 161.2L615.1 159.5L616.2 149.3L617.3 138.5L618.5 128.2L619.6 122.5L620.7 117.2L621.9 112.4L623.0 107.8L624.2 101.8L625.4 95.3L626.7 73.0" stroke="#e8151a" stroke-width="2.1"/>
<path d="M633.7 73.6L634.6 95.4L636.1 110.4L637.0 132.8L637.9 142.9L638.8 152.2L639.8 162.4L640.9 168.1L642.1 173.3L643.2 173.3L644.3 173.0L645.5 175.3L646.6 177.7L647.8 181.0L648.7 181.7L649.7 182.3L650.6 183.9L651.5 183.6L652.5 185.5L653.4 186.1L654.4 186.2L655.3 186.3L656.3 187.4L657.2 188.2L658.2 187.6L659.1 189.1L660.1 189.6L661.0 188.9L662.0 189.8L662.9 189.6L663.9 189.4L664.8 189.0L665.8 189.1L666.7 190.0L667.7 189.8L668.6 189.9L669.6 189.2L670.5 189.1L671.5 188.4L672.4 188.8L673.3 189.0L674.3 189.5L675.2 188.0L676.2 188.7L677.1 187.8L678.1 188.9L679.0 187.8L680.0 188.3L680.9 188.1L681.9 187.4L682.8 187.6L683.8 187.5L684.7 187.0L685.7 187.6L686.6 187.5L687.6 188.7L688.5 189.4L689.5 189.1L690.4 189.2L691.4 189.7L692.3 189.5L693.2 190.6L694.2 190.5L695.1 189.6L696.1 190.0L697.0 189.5L698.0 190.3L698.9 189.3L699.9 190.4L700.8 189.2L701.8 190.3L702.7 189.3L703.7 189.7L704.6 189.9L705.6 190.2L706.5 190.0L707.5 189.0L708.4 189.9L709.4 189.7L710.3 189.6L711.3 190.2L712.2 191.0L713.2 189.9L714.1 191.1L715.0 191.0L716.0 191.7L716.9 191.3L717.9 191.2L718.8 192.2L719.8 191.3L720.7 192.2L721.6 191.7L722.5 191.5L723.5 191.8L724.4 192.8L725.3 191.9L726.3 193.1L727.2 192.1L728.1 193.3L729.0 192.2L730.0 193.1L730.9 193.1L731.8 193.2L732.7 193.8L733.7 192.9L734.6 194.1L735.5 193.6L736.5 194.0L737.4 193.4L738.3 194.5L739.2 194.2L740.2 194.0" stroke="#e8151a" stroke-width="2.1"/>
<path d="M630.5 46.6L631.8 52L633.1 69.4H627.8L629.2 52Z" fill="#e8151a"/>
</g>
<path d="M534.2 194.6v3.6M534.2 28.7v3.6M575.2 194.6v2M575.2 28.7v2M616.3 194.6v3.6M616.3 28.7v3.6M657.4 194.6v2M657.4 28.7v2M698.4 194.6v3.6M698.4 28.7v3.6M739.5 194.6v2M739.5 28.7v2M513.8 28.7h-4.5M740.3 28.7h-4.5M513.8 113h-4.5M740.3 113h-4.5M513.8 194.6h-4.5M740.3 194.6h-4.5M513.8 153.8h-2.2M740.3 153.8h-2.2M513.8 35.4h-2.2M740.3 35.4h-2.2M513.8 42.3h-2.2M740.3 42.3h-2.2M513.8 49.2h-2.2M740.3 49.2h-2.2M513.8 56.1h-2.2M740.3 56.1h-2.2M513.8 63h-2.2M740.3 63h-2.2" stroke="#444" stroke-width="0.8" fill="none"/>
<rect x="510.79999999999995" y="69.8" width="6" height="2.4" fill="#fff"/><path d="M510.4 72.4l6.8 -2.6M510.4 74.2l6.8 -2.6" stroke="#444" stroke-width="0.7"/>
<rect x="737.3" y="69.8" width="6" height="2.4" fill="#fff"/><path d="M736.9 72.4l6.8 -2.6M736.9 74.2l6.8 -2.6" stroke="#444" stroke-width="0.7"/>
<text x="530.7" y="205.9" class="b" font-size="6.8" textLength="7.4" lengthAdjust="spacingAndGlyphs" fill="#1a1a1a">40</text>
<text x="612.7" y="205.9" class="b" font-size="6.8" textLength="7.4" lengthAdjust="spacingAndGlyphs" fill="#1a1a1a">80</text>
<text x="693.1" y="205.9" class="b" font-size="6.8" textLength="11" lengthAdjust="spacingAndGlyphs" fill="#1a1a1a">120</text>
<text x="499.8" y="30.6" class="b" font-size="6.8" textLength="7.4" lengthAdjust="spacingAndGlyphs" fill="#1a1a1a">40</text>
<text x="499.8" y="115.3" class="b" font-size="6.8" textLength="7.4" lengthAdjust="spacingAndGlyphs" fill="#1a1a1a">10</text>
<text x="503.6" y="196.9" class="b" font-size="6.8" textLength="3.6" lengthAdjust="spacingAndGlyphs" fill="#1a1a1a">0</text>
<text transform="translate(491.4,111.3) rotate(-90)" text-anchor="middle" class="b" font-size="10.7" fill="#111">OC-Signal</text>
<text x="579.6" y="218.5" class="b" font-size="9.9" textLength="95" lengthAdjust="spacingAndGlyphs" fill="#111">Elution time (min)</text>
<path d="M520 40.2H544" stroke="#138a1e" stroke-width="1.9"/>
<text x="546" y="43.5" font-size="9.7" letter-spacing="0.3" fill="#111">Cd<tspan dy="-3.9" font-size="6.6">2+</tspan></text>
<path d="M520 53H544" stroke="#e8151a" stroke-width="1.9"/>
<text x="546" y="56.3" font-size="9.7" letter-spacing="0.3" fill="#111">Cu<tspan dy="-3.9" font-size="6.6">2+</tspan></text>
<path d="M520 64.2H544" stroke="#111" stroke-width="1.9"/>
<text x="546.0" y="67.5" class="" font-size="9.7" textLength="58.6" lengthAdjust="spacingAndGlyphs" fill="#111">Reference test</text>
<rect x="763" y="26.6" width="245.8" height="191.8" fill="#fff" stroke="#555" stroke-width="1"/>
<rect x="769.2" y="43" width="234.4" height="70" fill="#e2efda"/>
<rect x="769.2" y="130.6" width="234.4" height="83" fill="#fcc7ca"/>
<g font-size="12.8" fill="#111"><text x="769.6" y="38.2">Toxic</text><text x="802.6" y="38.2">impact</text><text x="841.4" y="38.2">of</text><text x="853.4" y="38.2">Cd</text><text x="868.8" y="34.400000000000006" font-size="8.4">2+</text><text x="877.6" y="38.2">:</text></g>
<g font-size="12.8" fill="#111"><text x="769.6" y="125.5">Toxic</text><text x="802.6" y="125.5">impact</text><text x="841.4" y="125.5">of</text><text x="853.4" y="125.5">Cu</text><text x="868.8" y="121.7" font-size="8.4">2+</text><text x="877.6" y="125.5">:</text></g>
<text x="777.9" y="59.4" font-size="12.65" fill="#111">Functions of Ribosomes</text>
<text x="777.9" y="74.8" font-size="12.65" fill="#111">Acetyl-CoA biosynthesis</text>
<text x="777.9" y="90.1" font-size="12.65" fill="#111">Metabolism of amino acids</text>
<text x="777.9" y="105.5" font-size="12.65" fill="#111">Tricarboxylic acid metabolic process</text>
<text x="777.9" y="145.5" font-size="12.65" fill="#111">Glycolysis</text>
<text x="777.9" y="160.9" font-size="12.65" fill="#111">ATP metabolism</text>
<text x="777.9" y="176.3" font-size="12.65" fill="#111">ABC transporters</text>
<text x="777.9" y="191.7" font-size="12.65" fill="#111">Purines and pyrimidine metabolism</text>
<text x="777.9" y="207.1" font-size="12.65" fill="#111">Nucleotides biosynthesis and transcription</text>
<rect x="521.8" y="299.8" width="80.0" height="8" fill="#b4c4e8"/>
<path d="M524.5 299.8v8M527.2 299.8v8M529.9 299.8v8M532.6 299.8v8M535.3 299.8v8M538.0 299.8v8M540.7 299.8v8M543.4 299.8v8M546.1 299.8v8M548.8 299.8v8M551.5 299.8v8M554.2 299.8v8M556.9 299.8v8M559.6 299.8v8M562.3 299.8v8M565.0 299.8v8M567.7 299.8v8M570.4 299.8v8M573.1 299.8v8M575.8 299.8v8M578.5 299.8v8M581.2 299.8v8M583.9 299.8v8M586.6 299.8v8M589.3 299.8v8M592.0 299.8v8M594.7 299.8v8M597.4 299.8v8M600.1 299.8v8" stroke="#8c9ccd" stroke-width="0.7" opacity="0.85"/>
<rect x="521.8" y="311" width="80.0" height="8" fill="#000"/>
<text x="553.6" y="290.3" class="b" font-size="6.5" textLength="16.4" lengthAdjust="spacingAndGlyphs" fill="#a9b7df">DNA</text>
<text x="551.5" y="297.6" class="b" font-size="6.5" textLength="20.6" lengthAdjust="spacingAndGlyphs" fill="#a9b7df">Stress</text>
<rect x="604.4" y="299.8" width="59.6" height="8" fill="#f01010"/>
<rect x="632" y="299.8" width="32.0" height="8" fill="#16901e"/>
<rect x="604.4" y="311" width="59.6" height="8" fill="#000"/>
<text x="618.2" y="290.3" class="b" font-size="6.5" textLength="32" lengthAdjust="spacingAndGlyphs" fill="#e02828">Oxidative</text>
<text x="623.9" y="297.6" class="b" font-size="6.5" textLength="20.6" lengthAdjust="spacingAndGlyphs" fill="#e02828">Stress</text>
<rect x="666.3" y="299.8" width="64.7" height="8" fill="#22a2e8"/>
<path d="M669.0 299.8v8M671.7 299.8v8M674.4 299.8v8M677.1 299.8v8M679.8 299.8v8M682.5 299.8v8M685.2 299.8v8M687.9 299.8v8M690.6 299.8v8M693.3 299.8v8M696.0 299.8v8M698.7 299.8v8M701.4 299.8v8M704.1 299.8v8M706.8 299.8v8M709.5 299.8v8M712.2 299.8v8M714.9 299.8v8M717.6 299.8v8M720.3 299.8v8M723.0 299.8v8M725.7 299.8v8M728.4 299.8v8" stroke="#1a86cc" stroke-width="0.7" opacity="0.85"/>
<rect x="666.3" y="311" width="64.7" height="8" fill="#000"/>
<text x="680.6" y="290.3" class="b" font-size="6.5" textLength="36" lengthAdjust="spacingAndGlyphs" fill="#2a6fc4">Membrane</text>
<text x="688.4" y="297.6" class="b" font-size="6.5" textLength="20.6" lengthAdjust="spacingAndGlyphs" fill="#2a6fc4">Stress</text>
<rect x="733.3" y="299.8" width="28.7" height="8" fill="#f6b600"/>
<path d="M736.0 299.8v8M738.7 299.8v8M741.4 299.8v8M744.1 299.8v8M746.8 299.8v8M749.5 299.8v8M752.2 299.8v8M754.9 299.8v8M757.6 299.8v8M760.3 299.8v8" stroke="#d2920a" stroke-width="0.7" opacity="0.85"/>
<rect x="733.3" y="311" width="28.7" height="8" fill="#000"/>
<text x="735.6" y="290.3" class="b" font-size="6.5" textLength="24" lengthAdjust="spacingAndGlyphs" fill="#f2b134">Protein</text>
<text x="737.4" y="297.6" class="b" font-size="6.5" textLength="20.6" lengthAdjust="spacingAndGlyphs" fill="#f2b134">Stress</text>
<rect x="764.4" y="299.8" width="51.6" height="8" fill="#a4bce6"/>
<path d="M767.1 299.8v8M769.8 299.8v8M772.5 299.8v8M775.2 299.8v8M777.9 299.8v8M780.6 299.8v8M783.3 299.8v8M786.0 299.8v8M788.7 299.8v8M791.4 299.8v8M794.1 299.8v8M796.8 299.8v8M799.5 299.8v8M802.2 299.8v8M804.9 299.8v8M807.6 299.8v8M810.3 299.8v8M813.0 299.8v8M815.7 299.8v8" stroke="#8c9ccd" stroke-width="0.7" opacity="0.85"/>
<rect x="764.4" y="311" width="51.6" height="8" fill="#000"/>
<text x="776.7" y="290.3" class="b" font-size="6.5" textLength="27" lengthAdjust="spacingAndGlyphs" fill="#aabfe2">General</text>
<text x="779.9" y="297.6" class="b" font-size="6.5" textLength="20.6" lengthAdjust="spacingAndGlyphs" fill="#aabfe2">Stress</text>
<defs><filter id="hb" x="-2%" y="0" width="104%" height="100%"><feGaussianBlur stdDeviation="1.0 0"/></filter></defs>
<clipPath id="hc0"><rect x="521.8" y="320" width="80.0" height="98"/></clipPath><g clip-path="url(#hc0)"><g filter="url(#hb)">
<rect x="518.8" y="322.3" width="86.0" height="92" fill="#220304"/>
<rect x="521.8" y="322.3" width="1.7" height="7.7" fill="rgb(147,9,11)"/><rect x="523.2" y="322.3" width="1.7" height="7.7" fill="rgb(165,11,13)"/><rect x="524.5" y="322.3" width="1.7" height="7.7" fill="rgb(147,9,11)"/><rect x="525.9" y="322.3" width="1.7" height="7.7" fill="rgb(110,6,8)"/><rect x="527.2" y="322.3" width="1.7" height="7.7" fill="rgb(86,4,6)"/><rect x="528.6" y="322.3" width="1.7" height="7.7" fill="rgb(116,6,8)"/><rect x="529.9" y="322.3" width="1.7" height="7.7" fill="rgb(132,8,10)"/><rect x="531.3" y="322.3" width="1.7" height="7.7" fill="rgb(106,5,7)"/><rect x="539.4" y="322.3" width="1.7" height="7.7" fill="rgb(86,4,6)"/><rect x="540.8" y="322.3" width="1.7" height="7.7" fill="rgb(97,5,7)"/><rect x="542.1" y="322.3" width="1.7" height="7.7" fill="rgb(96,5,7)"/><rect x="543.5" y="322.3" width="1.7" height="7.7" fill="rgb(77,3,5)"/><rect x="544.9" y="322.3" width="1.7" height="7.7" fill="rgb(71,3,5)"/><rect x="546.2" y="322.3" width="1.7" height="7.7" fill="rgb(78,4,6)"/><rect x="551.6" y="322.3" width="1.7" height="7.7" fill="rgb(77,3,5)"/><rect x="553.0" y="322.3" width="1.7" height="7.7" fill="rgb(51,3,5)"/><rect x="554.3" y="322.3" width="1.7" height="7.7" fill="rgb(61,3,5)"/><rect x="558.4" y="322.3" width="1.7" height="7.7" fill="rgb(231,23,25)"/><rect x="561.1" y="322.3" width="1.7" height="7.7" fill="rgb(55,3,5)"/><rect x="562.5" y="322.3" width="1.7" height="7.7" fill="rgb(83,4,6)"/><rect x="563.8" y="322.3" width="1.7" height="7.7" fill="rgb(79,4,6)"/><rect x="567.9" y="322.3" width="1.7" height="7.7" fill="rgb(58,3,5)"/><rect x="569.3" y="322.3" width="1.7" height="7.7" fill="rgb(81,4,6)"/><rect x="570.6" y="322.3" width="1.7" height="7.7" fill="rgb(84,4,6)"/><rect x="572.0" y="322.3" width="1.7" height="7.7" fill="rgb(113,6,8)"/><rect x="573.3" y="322.3" width="1.7" height="7.7" fill="rgb(134,8,10)"/><rect x="574.7" y="322.3" width="1.7" height="7.7" fill="rgb(92,4,6)"/><rect x="576.0" y="322.3" width="1.7" height="7.7" fill="rgb(66,3,5)"/><rect x="581.5" y="322.3" width="1.7" height="7.7" fill="rgb(95,4,6)"/><rect x="582.8" y="322.3" width="1.7" height="7.7" fill="rgb(121,7,9)"/><rect x="584.2" y="322.3" width="1.7" height="7.7" fill="rgb(137,8,10)"/><rect x="585.5" y="322.3" width="1.7" height="7.7" fill="rgb(92,4,6)"/><rect x="589.6" y="322.3" width="1.7" height="7.7" fill="rgb(50,3,5)"/><rect x="591.0" y="322.3" width="1.7" height="7.7" fill="rgb(67,3,5)"/><rect x="592.3" y="322.3" width="1.7" height="7.7" fill="rgb(116,6,8)"/><rect x="593.7" y="322.3" width="1.7" height="7.7" fill="rgb(124,7,9)"/><rect x="595.0" y="322.3" width="1.7" height="7.7" fill="rgb(58,3,5)"/><rect x="521.8" y="331.4" width="1.7" height="7.7" fill="rgb(73,3,5)"/><rect x="523.2" y="331.4" width="1.7" height="7.7" fill="rgb(106,5,7)"/><rect x="524.5" y="331.4" width="1.7" height="7.7" fill="rgb(154,10,12)"/><rect x="525.9" y="331.4" width="1.7" height="7.7" fill="rgb(123,7,9)"/><rect x="527.2" y="331.4" width="1.7" height="7.7" fill="rgb(148,9,11)"/><rect x="528.6" y="331.4" width="1.7" height="7.7" fill="rgb(145,9,11)"/><rect x="529.9" y="331.4" width="1.7" height="7.7" fill="rgb(99,5,7)"/><rect x="531.3" y="331.4" width="1.7" height="7.7" fill="rgb(132,8,10)"/><rect x="539.4" y="331.4" width="1.7" height="7.7" fill="rgb(46,3,5)"/><rect x="542.1" y="331.4" width="1.7" height="7.7" fill="rgb(143,9,11)"/><rect x="543.5" y="331.4" width="1.7" height="7.7" fill="rgb(122,7,9)"/><rect x="544.9" y="331.4" width="1.7" height="7.7" fill="rgb(70,3,5)"/><rect x="551.6" y="331.4" width="1.7" height="7.7" fill="rgb(74,3,5)"/><rect x="553.0" y="331.4" width="1.7" height="7.7" fill="rgb(72,3,5)"/><rect x="554.3" y="331.4" width="1.7" height="7.7" fill="rgb(96,5,7)"/><rect x="558.4" y="331.4" width="1.7" height="7.7" fill="rgb(231,23,25)"/><rect x="561.1" y="331.4" width="1.7" height="7.7" fill="rgb(49,3,5)"/><rect x="562.5" y="331.4" width="1.7" height="7.7" fill="rgb(81,4,6)"/><rect x="563.8" y="331.4" width="1.7" height="7.7" fill="rgb(136,8,10)"/><rect x="565.2" y="331.4" width="1.7" height="7.7" fill="rgb(112,6,8)"/><rect x="566.5" y="331.4" width="1.7" height="7.7" fill="rgb(73,3,5)"/><rect x="567.9" y="331.4" width="1.7" height="7.7" fill="rgb(61,3,5)"/><rect x="569.3" y="331.4" width="1.7" height="7.7" fill="rgb(75,3,5)"/><rect x="570.6" y="331.4" width="1.7" height="7.7" fill="rgb(61,3,5)"/><rect x="572.0" y="331.4" width="1.7" height="7.7" fill="rgb(81,4,6)"/><rect x="573.3" y="331.4" width="1.7" height="7.7" fill="rgb(66,3,5)"/><rect x="574.7" y="331.4" width="1.7" height="7.7" fill="rgb(61,3,5)"/><rect x="576.0" y="331.4" width="1.7" height="7.7" fill="rgb(85,4,6)"/><rect x="577.4" y="331.4" width="1.7" height="7.7" fill="rgb(78,4,6)"/><rect x="588.2" y="331.4" width="1.7" height="7.7" fill="rgb(68,3,5)"/><rect x="589.6" y="331.4" width="1.7" height="7.7" fill="rgb(63,3,5)"/><rect x="591.0" y="331.4" width="1.7" height="7.7" fill="rgb(52,3,5)"/><rect x="592.3" y="331.4" width="1.7" height="7.7" fill="rgb(72,3,5)"/><rect x="593.7" y="331.4" width="1.7" height="7.7" fill="rgb(103,5,7)"/><rect x="595.0" y="331.4" width="1.7" height="7.7" fill="rgb(68,3,5)"/><rect x="596.4" y="331.4" width="1.7" height="7.7" fill="rgb(74,3,5)"/><rect x="597.7" y="331.4" width="1.7" height="7.7" fill="rgb(57,3,5)"/><rect x="599.1" y="331.4" width="1.7" height="7.7" fill="rgb(68,3,5)"/><rect x="523.2" y="340.6" width="1.7" height="7.7" fill="rgb(100,5,7)"/><rect x="524.5" y="340.6" width="1.7" height="7.7" fill="rgb(164,11,13)"/><rect x="525.9" y="340.6" width="1.7" height="7.7" fill="rgb(180,14,16)"/><rect x="527.2" y="340.6" width="1.7" height="7.7" fill="rgb(145,9,11)"/><rect x="528.6" y="340.6" width="1.7" height="7.7" fill="rgb(137,8,10)"/><rect x="529.9" y="340.6" width="1.7" height="7.7" fill="rgb(137,8,10)"/><rect x="531.3" y="340.6" width="1.7" height="7.7" fill="rgb(132,8,10)"/><rect x="542.1" y="340.6" width="1.7" height="7.7" fill="rgb(83,4,6)"/><rect x="543.5" y="340.6" width="1.7" height="7.7" fill="rgb(99,5,7)"/><rect x="544.9" y="340.6" width="1.7" height="7.7" fill="rgb(60,3,5)"/><rect x="553.0" y="340.6" width="1.7" height="7.7" fill="rgb(49,3,5)"/><rect x="554.3" y="340.6" width="1.7" height="7.7" fill="rgb(66,3,5)"/><rect x="555.7" y="340.6" width="1.7" height="7.7" fill="rgb(46,3,5)"/><rect x="558.4" y="340.6" width="1.7" height="7.7" fill="rgb(53,3,5)"/><rect x="559.8" y="340.6" width="1.7" height="7.7" fill="rgb(83,4,6)"/><rect x="561.1" y="340.6" width="1.7" height="7.7" fill="rgb(113,6,8)"/><rect x="562.5" y="340.6" width="1.7" height="7.7" fill="rgb(106,5,7)"/><rect x="563.8" y="340.6" width="1.7" height="7.7" fill="rgb(91,4,6)"/><rect x="565.2" y="340.6" width="1.7" height="7.7" fill="rgb(49,3,5)"/><rect x="566.5" y="340.6" width="1.7" height="7.7" fill="rgb(78,4,6)"/><rect x="567.9" y="340.6" width="1.7" height="7.7" fill="rgb(75,3,5)"/><rect x="569.3" y="340.6" width="1.7" height="7.7" fill="rgb(60,3,5)"/><rect x="572.0" y="340.6" width="1.7" height="7.7" fill="rgb(84,4,6)"/><rect x="573.3" y="340.6" width="1.7" height="7.7" fill="rgb(128,7,9)"/><rect x="574.7" y="340.6" width="1.7" height="7.7" fill="rgb(126,7,9)"/><rect x="576.0" y="340.6" width="1.7" height="7.7" fill="rgb(106,5,7)"/><rect x="577.4" y="340.6" width="1.7" height="7.7" fill="rgb(92,4,6)"/><rect x="580.1" y="340.6" width="1.7" height="7.7" fill="rgb(47,3,5)"/><rect x="582.8" y="340.6" width="1.7" height="7.7" fill="rgb(85,4,6)"/><rect x="584.2" y="340.6" width="1.7" height="7.7" fill="rgb(64,3,5)"/><rect x="588.2" y="340.6" width="1.7" height="7.7" fill="rgb(62,3,5)"/><rect x="589.6" y="340.6" width="1.7" height="7.7" fill="rgb(51,3,5)"/><rect x="591.0" y="340.6" width="1.7" height="7.7" fill="rgb(77,3,5)"/><rect x="592.3" y="340.6" width="1.7" height="7.7" fill="rgb(130,7,9)"/><rect x="593.7" y="340.6" width="1.7" height="7.7" fill="rgb(168,12,14)"/><rect x="595.0" y="340.6" width="1.7" height="7.7" fill="rgb(94,4,6)"/><rect x="596.4" y="340.6" width="1.7" height="7.7" fill="rgb(107,5,7)"/><rect x="597.7" y="340.6" width="1.7" height="7.7" fill="rgb(63,3,5)"/><rect x="599.1" y="340.6" width="1.7" height="7.7" fill="rgb(89,4,6)"/><rect x="523.2" y="349.8" width="1.7" height="7.7" fill="rgb(88,4,6)"/><rect x="524.5" y="349.8" width="1.7" height="7.7" fill="rgb(165,12,14)"/><rect x="525.9" y="349.8" width="1.7" height="7.7" fill="rgb(180,14,16)"/><rect x="527.2" y="349.8" width="1.7" height="7.7" fill="rgb(224,22,24)"/><rect x="528.6" y="349.8" width="1.7" height="7.7" fill="rgb(133,8,10)"/><rect x="529.9" y="349.8" width="1.7" height="7.7" fill="rgb(91,4,6)"/><rect x="531.3" y="349.8" width="1.7" height="7.7" fill="rgb(132,8,10)"/><rect x="542.1" y="349.8" width="1.7" height="7.7" fill="rgb(70,3,5)"/><rect x="543.5" y="349.8" width="1.7" height="7.7" fill="rgb(51,3,5)"/><rect x="551.6" y="349.8" width="1.7" height="7.7" fill="rgb(113,6,8)"/><rect x="553.0" y="349.8" width="1.7" height="7.7" fill="rgb(76,3,5)"/><rect x="554.3" y="349.8" width="1.7" height="7.7" fill="rgb(74,3,5)"/><rect x="558.4" y="349.8" width="1.7" height="7.7" fill="rgb(62,3,5)"/><rect x="559.8" y="349.8" width="1.7" height="7.7" fill="rgb(50,3,5)"/><rect x="561.1" y="349.8" width="1.7" height="7.7" fill="rgb(70,3,5)"/><rect x="562.5" y="349.8" width="1.7" height="7.7" fill="rgb(89,4,6)"/><rect x="563.8" y="349.8" width="1.7" height="7.7" fill="rgb(103,5,7)"/><rect x="565.2" y="349.8" width="1.7" height="7.7" fill="rgb(70,3,5)"/><rect x="569.3" y="349.8" width="1.7" height="7.7" fill="rgb(52,3,5)"/><rect x="572.0" y="349.8" width="1.7" height="7.7" fill="rgb(51,3,5)"/><rect x="573.3" y="349.8" width="1.7" height="7.7" fill="rgb(53,3,5)"/><rect x="574.7" y="349.8" width="1.7" height="7.7" fill="rgb(183,14,16)"/><rect x="581.5" y="349.8" width="1.7" height="7.7" fill="rgb(53,3,5)"/><rect x="582.8" y="349.8" width="1.7" height="7.7" fill="rgb(52,3,5)"/><rect x="584.2" y="349.8" width="1.7" height="7.7" fill="rgb(59,3,5)"/><rect x="585.5" y="349.8" width="1.7" height="7.7" fill="rgb(55,3,5)"/><rect x="586.9" y="349.8" width="1.7" height="7.7" fill="rgb(74,3,5)"/><rect x="588.2" y="349.8" width="1.7" height="7.7" fill="rgb(131,8,10)"/><rect x="589.6" y="349.8" width="1.7" height="7.7" fill="rgb(78,4,6)"/><rect x="591.0" y="349.8" width="1.7" height="7.7" fill="rgb(68,3,5)"/><rect x="592.3" y="349.8" width="1.7" height="7.7" fill="rgb(61,3,5)"/><rect x="593.7" y="349.8" width="1.7" height="7.7" fill="rgb(90,4,6)"/><rect x="599.1" y="349.8" width="1.7" height="7.7" fill="rgb(48,3,5)"/><rect x="523.2" y="358.9" width="1.7" height="7.7" fill="rgb(76,3,5)"/><rect x="524.5" y="358.9" width="1.7" height="7.7" fill="rgb(101,5,7)"/><rect x="525.9" y="358.9" width="1.7" height="7.7" fill="rgb(89,4,6)"/><rect x="527.2" y="358.9" width="1.7" height="7.7" fill="rgb(71,3,5)"/><rect x="528.6" y="358.9" width="1.7" height="7.7" fill="rgb(76,3,5)"/><rect x="529.9" y="358.9" width="1.7" height="7.7" fill="rgb(113,6,8)"/><rect x="531.3" y="358.9" width="1.7" height="7.7" fill="rgb(77,4,6)"/><rect x="540.8" y="358.9" width="1.7" height="7.7" fill="rgb(77,4,6)"/><rect x="542.1" y="358.9" width="1.7" height="7.7" fill="rgb(106,5,7)"/><rect x="543.5" y="358.9" width="1.7" height="7.7" fill="rgb(87,4,6)"/><rect x="544.9" y="358.9" width="1.7" height="7.7" fill="rgb(50,3,5)"/><rect x="546.2" y="358.9" width="1.7" height="7.7" fill="rgb(74,3,5)"/><rect x="547.6" y="358.9" width="1.7" height="7.7" fill="rgb(76,3,5)"/><rect x="548.9" y="358.9" width="1.7" height="7.7" fill="rgb(69,3,5)"/><rect x="550.3" y="358.9" width="1.7" height="7.7" fill="rgb(101,5,7)"/><rect x="551.6" y="358.9" width="1.7" height="7.7" fill="rgb(89,4,6)"/><rect x="553.0" y="358.9" width="1.7" height="7.7" fill="rgb(55,3,5)"/><rect x="554.3" y="358.9" width="1.7" height="7.7" fill="rgb(54,3,5)"/><rect x="555.7" y="358.9" width="1.7" height="7.7" fill="rgb(63,3,5)"/><rect x="557.1" y="358.9" width="1.7" height="7.7" fill="rgb(67,3,5)"/><rect x="558.4" y="358.9" width="1.7" height="7.7" fill="rgb(48,3,5)"/><rect x="561.1" y="358.9" width="1.7" height="7.7" fill="rgb(55,3,5)"/><rect x="562.5" y="358.9" width="1.7" height="7.7" fill="rgb(130,7,9)"/><rect x="563.8" y="358.9" width="1.7" height="7.7" fill="rgb(127,7,9)"/><rect x="565.2" y="358.9" width="1.7" height="7.7" fill="rgb(116,6,8)"/><rect x="566.5" y="358.9" width="1.7" height="7.7" fill="rgb(79,4,6)"/><rect x="567.9" y="358.9" width="1.7" height="7.7" fill="rgb(95,5,7)"/><rect x="569.3" y="358.9" width="1.7" height="7.7" fill="rgb(78,4,6)"/><rect x="570.6" y="358.9" width="1.7" height="7.7" fill="rgb(91,4,6)"/><rect x="572.0" y="358.9" width="1.7" height="7.7" fill="rgb(102,5,7)"/><rect x="573.3" y="358.9" width="1.7" height="7.7" fill="rgb(116,6,8)"/><rect x="574.7" y="358.9" width="1.7" height="7.7" fill="rgb(183,14,16)"/><rect x="578.7" y="358.9" width="1.7" height="7.7" fill="rgb(128,7,9)"/><rect x="584.2" y="358.9" width="1.7" height="7.7" fill="rgb(53,3,5)"/><rect x="585.5" y="358.9" width="1.7" height="7.7" fill="rgb(77,3,5)"/><rect x="588.2" y="358.9" width="1.7" height="7.7" fill="rgb(50,3,5)"/><rect x="591.0" y="358.9" width="1.7" height="7.7" fill="rgb(106,5,7)"/><rect x="592.3" y="358.9" width="1.7" height="7.7" fill="rgb(137,8,10)"/><rect x="593.7" y="358.9" width="1.7" height="7.7" fill="rgb(145,9,11)"/><rect x="595.0" y="358.9" width="1.7" height="7.7" fill="rgb(73,3,5)"/><rect x="521.8" y="370.7" width="1.7" height="7.7" fill="rgb(54,3,5)"/><rect x="523.2" y="370.7" width="1.7" height="7.7" fill="rgb(55,3,5)"/><rect x="524.5" y="370.7" width="1.7" height="7.7" fill="rgb(130,7,9)"/><rect x="525.9" y="370.7" width="1.7" height="7.7" fill="rgb(150,10,12)"/><rect x="527.2" y="370.7" width="1.7" height="7.7" fill="rgb(113,6,8)"/><rect x="528.6" y="370.7" width="1.7" height="7.7" fill="rgb(52,3,5)"/><rect x="532.6" y="370.7" width="1.7" height="7.7" fill="rgb(50,3,5)"/><rect x="534.0" y="370.7" width="1.7" height="7.7" fill="rgb(67,3,5)"/><rect x="539.4" y="370.7" width="1.7" height="7.7" fill="rgb(119,6,8)"/><rect x="540.8" y="370.7" width="1.7" height="7.7" fill="rgb(144,9,11)"/><rect x="542.1" y="370.7" width="1.7" height="7.7" fill="rgb(147,9,11)"/><rect x="543.5" y="370.7" width="1.7" height="7.7" fill="rgb(103,5,7)"/><rect x="544.9" y="370.7" width="1.7" height="7.7" fill="rgb(54,3,5)"/><rect x="546.2" y="370.7" width="1.7" height="7.7" fill="rgb(66,3,5)"/><rect x="547.6" y="370.7" width="1.7" height="7.7" fill="rgb(66,3,5)"/><rect x="548.9" y="370.7" width="1.7" height="7.7" fill="rgb(63,3,5)"/><rect x="550.3" y="370.7" width="1.7" height="7.7" fill="rgb(73,3,5)"/><rect x="551.6" y="370.7" width="1.7" height="7.7" fill="rgb(108,5,7)"/><rect x="553.0" y="370.7" width="1.7" height="7.7" fill="rgb(87,4,6)"/><rect x="554.3" y="370.7" width="1.7" height="7.7" fill="rgb(147,9,11)"/><rect x="555.7" y="370.7" width="1.7" height="7.7" fill="rgb(91,4,6)"/><rect x="557.1" y="370.7" width="1.7" height="7.7" fill="rgb(75,3,5)"/><rect x="558.4" y="370.7" width="1.7" height="7.7" fill="rgb(56,3,5)"/><rect x="559.8" y="370.7" width="1.7" height="7.7" fill="rgb(75,3,5)"/><rect x="561.1" y="370.7" width="1.7" height="7.7" fill="rgb(96,5,7)"/><rect x="562.5" y="370.7" width="1.7" height="7.7" fill="rgb(78,4,6)"/><rect x="563.8" y="370.7" width="1.7" height="7.7" fill="rgb(52,3,5)"/><rect x="569.3" y="370.7" width="1.7" height="7.7" fill="rgb(47,3,5)"/><rect x="572.0" y="370.7" width="1.7" height="7.7" fill="rgb(63,3,5)"/><rect x="573.3" y="370.7" width="1.7" height="7.7" fill="rgb(50,3,5)"/><rect x="574.7" y="370.7" width="1.7" height="7.7" fill="rgb(183,14,16)"/><rect x="576.0" y="370.7" width="1.7" height="7.7" fill="rgb(62,3,5)"/><rect x="577.4" y="370.7" width="1.7" height="7.7" fill="rgb(87,4,6)"/><rect x="578.7" y="370.7" width="1.7" height="7.7" fill="rgb(128,7,9)"/><rect x="582.8" y="370.7" width="1.7" height="7.7" fill="rgb(50,3,5)"/><rect x="584.2" y="370.7" width="1.7" height="7.7" fill="rgb(122,7,9)"/><rect x="585.5" y="370.7" width="1.7" height="7.7" fill="rgb(92,4,6)"/><rect x="592.3" y="370.7" width="1.7" height="7.7" fill="rgb(72,3,5)"/><rect x="593.7" y="370.7" width="1.7" height="7.7" fill="rgb(143,9,11)"/><rect x="595.0" y="370.7" width="1.7" height="7.7" fill="rgb(124,7,9)"/><rect x="596.4" y="370.7" width="1.7" height="7.7" fill="rgb(104,5,7)"/><rect x="597.7" y="370.7" width="1.7" height="7.7" fill="rgb(75,3,5)"/><rect x="599.1" y="370.7" width="1.7" height="7.7" fill="rgb(86,4,6)"/><rect x="600.4" y="370.7" width="1.7" height="7.7" fill="rgb(57,3,5)"/><rect x="521.8" y="379.8" width="1.7" height="7.7" fill="rgb(114,6,8)"/><rect x="523.2" y="379.8" width="1.7" height="7.7" fill="rgb(114,6,8)"/><rect x="524.5" y="379.8" width="1.7" height="7.7" fill="rgb(114,6,8)"/><rect x="525.9" y="379.8" width="1.7" height="7.7" fill="rgb(99,5,7)"/><rect x="527.2" y="379.8" width="1.7" height="7.7" fill="rgb(55,3,5)"/><rect x="528.6" y="379.8" width="1.7" height="7.7" fill="rgb(61,3,5)"/><rect x="529.9" y="379.8" width="1.7" height="7.7" fill="rgb(51,3,5)"/><rect x="531.3" y="379.8" width="1.7" height="7.7" fill="rgb(59,3,5)"/><rect x="542.1" y="379.8" width="1.7" height="7.7" fill="rgb(83,4,6)"/><rect x="543.5" y="379.8" width="1.7" height="7.7" fill="rgb(54,3,5)"/><rect x="544.9" y="379.8" width="1.7" height="7.7" fill="rgb(64,3,5)"/><rect x="546.2" y="379.8" width="1.7" height="7.7" fill="rgb(56,3,5)"/><rect x="551.6" y="379.8" width="1.7" height="7.7" fill="rgb(89,4,6)"/><rect x="553.0" y="379.8" width="1.7" height="7.7" fill="rgb(62,3,5)"/><rect x="561.1" y="379.8" width="1.7" height="7.7" fill="rgb(56,3,5)"/><rect x="562.5" y="379.8" width="1.7" height="7.7" fill="rgb(67,3,5)"/><rect x="563.8" y="379.8" width="1.7" height="7.7" fill="rgb(46,3,5)"/><rect x="566.5" y="379.8" width="1.7" height="7.7" fill="rgb(86,4,6)"/><rect x="567.9" y="379.8" width="1.7" height="7.7" fill="rgb(123,7,9)"/><rect x="569.3" y="379.8" width="1.7" height="7.7" fill="rgb(80,4,6)"/><rect x="570.6" y="379.8" width="1.7" height="7.7" fill="rgb(59,3,5)"/><rect x="572.0" y="379.8" width="1.7" height="7.7" fill="rgb(62,3,5)"/><rect x="573.3" y="379.8" width="1.7" height="7.7" fill="rgb(106,5,7)"/><rect x="576.0" y="379.8" width="1.7" height="7.7" fill="rgb(74,3,5)"/><rect x="577.4" y="379.8" width="1.7" height="7.7" fill="rgb(67,3,5)"/><rect x="578.7" y="379.8" width="1.7" height="7.7" fill="rgb(128,7,9)"/><rect x="580.1" y="379.8" width="1.7" height="7.7" fill="rgb(64,3,5)"/><rect x="581.5" y="379.8" width="1.7" height="7.7" fill="rgb(76,3,5)"/><rect x="582.8" y="379.8" width="1.7" height="7.7" fill="rgb(118,6,8)"/><rect x="584.2" y="379.8" width="1.7" height="7.7" fill="rgb(130,7,9)"/><rect x="585.5" y="379.8" width="1.7" height="7.7" fill="rgb(87,4,6)"/><rect x="588.2" y="379.8" width="1.7" height="7.7" fill="rgb(71,3,5)"/><rect x="591.0" y="379.8" width="1.7" height="7.7" fill="rgb(57,3,5)"/><rect x="592.3" y="379.8" width="1.7" height="7.7" fill="rgb(55,3,5)"/><rect x="593.7" y="379.8" width="1.7" height="7.7" fill="rgb(80,4,6)"/><rect x="596.4" y="379.8" width="1.7" height="7.7" fill="rgb(54,3,5)"/><rect x="599.1" y="379.8" width="1.7" height="7.7" fill="rgb(49,3,5)"/><rect x="521.8" y="388.9" width="1.7" height="7.7" fill="rgb(88,4,6)"/><rect x="523.2" y="388.9" width="1.7" height="7.7" fill="rgb(159,11,13)"/><rect x="524.5" y="388.9" width="1.7" height="7.7" fill="rgb(189,15,17)"/><rect x="525.9" y="388.9" width="1.7" height="7.7" fill="rgb(148,9,11)"/><rect x="527.2" y="388.9" width="1.7" height="7.7" fill="rgb(133,8,10)"/><rect x="528.6" y="388.9" width="1.7" height="7.7" fill="rgb(113,6,8)"/><rect x="529.9" y="388.9" width="1.7" height="7.7" fill="rgb(152,10,12)"/><rect x="531.3" y="388.9" width="1.7" height="7.7" fill="rgb(92,4,6)"/><rect x="532.6" y="388.9" width="1.7" height="7.7" fill="rgb(68,3,5)"/><rect x="539.4" y="388.9" width="1.7" height="7.7" fill="rgb(58,3,5)"/><rect x="542.1" y="388.9" width="1.7" height="7.7" fill="rgb(99,5,7)"/><rect x="544.9" y="388.9" width="1.7" height="7.7" fill="rgb(64,3,5)"/><rect x="550.3" y="388.9" width="1.7" height="7.7" fill="rgb(51,3,5)"/><rect x="551.6" y="388.9" width="1.7" height="7.7" fill="rgb(56,3,5)"/><rect x="554.3" y="388.9" width="1.7" height="7.7" fill="rgb(65,3,5)"/><rect x="563.8" y="388.9" width="1.7" height="7.7" fill="rgb(112,6,8)"/><rect x="565.2" y="388.9" width="1.7" height="7.7" fill="rgb(66,3,5)"/><rect x="566.5" y="388.9" width="1.7" height="7.7" fill="rgb(71,3,5)"/><rect x="567.9" y="388.9" width="1.7" height="7.7" fill="rgb(50,3,5)"/><rect x="569.3" y="388.9" width="1.7" height="7.7" fill="rgb(83,4,6)"/><rect x="570.6" y="388.9" width="1.7" height="7.7" fill="rgb(80,4,6)"/><rect x="572.0" y="388.9" width="1.7" height="7.7" fill="rgb(131,7,9)"/><rect x="573.3" y="388.9" width="1.7" height="7.7" fill="rgb(105,5,7)"/><rect x="574.7" y="388.9" width="1.7" height="7.7" fill="rgb(115,6,8)"/><rect x="576.0" y="388.9" width="1.7" height="7.7" fill="rgb(67,3,5)"/><rect x="578.7" y="388.9" width="1.7" height="7.7" fill="rgb(128,7,9)"/><rect x="584.2" y="388.9" width="1.7" height="7.7" fill="rgb(54,3,5)"/><rect x="586.9" y="388.9" width="1.7" height="7.7" fill="rgb(208,18,20)"/><rect x="591.0" y="388.9" width="1.7" height="7.7" fill="rgb(65,3,5)"/><rect x="592.3" y="388.9" width="1.7" height="7.7" fill="rgb(91,4,6)"/><rect x="593.7" y="388.9" width="1.7" height="7.7" fill="rgb(142,9,11)"/><rect x="595.0" y="388.9" width="1.7" height="7.7" fill="rgb(66,3,5)"/><rect x="596.4" y="388.9" width="1.7" height="7.7" fill="rgb(82,4,6)"/><rect x="521.8" y="398.0" width="1.7" height="7.7" fill="rgb(52,3,5)"/><rect x="523.2" y="398.0" width="1.7" height="7.7" fill="rgb(59,3,5)"/><rect x="524.5" y="398.0" width="1.7" height="7.7" fill="rgb(121,7,9)"/><rect x="525.9" y="398.0" width="1.7" height="7.7" fill="rgb(141,9,11)"/><rect x="527.2" y="398.0" width="1.7" height="7.7" fill="rgb(114,6,8)"/><rect x="528.6" y="398.0" width="1.7" height="7.7" fill="rgb(85,4,6)"/><rect x="539.4" y="398.0" width="1.7" height="7.7" fill="rgb(63,3,5)"/><rect x="542.1" y="398.0" width="1.7" height="7.7" fill="rgb(91,4,6)"/><rect x="547.6" y="398.0" width="1.7" height="7.7" fill="rgb(51,3,5)"/><rect x="562.5" y="398.0" width="1.7" height="7.7" fill="rgb(48,3,5)"/><rect x="563.8" y="398.0" width="1.7" height="7.7" fill="rgb(81,4,6)"/><rect x="565.2" y="398.0" width="1.7" height="7.7" fill="rgb(65,3,5)"/><rect x="566.5" y="398.0" width="1.7" height="7.7" fill="rgb(50,3,5)"/><rect x="570.6" y="398.0" width="1.7" height="7.7" fill="rgb(176,13,15)"/><rect x="572.0" y="398.0" width="1.7" height="7.7" fill="rgb(102,5,7)"/><rect x="573.3" y="398.0" width="1.7" height="7.7" fill="rgb(119,6,8)"/><rect x="574.7" y="398.0" width="1.7" height="7.7" fill="rgb(58,3,5)"/><rect x="580.1" y="398.0" width="1.7" height="7.7" fill="rgb(65,3,5)"/><rect x="588.2" y="398.0" width="1.7" height="7.7" fill="rgb(91,4,6)"/><rect x="589.6" y="398.0" width="1.7" height="7.7" fill="rgb(99,5,7)"/><rect x="591.0" y="398.0" width="1.7" height="7.7" fill="rgb(174,13,15)"/><rect x="592.3" y="398.0" width="1.7" height="7.7" fill="rgb(173,13,15)"/><rect x="593.7" y="398.0" width="1.7" height="7.7" fill="rgb(210,19,21)"/><rect x="595.0" y="398.0" width="1.7" height="7.7" fill="rgb(176,13,15)"/><rect x="596.4" y="398.0" width="1.7" height="7.7" fill="rgb(103,5,7)"/><rect x="597.7" y="398.0" width="1.7" height="7.7" fill="rgb(185,15,17)"/><rect x="521.8" y="407.1" width="1.7" height="7.7" fill="rgb(111,6,8)"/><rect x="523.2" y="407.1" width="1.7" height="7.7" fill="rgb(76,3,5)"/><rect x="524.5" y="407.1" width="1.7" height="7.7" fill="rgb(65,3,5)"/><rect x="525.9" y="407.1" width="1.7" height="7.7" fill="rgb(63,3,5)"/><rect x="527.2" y="407.1" width="1.7" height="7.7" fill="rgb(90,4,6)"/><rect x="528.6" y="407.1" width="1.7" height="7.7" fill="rgb(117,6,8)"/><rect x="529.9" y="407.1" width="1.7" height="7.7" fill="rgb(134,8,10)"/><rect x="531.3" y="407.1" width="1.7" height="7.7" fill="rgb(107,5,7)"/><rect x="539.4" y="407.1" width="1.7" height="7.7" fill="rgb(56,3,5)"/><rect x="540.8" y="407.1" width="1.7" height="7.7" fill="rgb(91,4,6)"/><rect x="542.1" y="407.1" width="1.7" height="7.7" fill="rgb(139,8,10)"/><rect x="543.5" y="407.1" width="1.7" height="7.7" fill="rgb(58,3,5)"/><rect x="550.3" y="407.1" width="1.7" height="7.7" fill="rgb(106,5,7)"/><rect x="551.6" y="407.1" width="1.7" height="7.7" fill="rgb(99,5,7)"/><rect x="553.0" y="407.1" width="1.7" height="7.7" fill="rgb(54,3,5)"/><rect x="555.7" y="407.1" width="1.7" height="7.7" fill="rgb(68,3,5)"/><rect x="557.1" y="407.1" width="1.7" height="7.7" fill="rgb(68,3,5)"/><rect x="558.4" y="407.1" width="1.7" height="7.7" fill="rgb(78,4,6)"/><rect x="559.8" y="407.1" width="1.7" height="7.7" fill="rgb(59,3,5)"/><rect x="561.1" y="407.1" width="1.7" height="7.7" fill="rgb(75,3,5)"/><rect x="562.5" y="407.1" width="1.7" height="7.7" fill="rgb(82,4,6)"/><rect x="563.8" y="407.1" width="1.7" height="7.7" fill="rgb(92,4,6)"/><rect x="565.2" y="407.1" width="1.7" height="7.7" fill="rgb(78,4,6)"/><rect x="566.5" y="407.1" width="1.7" height="7.7" fill="rgb(123,7,9)"/><rect x="567.9" y="407.1" width="1.7" height="7.7" fill="rgb(84,4,6)"/><rect x="569.3" y="407.1" width="1.7" height="7.7" fill="rgb(105,5,7)"/><rect x="570.6" y="407.1" width="1.7" height="7.7" fill="rgb(62,3,5)"/><rect x="572.0" y="407.1" width="1.7" height="7.7" fill="rgb(151,10,12)"/><rect x="573.3" y="407.1" width="1.7" height="7.7" fill="rgb(142,9,11)"/><rect x="574.7" y="407.1" width="1.7" height="7.7" fill="rgb(116,6,8)"/><rect x="576.0" y="407.1" width="1.7" height="7.7" fill="rgb(159,11,13)"/><rect x="582.8" y="407.1" width="1.7" height="7.7" fill="rgb(48,3,5)"/><rect x="584.2" y="407.1" width="1.7" height="7.7" fill="rgb(84,4,6)"/><rect x="589.6" y="407.1" width="1.7" height="7.7" fill="rgb(58,3,5)"/><rect x="591.0" y="407.1" width="1.7" height="7.7" fill="rgb(85,4,6)"/><rect x="592.3" y="407.1" width="1.7" height="7.7" fill="rgb(147,9,11)"/><rect x="593.7" y="407.1" width="1.7" height="7.7" fill="rgb(174,13,15)"/><rect x="595.0" y="407.1" width="1.7" height="7.7" fill="rgb(116,6,8)"/><rect x="596.4" y="407.1" width="1.7" height="7.7" fill="rgb(81,4,6)"/><rect x="597.7" y="407.1" width="1.7" height="7.7" fill="rgb(185,15,17)"/><rect x="599.1" y="407.1" width="1.7" height="7.7" fill="rgb(62,3,5)"/>
</g>
<path d="M521.8 330.7H601.8M521.8 339.8H601.8M521.8 349.0H601.8M521.8 358.1H601.8M521.8 367.3H601.8M521.8 379.1H601.8M521.8 388.2H601.8M521.8 397.3H601.8M521.8 406.4H601.8M521.8 415.5H601.8" stroke="#f4f0f0" stroke-width="1.3"/>
<rect x="521.8" y="366.6" width="80.0" height="4.1" fill="#fff"/>
<rect x="521.8" y="414.8" width="80.0" height="5" fill="#fff"/>
</g>
<clipPath id="hc1"><rect x="604.4" y="320" width="59.6" height="98"/></clipPath><g clip-path="url(#hc1)"><g filter="url(#hb)">
<rect x="601.4" y="322.3" width="65.6" height="92" fill="#220304"/>
<rect x="612.5" y="322.3" width="1.7" height="7.7" fill="rgb(57,3,5)"/><rect x="613.9" y="322.3" width="1.7" height="7.7" fill="rgb(142,9,11)"/><rect x="615.2" y="322.3" width="1.7" height="7.7" fill="rgb(104,5,7)"/><rect x="616.6" y="322.3" width="1.7" height="7.7" fill="rgb(73,3,5)"/><rect x="619.3" y="322.3" width="1.7" height="7.7" fill="rgb(50,3,5)"/><rect x="623.4" y="322.3" width="1.7" height="7.7" fill="rgb(82,4,6)"/><rect x="624.7" y="322.3" width="1.7" height="7.7" fill="rgb(128,7,9)"/><rect x="626.1" y="322.3" width="1.7" height="7.7" fill="rgb(124,7,9)"/><rect x="627.4" y="322.3" width="1.7" height="7.7" fill="rgb(70,3,5)"/><rect x="628.8" y="322.3" width="1.7" height="7.7" fill="rgb(198,17,19)"/><rect x="630.1" y="322.3" width="1.7" height="7.7" fill="rgb(65,3,5)"/><rect x="642.3" y="322.3" width="1.7" height="7.7" fill="rgb(50,3,5)"/><rect x="661.3" y="322.3" width="1.7" height="7.7" fill="rgb(80,4,6)"/><rect x="662.6" y="322.3" width="1.7" height="7.7" fill="rgb(64,3,5)"/><rect x="612.5" y="331.4" width="1.7" height="7.7" fill="rgb(68,3,5)"/><rect x="613.9" y="331.4" width="1.7" height="7.7" fill="rgb(61,3,5)"/><rect x="623.4" y="331.4" width="1.7" height="7.7" fill="rgb(98,5,7)"/><rect x="624.7" y="331.4" width="1.7" height="7.7" fill="rgb(166,12,14)"/><rect x="626.1" y="331.4" width="1.7" height="7.7" fill="rgb(94,4,6)"/><rect x="627.4" y="331.4" width="1.7" height="7.7" fill="rgb(58,3,5)"/><rect x="635.6" y="331.4" width="1.7" height="7.7" fill="rgb(61,3,5)"/><rect x="642.3" y="331.4" width="1.7" height="7.7" fill="rgb(49,3,5)"/><rect x="651.8" y="331.4" width="1.7" height="7.7" fill="rgb(57,3,5)"/><rect x="653.2" y="331.4" width="1.7" height="7.7" fill="rgb(95,4,6)"/><rect x="654.5" y="331.4" width="1.7" height="7.7" fill="rgb(65,3,5)"/><rect x="655.9" y="331.4" width="1.7" height="7.7" fill="rgb(52,3,5)"/><rect x="658.6" y="331.4" width="1.7" height="7.7" fill="rgb(51,3,5)"/><rect x="613.9" y="340.6" width="1.7" height="7.7" fill="rgb(92,4,6)"/><rect x="615.2" y="340.6" width="1.7" height="7.7" fill="rgb(88,4,6)"/><rect x="616.6" y="340.6" width="1.7" height="7.7" fill="rgb(78,4,6)"/><rect x="619.3" y="340.6" width="1.7" height="7.7" fill="rgb(50,3,5)"/><rect x="620.7" y="340.6" width="1.7" height="7.7" fill="rgb(53,3,5)"/><rect x="622.0" y="340.6" width="1.7" height="7.7" fill="rgb(53,3,5)"/><rect x="623.4" y="340.6" width="1.7" height="7.7" fill="rgb(77,4,6)"/><rect x="624.7" y="340.6" width="1.7" height="7.7" fill="rgb(98,5,7)"/><rect x="626.1" y="340.6" width="1.7" height="7.7" fill="rgb(57,3,5)"/><rect x="630.1" y="340.6" width="1.7" height="7.7" fill="rgb(51,3,5)"/><rect x="634.2" y="340.6" width="1.7" height="7.7" fill="rgb(55,3,5)"/><rect x="638.3" y="340.6" width="1.7" height="7.7" fill="rgb(72,3,5)"/><rect x="639.6" y="340.6" width="1.7" height="7.7" fill="rgb(71,3,5)"/><rect x="641.0" y="340.6" width="1.7" height="7.7" fill="rgb(55,3,5)"/><rect x="643.7" y="340.6" width="1.7" height="7.7" fill="rgb(173,13,15)"/><rect x="654.5" y="340.6" width="1.7" height="7.7" fill="rgb(70,3,5)"/><rect x="655.9" y="340.6" width="1.7" height="7.7" fill="rgb(60,3,5)"/><rect x="659.9" y="340.6" width="1.7" height="7.7" fill="rgb(136,8,10)"/><rect x="662.6" y="340.6" width="1.7" height="7.7" fill="rgb(66,3,5)"/><rect x="604.4" y="349.8" width="1.7" height="7.7" fill="rgb(170,12,14)"/><rect x="612.5" y="349.8" width="1.7" height="7.7" fill="rgb(46,3,5)"/><rect x="613.9" y="349.8" width="1.7" height="7.7" fill="rgb(70,3,5)"/><rect x="616.6" y="349.8" width="1.7" height="7.7" fill="rgb(187,15,17)"/><rect x="619.3" y="349.8" width="1.7" height="7.7" fill="rgb(63,3,5)"/><rect x="622.0" y="349.8" width="1.7" height="7.7" fill="rgb(50,3,5)"/><rect x="623.4" y="349.8" width="1.7" height="7.7" fill="rgb(68,3,5)"/><rect x="624.7" y="349.8" width="1.7" height="7.7" fill="rgb(125,7,9)"/><rect x="626.1" y="349.8" width="1.7" height="7.7" fill="rgb(50,3,5)"/><rect x="641.0" y="349.8" width="1.7" height="7.7" fill="rgb(61,3,5)"/><rect x="642.3" y="349.8" width="1.7" height="7.7" fill="rgb(56,3,5)"/><rect x="659.9" y="349.8" width="1.7" height="7.7" fill="rgb(136,8,10)"/><rect x="662.6" y="349.8" width="1.7" height="7.7" fill="rgb(54,3,5)"/><rect x="611.2" y="358.9" width="1.7" height="7.7" fill="rgb(58,3,5)"/><rect x="612.5" y="358.9" width="1.7" height="7.7" fill="rgb(60,3,5)"/><rect x="613.9" y="358.9" width="1.7" height="7.7" fill="rgb(97,5,7)"/><rect x="615.2" y="358.9" width="1.7" height="7.7" fill="rgb(53,3,5)"/><rect x="616.6" y="358.9" width="1.7" height="7.7" fill="rgb(67,3,5)"/><rect x="624.7" y="358.9" width="1.7" height="7.7" fill="rgb(70,3,5)"/><rect x="638.3" y="358.9" width="1.7" height="7.7" fill="rgb(46,3,5)"/><rect x="641.0" y="358.9" width="1.7" height="7.7" fill="rgb(51,3,5)"/><rect x="642.3" y="358.9" width="1.7" height="7.7" fill="rgb(52,3,5)"/><rect x="659.9" y="358.9" width="1.7" height="7.7" fill="rgb(136,8,10)"/><rect x="613.9" y="370.7" width="1.7" height="7.7" fill="rgb(105,5,7)"/><rect x="615.2" y="370.7" width="1.7" height="7.7" fill="rgb(96,5,7)"/><rect x="616.6" y="370.7" width="1.7" height="7.7" fill="rgb(62,3,5)"/><rect x="623.4" y="370.7" width="1.7" height="7.7" fill="rgb(93,4,6)"/><rect x="624.7" y="370.7" width="1.7" height="7.7" fill="rgb(170,12,14)"/><rect x="626.1" y="370.7" width="1.7" height="7.7" fill="rgb(85,4,6)"/><rect x="627.4" y="370.7" width="1.7" height="7.7" fill="rgb(74,3,5)"/><rect x="639.6" y="370.7" width="1.7" height="7.7" fill="rgb(74,3,5)"/><rect x="642.3" y="370.7" width="1.7" height="7.7" fill="rgb(47,3,5)"/><rect x="654.5" y="370.7" width="1.7" height="7.7" fill="rgb(58,3,5)"/><rect x="658.6" y="370.7" width="1.7" height="7.7" fill="rgb(50,3,5)"/><rect x="659.9" y="370.7" width="1.7" height="7.7" fill="rgb(136,8,10)"/><rect x="661.3" y="370.7" width="1.7" height="7.7" fill="rgb(48,3,5)"/><rect x="613.9" y="379.8" width="1.7" height="7.7" fill="rgb(107,5,7)"/><rect x="615.2" y="379.8" width="1.7" height="7.7" fill="rgb(65,3,5)"/><rect x="616.6" y="379.8" width="1.7" height="7.7" fill="rgb(76,3,5)"/><rect x="617.9" y="379.8" width="1.7" height="7.7" fill="rgb(48,3,5)"/><rect x="619.3" y="379.8" width="1.7" height="7.7" fill="rgb(58,3,5)"/><rect x="620.7" y="379.8" width="1.7" height="7.7" fill="rgb(51,3,5)"/><rect x="622.0" y="379.8" width="1.7" height="7.7" fill="rgb(58,3,5)"/><rect x="623.4" y="379.8" width="1.7" height="7.7" fill="rgb(136,8,10)"/><rect x="624.7" y="379.8" width="1.7" height="7.7" fill="rgb(116,6,8)"/><rect x="626.1" y="379.8" width="1.7" height="7.7" fill="rgb(88,4,6)"/><rect x="634.2" y="379.8" width="1.7" height="7.7" fill="rgb(162,11,13)"/><rect x="639.6" y="379.8" width="1.7" height="7.7" fill="rgb(55,3,5)"/><rect x="641.0" y="379.8" width="1.7" height="7.7" fill="rgb(64,3,5)"/><rect x="642.3" y="379.8" width="1.7" height="7.7" fill="rgb(59,3,5)"/><rect x="653.2" y="379.8" width="1.7" height="7.7" fill="rgb(74,3,5)"/><rect x="654.5" y="379.8" width="1.7" height="7.7" fill="rgb(79,4,6)"/><rect x="655.9" y="379.8" width="1.7" height="7.7" fill="rgb(60,3,5)"/><rect x="658.6" y="379.8" width="1.7" height="7.7" fill="rgb(60,3,5)"/><rect x="659.9" y="379.8" width="1.7" height="7.7" fill="rgb(79,4,6)"/><rect x="661.3" y="379.8" width="1.7" height="7.7" fill="rgb(63,3,5)"/><rect x="662.6" y="379.8" width="1.7" height="7.7" fill="rgb(82,4,6)"/><rect x="623.4" y="388.9" width="1.7" height="7.7" fill="rgb(103,5,7)"/><rect x="624.7" y="388.9" width="1.7" height="7.7" fill="rgb(153,10,12)"/><rect x="626.1" y="388.9" width="1.7" height="7.7" fill="rgb(119,6,8)"/><rect x="627.4" y="388.9" width="1.7" height="7.7" fill="rgb(68,3,5)"/><rect x="628.8" y="388.9" width="1.7" height="7.7" fill="rgb(46,3,5)"/><rect x="634.2" y="388.9" width="1.7" height="7.7" fill="rgb(162,11,13)"/><rect x="641.0" y="388.9" width="1.7" height="7.7" fill="rgb(61,3,5)"/><rect x="642.3" y="388.9" width="1.7" height="7.7" fill="rgb(65,3,5)"/><rect x="655.9" y="388.9" width="1.7" height="7.7" fill="rgb(74,3,5)"/><rect x="658.6" y="388.9" width="1.7" height="7.7" fill="rgb(51,3,5)"/><rect x="661.3" y="388.9" width="1.7" height="7.7" fill="rgb(68,3,5)"/><rect x="662.6" y="388.9" width="1.7" height="7.7" fill="rgb(102,5,7)"/><rect x="612.5" y="398.0" width="1.7" height="7.7" fill="rgb(71,3,5)"/><rect x="613.9" y="398.0" width="1.7" height="7.7" fill="rgb(108,5,7)"/><rect x="615.2" y="398.0" width="1.7" height="7.7" fill="rgb(105,5,7)"/><rect x="616.6" y="398.0" width="1.7" height="7.7" fill="rgb(89,4,6)"/><rect x="617.9" y="398.0" width="1.7" height="7.7" fill="rgb(66,3,5)"/><rect x="622.0" y="398.0" width="1.7" height="7.7" fill="rgb(73,3,5)"/><rect x="623.4" y="398.0" width="1.7" height="7.7" fill="rgb(89,4,6)"/><rect x="624.7" y="398.0" width="1.7" height="7.7" fill="rgb(104,5,7)"/><rect x="626.1" y="398.0" width="1.7" height="7.7" fill="rgb(80,4,6)"/><rect x="627.4" y="398.0" width="1.7" height="7.7" fill="rgb(84,4,6)"/><rect x="634.2" y="398.0" width="1.7" height="7.7" fill="rgb(162,11,13)"/><rect x="642.3" y="398.0" width="1.7" height="7.7" fill="rgb(59,3,5)"/><rect x="654.5" y="398.0" width="1.7" height="7.7" fill="rgb(68,3,5)"/><rect x="662.6" y="398.0" width="1.7" height="7.7" fill="rgb(157,10,12)"/><rect x="613.9" y="407.1" width="1.7" height="7.7" fill="rgb(97,5,7)"/><rect x="615.2" y="407.1" width="1.7" height="7.7" fill="rgb(82,4,6)"/><rect x="619.3" y="407.1" width="1.7" height="7.7" fill="rgb(71,3,5)"/><rect x="620.7" y="407.1" width="1.7" height="7.7" fill="rgb(84,4,6)"/><rect x="622.0" y="407.1" width="1.7" height="7.7" fill="rgb(107,5,7)"/><rect x="623.4" y="407.1" width="1.7" height="7.7" fill="rgb(112,6,8)"/><rect x="624.7" y="407.1" width="1.7" height="7.7" fill="rgb(162,11,13)"/><rect x="626.1" y="407.1" width="1.7" height="7.7" fill="rgb(65,3,5)"/><rect x="627.4" y="407.1" width="1.7" height="7.7" fill="rgb(54,3,5)"/><rect x="634.2" y="407.1" width="1.7" height="7.7" fill="rgb(162,11,13)"/><rect x="639.6" y="407.1" width="1.7" height="7.7" fill="rgb(84,4,6)"/><rect x="641.0" y="407.1" width="1.7" height="7.7" fill="rgb(126,7,9)"/><rect x="642.3" y="407.1" width="1.7" height="7.7" fill="rgb(83,4,6)"/><rect x="643.7" y="407.1" width="1.7" height="7.7" fill="rgb(48,3,5)"/><rect x="658.6" y="407.1" width="1.7" height="7.7" fill="rgb(73,3,5)"/><rect x="659.9" y="407.1" width="1.7" height="7.7" fill="rgb(84,4,6)"/><rect x="661.3" y="407.1" width="1.7" height="7.7" fill="rgb(119,6,8)"/><rect x="662.6" y="407.1" width="1.7" height="7.7" fill="rgb(130,7,9)"/>
</g>
<path d="M604.4 330.7H664M604.4 339.8H664M604.4 349.0H664M604.4 358.1H664M604.4 367.3H664M604.4 379.1H664M604.4 388.2H664M604.4 397.3H664M604.4 406.4H664M604.4 415.5H664" stroke="#f4f0f0" stroke-width="1.3"/>
<rect x="604.4" y="366.6" width="59.6" height="4.1" fill="#fff"/>
<rect x="604.4" y="414.8" width="59.6" height="5" fill="#fff"/>
</g>
<clipPath id="hc2"><rect x="666.3" y="320" width="64.7" height="98"/></clipPath><g clip-path="url(#hc2)"><g filter="url(#hb)">
<rect x="663.3" y="322.3" width="70.7" height="92" fill="#220304"/>
<rect x="678.7" y="322.3" width="1.7" height="7.7" fill="rgb(65,3,5)"/><rect x="680.1" y="322.3" width="1.7" height="7.7" fill="rgb(124,7,9)"/><rect x="681.4" y="322.3" width="1.7" height="7.7" fill="rgb(139,8,10)"/><rect x="682.8" y="322.3" width="1.7" height="7.7" fill="rgb(119,6,8)"/><rect x="684.2" y="322.3" width="1.7" height="7.7" fill="rgb(87,4,6)"/><rect x="685.6" y="322.3" width="1.7" height="7.7" fill="rgb(87,4,6)"/><rect x="686.9" y="322.3" width="1.7" height="7.7" fill="rgb(71,3,5)"/><rect x="688.3" y="322.3" width="1.7" height="7.7" fill="rgb(97,5,7)"/><rect x="689.7" y="322.3" width="1.7" height="7.7" fill="rgb(84,4,6)"/><rect x="691.1" y="322.3" width="1.7" height="7.7" fill="rgb(58,3,5)"/><rect x="693.8" y="322.3" width="1.7" height="7.7" fill="rgb(49,3,5)"/><rect x="695.2" y="322.3" width="1.7" height="7.7" fill="rgb(113,6,8)"/><rect x="696.6" y="322.3" width="1.7" height="7.7" fill="rgb(73,3,5)"/><rect x="698.0" y="322.3" width="1.7" height="7.7" fill="rgb(61,3,5)"/><rect x="700.7" y="322.3" width="1.7" height="7.7" fill="rgb(115,6,8)"/><rect x="702.1" y="322.3" width="1.7" height="7.7" fill="rgb(96,5,7)"/><rect x="703.5" y="322.3" width="1.7" height="7.7" fill="rgb(99,5,7)"/><rect x="704.8" y="322.3" width="1.7" height="7.7" fill="rgb(96,5,7)"/><rect x="706.2" y="322.3" width="1.7" height="7.7" fill="rgb(95,4,6)"/><rect x="707.6" y="322.3" width="1.7" height="7.7" fill="rgb(91,4,6)"/><rect x="709.0" y="322.3" width="1.7" height="7.7" fill="rgb(106,5,7)"/><rect x="710.4" y="322.3" width="1.7" height="7.7" fill="rgb(139,8,10)"/><rect x="711.7" y="322.3" width="1.7" height="7.7" fill="rgb(181,14,16)"/><rect x="713.1" y="322.3" width="1.7" height="7.7" fill="rgb(145,9,11)"/><rect x="714.5" y="322.3" width="1.7" height="7.7" fill="rgb(122,7,9)"/><rect x="715.9" y="322.3" width="1.7" height="7.7" fill="rgb(75,3,5)"/><rect x="717.2" y="322.3" width="1.7" height="7.7" fill="rgb(94,4,6)"/><rect x="718.6" y="322.3" width="1.7" height="7.7" fill="rgb(141,9,11)"/><rect x="720.0" y="322.3" width="1.7" height="7.7" fill="rgb(118,6,8)"/><rect x="721.4" y="322.3" width="1.7" height="7.7" fill="rgb(89,4,6)"/><rect x="724.1" y="322.3" width="1.7" height="7.7" fill="rgb(70,3,5)"/><rect x="725.5" y="322.3" width="1.7" height="7.7" fill="rgb(105,5,7)"/><rect x="726.9" y="322.3" width="1.7" height="7.7" fill="rgb(104,5,7)"/><rect x="728.2" y="322.3" width="1.7" height="7.7" fill="rgb(77,3,5)"/><rect x="729.6" y="322.3" width="1.7" height="7.7" fill="rgb(134,8,10)"/><rect x="666.3" y="331.4" width="1.7" height="7.7" fill="rgb(69,3,5)"/><rect x="677.3" y="331.4" width="1.7" height="7.7" fill="rgb(97,5,7)"/><rect x="678.7" y="331.4" width="1.7" height="7.7" fill="rgb(237,24,26)"/><rect x="680.1" y="331.4" width="1.7" height="7.7" fill="rgb(79,4,6)"/><rect x="681.4" y="331.4" width="1.7" height="7.7" fill="rgb(87,4,6)"/><rect x="684.2" y="331.4" width="1.7" height="7.7" fill="rgb(102,5,7)"/><rect x="685.6" y="331.4" width="1.7" height="7.7" fill="rgb(98,5,7)"/><rect x="686.9" y="331.4" width="1.7" height="7.7" fill="rgb(182,14,16)"/><rect x="688.3" y="331.4" width="1.7" height="7.7" fill="rgb(82,4,6)"/><rect x="689.7" y="331.4" width="1.7" height="7.7" fill="rgb(116,6,8)"/><rect x="691.1" y="331.4" width="1.7" height="7.7" fill="rgb(97,5,7)"/><rect x="692.5" y="331.4" width="1.7" height="7.7" fill="rgb(109,5,7)"/><rect x="693.8" y="331.4" width="1.7" height="7.7" fill="rgb(89,4,6)"/><rect x="695.2" y="331.4" width="1.7" height="7.7" fill="rgb(95,4,6)"/><rect x="696.6" y="331.4" width="1.7" height="7.7" fill="rgb(87,4,6)"/><rect x="706.2" y="331.4" width="1.7" height="7.7" fill="rgb(68,3,5)"/><rect x="707.6" y="331.4" width="1.7" height="7.7" fill="rgb(70,3,5)"/><rect x="709.0" y="331.4" width="1.7" height="7.7" fill="rgb(84,4,6)"/><rect x="710.4" y="331.4" width="1.7" height="7.7" fill="rgb(128,7,9)"/><rect x="711.7" y="331.4" width="1.7" height="7.7" fill="rgb(148,9,11)"/><rect x="713.1" y="331.4" width="1.7" height="7.7" fill="rgb(157,11,13)"/><rect x="714.5" y="331.4" width="1.7" height="7.7" fill="rgb(115,6,8)"/><rect x="715.9" y="331.4" width="1.7" height="7.7" fill="rgb(91,4,6)"/><rect x="717.2" y="331.4" width="1.7" height="7.7" fill="rgb(100,5,7)"/><rect x="718.6" y="331.4" width="1.7" height="7.7" fill="rgb(114,6,8)"/><rect x="720.0" y="331.4" width="1.7" height="7.7" fill="rgb(119,6,8)"/><rect x="721.4" y="331.4" width="1.7" height="7.7" fill="rgb(139,8,10)"/><rect x="722.7" y="331.4" width="1.7" height="7.7" fill="rgb(94,4,6)"/><rect x="724.1" y="331.4" width="1.7" height="7.7" fill="rgb(135,8,10)"/><rect x="725.5" y="331.4" width="1.7" height="7.7" fill="rgb(79,4,6)"/><rect x="726.9" y="331.4" width="1.7" height="7.7" fill="rgb(103,5,7)"/><rect x="729.6" y="331.4" width="1.7" height="7.7" fill="rgb(87,4,6)"/><rect x="669.1" y="340.6" width="1.7" height="7.7" fill="rgb(50,3,5)"/><rect x="677.3" y="340.6" width="1.7" height="7.7" fill="rgb(58,3,5)"/><rect x="678.7" y="340.6" width="1.7" height="7.7" fill="rgb(46,3,5)"/><rect x="680.1" y="340.6" width="1.7" height="7.7" fill="rgb(50,3,5)"/><rect x="682.8" y="340.6" width="1.7" height="7.7" fill="rgb(60,3,5)"/><rect x="684.2" y="340.6" width="1.7" height="7.7" fill="rgb(71,3,5)"/><rect x="685.6" y="340.6" width="1.7" height="7.7" fill="rgb(75,3,5)"/><rect x="686.9" y="340.6" width="1.7" height="7.7" fill="rgb(85,4,6)"/><rect x="688.3" y="340.6" width="1.7" height="7.7" fill="rgb(113,6,8)"/><rect x="689.7" y="340.6" width="1.7" height="7.7" fill="rgb(148,9,11)"/><rect x="691.1" y="340.6" width="1.7" height="7.7" fill="rgb(128,7,9)"/><rect x="692.5" y="340.6" width="1.7" height="7.7" fill="rgb(112,6,8)"/><rect x="693.8" y="340.6" width="1.7" height="7.7" fill="rgb(65,3,5)"/><rect x="698.0" y="340.6" width="1.7" height="7.7" fill="rgb(49,3,5)"/><rect x="699.3" y="340.6" width="1.7" height="7.7" fill="rgb(100,5,7)"/><rect x="700.7" y="340.6" width="1.7" height="7.7" fill="rgb(129,7,9)"/><rect x="702.1" y="340.6" width="1.7" height="7.7" fill="rgb(104,5,7)"/><rect x="703.5" y="340.6" width="1.7" height="7.7" fill="rgb(120,6,8)"/><rect x="704.8" y="340.6" width="1.7" height="7.7" fill="rgb(98,5,7)"/><rect x="706.2" y="340.6" width="1.7" height="7.7" fill="rgb(112,6,8)"/><rect x="707.6" y="340.6" width="1.7" height="7.7" fill="rgb(87,4,6)"/><rect x="709.0" y="340.6" width="1.7" height="7.7" fill="rgb(137,8,10)"/><rect x="710.4" y="340.6" width="1.7" height="7.7" fill="rgb(137,8,10)"/><rect x="711.7" y="340.6" width="1.7" height="7.7" fill="rgb(156,10,12)"/><rect x="713.1" y="340.6" width="1.7" height="7.7" fill="rgb(123,7,9)"/><rect x="714.5" y="340.6" width="1.7" height="7.7" fill="rgb(147,9,11)"/><rect x="715.9" y="340.6" width="1.7" height="7.7" fill="rgb(95,4,6)"/><rect x="717.2" y="340.6" width="1.7" height="7.7" fill="rgb(76,3,5)"/><rect x="718.6" y="340.6" width="1.7" height="7.7" fill="rgb(46,3,5)"/><rect x="720.0" y="340.6" width="1.7" height="7.7" fill="rgb(81,4,6)"/><rect x="721.4" y="340.6" width="1.7" height="7.7" fill="rgb(117,6,8)"/><rect x="722.7" y="340.6" width="1.7" height="7.7" fill="rgb(92,4,6)"/><rect x="724.1" y="340.6" width="1.7" height="7.7" fill="rgb(97,5,7)"/><rect x="725.5" y="340.6" width="1.7" height="7.7" fill="rgb(87,4,6)"/><rect x="726.9" y="340.6" width="1.7" height="7.7" fill="rgb(102,5,7)"/><rect x="728.2" y="340.6" width="1.7" height="7.7" fill="rgb(110,6,8)"/><rect x="729.6" y="340.6" width="1.7" height="7.7" fill="rgb(171,12,14)"/><rect x="677.3" y="349.8" width="1.7" height="7.7" fill="rgb(84,4,6)"/><rect x="678.7" y="349.8" width="1.7" height="7.7" fill="rgb(77,4,6)"/><rect x="680.1" y="349.8" width="1.7" height="7.7" fill="rgb(93,4,6)"/><rect x="681.4" y="349.8" width="1.7" height="7.7" fill="rgb(70,3,5)"/><rect x="684.2" y="349.8" width="1.7" height="7.7" fill="rgb(95,4,6)"/><rect x="685.6" y="349.8" width="1.7" height="7.7" fill="rgb(118,6,8)"/><rect x="686.9" y="349.8" width="1.7" height="7.7" fill="rgb(129,7,9)"/><rect x="688.3" y="349.8" width="1.7" height="7.7" fill="rgb(81,4,6)"/><rect x="689.7" y="349.8" width="1.7" height="7.7" fill="rgb(111,6,8)"/><rect x="691.1" y="349.8" width="1.7" height="7.7" fill="rgb(119,6,8)"/><rect x="692.5" y="349.8" width="1.7" height="7.7" fill="rgb(153,10,12)"/><rect x="693.8" y="349.8" width="1.7" height="7.7" fill="rgb(102,5,7)"/><rect x="695.2" y="349.8" width="1.7" height="7.7" fill="rgb(93,4,6)"/><rect x="703.5" y="349.8" width="1.7" height="7.7" fill="rgb(106,5,7)"/><rect x="704.8" y="349.8" width="1.7" height="7.7" fill="rgb(128,7,9)"/><rect x="706.2" y="349.8" width="1.7" height="7.7" fill="rgb(138,8,10)"/><rect x="707.6" y="349.8" width="1.7" height="7.7" fill="rgb(65,3,5)"/><rect x="709.0" y="349.8" width="1.7" height="7.7" fill="rgb(118,6,8)"/><rect x="710.4" y="349.8" width="1.7" height="7.7" fill="rgb(152,10,12)"/><rect x="711.7" y="349.8" width="1.7" height="7.7" fill="rgb(175,13,15)"/><rect x="713.1" y="349.8" width="1.7" height="7.7" fill="rgb(147,9,11)"/><rect x="714.5" y="349.8" width="1.7" height="7.7" fill="rgb(136,8,10)"/><rect x="715.9" y="349.8" width="1.7" height="7.7" fill="rgb(135,8,10)"/><rect x="717.2" y="349.8" width="1.7" height="7.7" fill="rgb(129,7,9)"/><rect x="718.6" y="349.8" width="1.7" height="7.7" fill="rgb(88,4,6)"/><rect x="720.0" y="349.8" width="1.7" height="7.7" fill="rgb(78,4,6)"/><rect x="721.4" y="349.8" width="1.7" height="7.7" fill="rgb(47,3,5)"/><rect x="722.7" y="349.8" width="1.7" height="7.7" fill="rgb(55,3,5)"/><rect x="724.1" y="349.8" width="1.7" height="7.7" fill="rgb(102,5,7)"/><rect x="725.5" y="349.8" width="1.7" height="7.7" fill="rgb(110,6,8)"/><rect x="726.9" y="349.8" width="1.7" height="7.7" fill="rgb(103,5,7)"/><rect x="728.2" y="349.8" width="1.7" height="7.7" fill="rgb(60,3,5)"/><rect x="729.6" y="349.8" width="1.7" height="7.7" fill="rgb(128,7,9)"/><rect x="667.7" y="358.9" width="1.7" height="7.7" fill="rgb(70,3,5)"/><rect x="669.1" y="358.9" width="1.7" height="7.7" fill="rgb(63,3,5)"/><rect x="670.4" y="358.9" width="1.7" height="7.7" fill="rgb(59,3,5)"/><rect x="675.9" y="358.9" width="1.7" height="7.7" fill="rgb(78,4,6)"/><rect x="677.3" y="358.9" width="1.7" height="7.7" fill="rgb(112,6,8)"/><rect x="678.7" y="358.9" width="1.7" height="7.7" fill="rgb(87,4,6)"/><rect x="680.1" y="358.9" width="1.7" height="7.7" fill="rgb(78,4,6)"/><rect x="681.4" y="358.9" width="1.7" height="7.7" fill="rgb(80,4,6)"/><rect x="682.8" y="358.9" width="1.7" height="7.7" fill="rgb(105,5,7)"/><rect x="684.2" y="358.9" width="1.7" height="7.7" fill="rgb(126,7,9)"/><rect x="685.6" y="358.9" width="1.7" height="7.7" fill="rgb(150,10,12)"/><rect x="686.9" y="358.9" width="1.7" height="7.7" fill="rgb(138,8,10)"/><rect x="688.3" y="358.9" width="1.7" height="7.7" fill="rgb(148,9,11)"/><rect x="689.7" y="358.9" width="1.7" height="7.7" fill="rgb(129,7,9)"/><rect x="691.1" y="358.9" width="1.7" height="7.7" fill="rgb(67,3,5)"/><rect x="692.5" y="358.9" width="1.7" height="7.7" fill="rgb(50,3,5)"/><rect x="695.2" y="358.9" width="1.7" height="7.7" fill="rgb(85,4,6)"/><rect x="700.7" y="358.9" width="1.7" height="7.7" fill="rgb(65,3,5)"/><rect x="702.1" y="358.9" width="1.7" height="7.7" fill="rgb(58,3,5)"/><rect x="703.5" y="358.9" width="1.7" height="7.7" fill="rgb(66,3,5)"/><rect x="704.8" y="358.9" width="1.7" height="7.7" fill="rgb(61,3,5)"/><rect x="706.2" y="358.9" width="1.7" height="7.7" fill="rgb(79,4,6)"/><rect x="709.0" y="358.9" width="1.7" height="7.7" fill="rgb(108,5,7)"/><rect x="710.4" y="358.9" width="1.7" height="7.7" fill="rgb(135,8,10)"/><rect x="711.7" y="358.9" width="1.7" height="7.7" fill="rgb(164,11,13)"/><rect x="713.1" y="358.9" width="1.7" height="7.7" fill="rgb(121,7,9)"/><rect x="714.5" y="358.9" width="1.7" height="7.7" fill="rgb(85,4,6)"/><rect x="715.9" y="358.9" width="1.7" height="7.7" fill="rgb(99,5,7)"/><rect x="717.2" y="358.9" width="1.7" height="7.7" fill="rgb(113,6,8)"/><rect x="718.6" y="358.9" width="1.7" height="7.7" fill="rgb(117,6,8)"/><rect x="720.0" y="358.9" width="1.7" height="7.7" fill="rgb(98,5,7)"/><rect x="721.4" y="358.9" width="1.7" height="7.7" fill="rgb(107,5,7)"/><rect x="722.7" y="358.9" width="1.7" height="7.7" fill="rgb(118,6,8)"/><rect x="724.1" y="358.9" width="1.7" height="7.7" fill="rgb(162,11,13)"/><rect x="725.5" y="358.9" width="1.7" height="7.7" fill="rgb(170,12,14)"/><rect x="726.9" y="358.9" width="1.7" height="7.7" fill="rgb(177,13,15)"/><rect x="728.2" y="358.9" width="1.7" height="7.7" fill="rgb(96,5,7)"/><rect x="729.6" y="358.9" width="1.7" height="7.7" fill="rgb(147,9,11)"/><rect x="669.1" y="370.7" width="1.7" height="7.7" fill="rgb(50,3,5)"/><rect x="670.4" y="370.7" width="1.7" height="7.7" fill="rgb(61,3,5)"/><rect x="674.6" y="370.7" width="1.7" height="7.7" fill="rgb(77,3,5)"/><rect x="675.9" y="370.7" width="1.7" height="7.7" fill="rgb(55,3,5)"/><rect x="677.3" y="370.7" width="1.7" height="7.7" fill="rgb(62,3,5)"/><rect x="680.1" y="370.7" width="1.7" height="7.7" fill="rgb(102,5,7)"/><rect x="681.4" y="370.7" width="1.7" height="7.7" fill="rgb(127,7,9)"/><rect x="682.8" y="370.7" width="1.7" height="7.7" fill="rgb(81,4,6)"/><rect x="684.2" y="370.7" width="1.7" height="7.7" fill="rgb(92,4,6)"/><rect x="685.6" y="370.7" width="1.7" height="7.7" fill="rgb(58,3,5)"/><rect x="686.9" y="370.7" width="1.7" height="7.7" fill="rgb(68,3,5)"/><rect x="689.7" y="370.7" width="1.7" height="7.7" fill="rgb(67,3,5)"/><rect x="692.5" y="370.7" width="1.7" height="7.7" fill="rgb(76,3,5)"/><rect x="695.2" y="370.7" width="1.7" height="7.7" fill="rgb(114,6,8)"/><rect x="698.0" y="370.7" width="1.7" height="7.7" fill="rgb(81,4,6)"/><rect x="700.7" y="370.7" width="1.7" height="7.7" fill="rgb(68,3,5)"/><rect x="703.5" y="370.7" width="1.7" height="7.7" fill="rgb(79,4,6)"/><rect x="704.8" y="370.7" width="1.7" height="7.7" fill="rgb(133,8,10)"/><rect x="706.2" y="370.7" width="1.7" height="7.7" fill="rgb(194,16,18)"/><rect x="707.6" y="370.7" width="1.7" height="7.7" fill="rgb(64,3,5)"/><rect x="710.4" y="370.7" width="1.7" height="7.7" fill="rgb(85,4,6)"/><rect x="711.7" y="370.7" width="1.7" height="7.7" fill="rgb(137,8,10)"/><rect x="713.1" y="370.7" width="1.7" height="7.7" fill="rgb(147,9,11)"/><rect x="714.5" y="370.7" width="1.7" height="7.7" fill="rgb(134,8,10)"/><rect x="715.9" y="370.7" width="1.7" height="7.7" fill="rgb(96,5,7)"/><rect x="717.2" y="370.7" width="1.7" height="7.7" fill="rgb(86,4,6)"/><rect x="718.6" y="370.7" width="1.7" height="7.7" fill="rgb(111,6,8)"/><rect x="720.0" y="370.7" width="1.7" height="7.7" fill="rgb(93,4,6)"/><rect x="721.4" y="370.7" width="1.7" height="7.7" fill="rgb(85,4,6)"/><rect x="724.1" y="370.7" width="1.7" height="7.7" fill="rgb(47,3,5)"/><rect x="726.9" y="370.7" width="1.7" height="7.7" fill="rgb(61,3,5)"/><rect x="729.6" y="370.7" width="1.7" height="7.7" fill="rgb(113,6,8)"/><rect x="673.2" y="379.8" width="1.7" height="7.7" fill="rgb(226,22,24)"/><rect x="677.3" y="379.8" width="1.7" height="7.7" fill="rgb(65,3,5)"/><rect x="680.1" y="379.8" width="1.7" height="7.7" fill="rgb(107,5,7)"/><rect x="681.4" y="379.8" width="1.7" height="7.7" fill="rgb(77,3,5)"/><rect x="682.8" y="379.8" width="1.7" height="7.7" fill="rgb(85,4,6)"/><rect x="684.2" y="379.8" width="1.7" height="7.7" fill="rgb(71,3,5)"/><rect x="685.6" y="379.8" width="1.7" height="7.7" fill="rgb(91,4,6)"/><rect x="686.9" y="379.8" width="1.7" height="7.7" fill="rgb(58,3,5)"/><rect x="689.7" y="379.8" width="1.7" height="7.7" fill="rgb(76,3,5)"/><rect x="691.1" y="379.8" width="1.7" height="7.7" fill="rgb(108,5,7)"/><rect x="692.5" y="379.8" width="1.7" height="7.7" fill="rgb(155,10,12)"/><rect x="693.8" y="379.8" width="1.7" height="7.7" fill="rgb(75,3,5)"/><rect x="695.2" y="379.8" width="1.7" height="7.7" fill="rgb(52,3,5)"/><rect x="703.5" y="379.8" width="1.7" height="7.7" fill="rgb(103,5,7)"/><rect x="704.8" y="379.8" width="1.7" height="7.7" fill="rgb(125,7,9)"/><rect x="706.2" y="379.8" width="1.7" height="7.7" fill="rgb(171,12,14)"/><rect x="707.6" y="379.8" width="1.7" height="7.7" fill="rgb(117,6,8)"/><rect x="709.0" y="379.8" width="1.7" height="7.7" fill="rgb(102,5,7)"/><rect x="710.4" y="379.8" width="1.7" height="7.7" fill="rgb(104,5,7)"/><rect x="711.7" y="379.8" width="1.7" height="7.7" fill="rgb(200,17,19)"/><rect x="713.1" y="379.8" width="1.7" height="7.7" fill="rgb(173,13,15)"/><rect x="714.5" y="379.8" width="1.7" height="7.7" fill="rgb(147,9,11)"/><rect x="715.9" y="379.8" width="1.7" height="7.7" fill="rgb(143,9,11)"/><rect x="717.2" y="379.8" width="1.7" height="7.7" fill="rgb(79,4,6)"/><rect x="718.6" y="379.8" width="1.7" height="7.7" fill="rgb(106,5,7)"/><rect x="720.0" y="379.8" width="1.7" height="7.7" fill="rgb(98,5,7)"/><rect x="721.4" y="379.8" width="1.7" height="7.7" fill="rgb(148,9,11)"/><rect x="722.7" y="379.8" width="1.7" height="7.7" fill="rgb(97,5,7)"/><rect x="724.1" y="379.8" width="1.7" height="7.7" fill="rgb(100,5,7)"/><rect x="725.5" y="379.8" width="1.7" height="7.7" fill="rgb(92,4,6)"/><rect x="726.9" y="379.8" width="1.7" height="7.7" fill="rgb(86,4,6)"/><rect x="728.2" y="379.8" width="1.7" height="7.7" fill="rgb(68,3,5)"/><rect x="729.6" y="379.8" width="1.7" height="7.7" fill="rgb(141,9,11)"/><rect x="669.1" y="388.9" width="1.7" height="7.7" fill="rgb(64,3,5)"/><rect x="670.4" y="388.9" width="1.7" height="7.7" fill="rgb(79,4,6)"/><rect x="677.3" y="388.9" width="1.7" height="7.7" fill="rgb(64,3,5)"/><rect x="678.7" y="388.9" width="1.7" height="7.7" fill="rgb(79,4,6)"/><rect x="680.1" y="388.9" width="1.7" height="7.7" fill="rgb(131,8,10)"/><rect x="681.4" y="388.9" width="1.7" height="7.7" fill="rgb(114,6,8)"/><rect x="682.8" y="388.9" width="1.7" height="7.7" fill="rgb(71,3,5)"/><rect x="684.2" y="388.9" width="1.7" height="7.7" fill="rgb(65,3,5)"/><rect x="685.6" y="388.9" width="1.7" height="7.7" fill="rgb(91,4,6)"/><rect x="686.9" y="388.9" width="1.7" height="7.7" fill="rgb(75,3,5)"/><rect x="688.3" y="388.9" width="1.7" height="7.7" fill="rgb(111,6,8)"/><rect x="689.7" y="388.9" width="1.7" height="7.7" fill="rgb(90,4,6)"/><rect x="691.1" y="388.9" width="1.7" height="7.7" fill="rgb(69,3,5)"/><rect x="692.5" y="388.9" width="1.7" height="7.7" fill="rgb(64,3,5)"/><rect x="693.8" y="388.9" width="1.7" height="7.7" fill="rgb(85,4,6)"/><rect x="695.2" y="388.9" width="1.7" height="7.7" fill="rgb(110,6,8)"/><rect x="696.6" y="388.9" width="1.7" height="7.7" fill="rgb(74,3,5)"/><rect x="698.0" y="388.9" width="1.7" height="7.7" fill="rgb(47,3,5)"/><rect x="699.3" y="388.9" width="1.7" height="7.7" fill="rgb(49,3,5)"/><rect x="700.7" y="388.9" width="1.7" height="7.7" fill="rgb(68,3,5)"/><rect x="703.5" y="388.9" width="1.7" height="7.7" fill="rgb(101,5,7)"/><rect x="704.8" y="388.9" width="1.7" height="7.7" fill="rgb(111,6,8)"/><rect x="706.2" y="388.9" width="1.7" height="7.7" fill="rgb(153,10,12)"/><rect x="707.6" y="388.9" width="1.7" height="7.7" fill="rgb(169,12,14)"/><rect x="709.0" y="388.9" width="1.7" height="7.7" fill="rgb(183,14,16)"/><rect x="710.4" y="388.9" width="1.7" height="7.7" fill="rgb(190,15,17)"/><rect x="711.7" y="388.9" width="1.7" height="7.7" fill="rgb(200,17,19)"/><rect x="713.1" y="388.9" width="1.7" height="7.7" fill="rgb(171,12,14)"/><rect x="714.5" y="388.9" width="1.7" height="7.7" fill="rgb(181,14,16)"/><rect x="715.9" y="388.9" width="1.7" height="7.7" fill="rgb(156,10,12)"/><rect x="717.2" y="388.9" width="1.7" height="7.7" fill="rgb(144,9,11)"/><rect x="718.6" y="388.9" width="1.7" height="7.7" fill="rgb(156,10,12)"/><rect x="720.0" y="388.9" width="1.7" height="7.7" fill="rgb(136,8,10)"/><rect x="721.4" y="388.9" width="1.7" height="7.7" fill="rgb(108,5,7)"/><rect x="724.1" y="388.9" width="1.7" height="7.7" fill="rgb(82,4,6)"/><rect x="725.5" y="388.9" width="1.7" height="7.7" fill="rgb(97,5,7)"/><rect x="726.9" y="388.9" width="1.7" height="7.7" fill="rgb(93,4,6)"/><rect x="729.6" y="388.9" width="1.7" height="7.7" fill="rgb(88,4,6)"/><rect x="666.3" y="398.0" width="1.7" height="7.7" fill="rgb(47,3,5)"/><rect x="669.1" y="398.0" width="1.7" height="7.7" fill="rgb(180,14,16)"/><rect x="680.1" y="398.0" width="1.7" height="7.7" fill="rgb(47,3,5)"/><rect x="685.6" y="398.0" width="1.7" height="7.7" fill="rgb(63,3,5)"/><rect x="686.9" y="398.0" width="1.7" height="7.7" fill="rgb(106,5,7)"/><rect x="688.3" y="398.0" width="1.7" height="7.7" fill="rgb(94,4,6)"/><rect x="689.7" y="398.0" width="1.7" height="7.7" fill="rgb(145,9,11)"/><rect x="691.1" y="398.0" width="1.7" height="7.7" fill="rgb(102,5,7)"/><rect x="692.5" y="398.0" width="1.7" height="7.7" fill="rgb(156,10,12)"/><rect x="693.8" y="398.0" width="1.7" height="7.7" fill="rgb(122,7,9)"/><rect x="695.2" y="398.0" width="1.7" height="7.7" fill="rgb(157,10,12)"/><rect x="696.6" y="398.0" width="1.7" height="7.7" fill="rgb(110,6,8)"/><rect x="698.0" y="398.0" width="1.7" height="7.7" fill="rgb(64,3,5)"/><rect x="699.3" y="398.0" width="1.7" height="7.7" fill="rgb(60,3,5)"/><rect x="700.7" y="398.0" width="1.7" height="7.7" fill="rgb(68,3,5)"/><rect x="702.1" y="398.0" width="1.7" height="7.7" fill="rgb(57,3,5)"/><rect x="703.5" y="398.0" width="1.7" height="7.7" fill="rgb(61,3,5)"/><rect x="704.8" y="398.0" width="1.7" height="7.7" fill="rgb(83,4,6)"/><rect x="706.2" y="398.0" width="1.7" height="7.7" fill="rgb(84,4,6)"/><rect x="707.6" y="398.0" width="1.7" height="7.7" fill="rgb(169,12,14)"/><rect x="709.0" y="398.0" width="1.7" height="7.7" fill="rgb(83,4,6)"/><rect x="710.4" y="398.0" width="1.7" height="7.7" fill="rgb(145,9,11)"/><rect x="711.7" y="398.0" width="1.7" height="7.7" fill="rgb(200,17,19)"/><rect x="713.1" y="398.0" width="1.7" height="7.7" fill="rgb(90,4,6)"/><rect x="715.9" y="398.0" width="1.7" height="7.7" fill="rgb(60,3,5)"/><rect x="717.2" y="398.0" width="1.7" height="7.7" fill="rgb(94,4,6)"/><rect x="718.6" y="398.0" width="1.7" height="7.7" fill="rgb(108,5,7)"/><rect x="720.0" y="398.0" width="1.7" height="7.7" fill="rgb(111,6,8)"/><rect x="721.4" y="398.0" width="1.7" height="7.7" fill="rgb(94,4,6)"/><rect x="722.7" y="398.0" width="1.7" height="7.7" fill="rgb(89,4,6)"/><rect x="724.1" y="398.0" width="1.7" height="7.7" fill="rgb(107,5,7)"/><rect x="725.5" y="398.0" width="1.7" height="7.7" fill="rgb(127,7,9)"/><rect x="726.9" y="398.0" width="1.7" height="7.7" fill="rgb(90,4,6)"/><rect x="728.2" y="398.0" width="1.7" height="7.7" fill="rgb(88,4,6)"/><rect x="729.6" y="398.0" width="1.7" height="7.7" fill="rgb(137,8,10)"/><rect x="669.1" y="407.1" width="1.7" height="7.7" fill="rgb(180,14,16)"/><rect x="681.4" y="407.1" width="1.7" height="7.7" fill="rgb(85,4,6)"/><rect x="682.8" y="407.1" width="1.7" height="7.7" fill="rgb(114,6,8)"/><rect x="684.2" y="407.1" width="1.7" height="7.7" fill="rgb(143,9,11)"/><rect x="685.6" y="407.1" width="1.7" height="7.7" fill="rgb(142,9,11)"/><rect x="686.9" y="407.1" width="1.7" height="7.7" fill="rgb(122,7,9)"/><rect x="688.3" y="407.1" width="1.7" height="7.7" fill="rgb(128,7,9)"/><rect x="689.7" y="407.1" width="1.7" height="7.7" fill="rgb(128,7,9)"/><rect x="691.1" y="407.1" width="1.7" height="7.7" fill="rgb(101,5,7)"/><rect x="692.5" y="407.1" width="1.7" height="7.7" fill="rgb(72,3,5)"/><rect x="700.7" y="407.1" width="1.7" height="7.7" fill="rgb(51,3,5)"/><rect x="703.5" y="407.1" width="1.7" height="7.7" fill="rgb(71,3,5)"/><rect x="704.8" y="407.1" width="1.7" height="7.7" fill="rgb(124,7,9)"/><rect x="706.2" y="407.1" width="1.7" height="7.7" fill="rgb(158,11,13)"/><rect x="707.6" y="407.1" width="1.7" height="7.7" fill="rgb(169,12,14)"/><rect x="709.0" y="407.1" width="1.7" height="7.7" fill="rgb(132,8,10)"/><rect x="710.4" y="407.1" width="1.7" height="7.7" fill="rgb(100,5,7)"/><rect x="711.7" y="407.1" width="1.7" height="7.7" fill="rgb(142,9,11)"/><rect x="713.1" y="407.1" width="1.7" height="7.7" fill="rgb(128,7,9)"/><rect x="714.5" y="407.1" width="1.7" height="7.7" fill="rgb(177,13,15)"/><rect x="715.9" y="407.1" width="1.7" height="7.7" fill="rgb(114,6,8)"/><rect x="717.2" y="407.1" width="1.7" height="7.7" fill="rgb(81,4,6)"/><rect x="718.6" y="407.1" width="1.7" height="7.7" fill="rgb(53,3,5)"/><rect x="720.0" y="407.1" width="1.7" height="7.7" fill="rgb(101,5,7)"/><rect x="721.4" y="407.1" width="1.7" height="7.7" fill="rgb(142,9,11)"/><rect x="722.7" y="407.1" width="1.7" height="7.7" fill="rgb(90,4,6)"/><rect x="724.1" y="407.1" width="1.7" height="7.7" fill="rgb(116,6,8)"/><rect x="725.5" y="407.1" width="1.7" height="7.7" fill="rgb(80,4,6)"/><rect x="726.9" y="407.1" width="1.7" height="7.7" fill="rgb(82,4,6)"/><rect x="729.6" y="407.1" width="1.7" height="7.7" fill="rgb(89,4,6)"/>
</g>
<path d="M666.3 330.7H731M666.3 339.8H731M666.3 349.0H731M666.3 358.1H731M666.3 367.3H731M666.3 379.1H731M666.3 388.2H731M666.3 397.3H731M666.3 406.4H731M666.3 415.5H731" stroke="#f4f0f0" stroke-width="1.3"/>
<rect x="666.3" y="366.6" width="64.7" height="4.1" fill="#fff"/>
<rect x="666.3" y="414.8" width="64.7" height="5" fill="#fff"/>
</g>
<clipPath id="hc3"><rect x="733.3" y="320" width="28.7" height="98"/></clipPath><g clip-path="url(#hc3)"><g filter="url(#hb)">
<rect x="730.3" y="322.3" width="34.7" height="92" fill="#220304"/>
<rect x="733.3" y="322.3" width="1.7" height="7.7" fill="rgb(157,10,12)"/><rect x="751.1" y="322.3" width="1.7" height="7.7" fill="rgb(210,19,21)"/><rect x="733.3" y="331.4" width="1.7" height="7.7" fill="rgb(82,4,6)"/><rect x="734.7" y="331.4" width="1.7" height="7.7" fill="rgb(67,3,5)"/><rect x="736.0" y="331.4" width="1.7" height="7.7" fill="rgb(62,3,5)"/><rect x="737.4" y="331.4" width="1.7" height="7.7" fill="rgb(48,3,5)"/><rect x="751.1" y="331.4" width="1.7" height="7.7" fill="rgb(184,14,16)"/><rect x="733.3" y="340.6" width="1.7" height="7.7" fill="rgb(64,3,5)"/><rect x="734.7" y="340.6" width="1.7" height="7.7" fill="rgb(55,3,5)"/><rect x="741.5" y="340.6" width="1.7" height="7.7" fill="rgb(60,3,5)"/><rect x="742.9" y="340.6" width="1.7" height="7.7" fill="rgb(72,3,5)"/><rect x="745.6" y="340.6" width="1.7" height="7.7" fill="rgb(50,3,5)"/><rect x="753.8" y="340.6" width="1.7" height="7.7" fill="rgb(51,3,5)"/><rect x="733.3" y="349.8" width="1.7" height="7.7" fill="rgb(61,3,5)"/><rect x="751.1" y="349.8" width="1.7" height="7.7" fill="rgb(77,4,6)"/><rect x="733.3" y="358.9" width="1.7" height="7.7" fill="rgb(89,4,6)"/><rect x="734.7" y="358.9" width="1.7" height="7.7" fill="rgb(99,5,7)"/><rect x="741.5" y="358.9" width="1.7" height="7.7" fill="rgb(52,3,5)"/><rect x="742.9" y="358.9" width="1.7" height="7.7" fill="rgb(63,3,5)"/><rect x="745.6" y="358.9" width="1.7" height="7.7" fill="rgb(96,5,7)"/><rect x="747.0" y="358.9" width="1.7" height="7.7" fill="rgb(89,4,6)"/><rect x="748.3" y="358.9" width="1.7" height="7.7" fill="rgb(71,3,5)"/><rect x="751.1" y="358.9" width="1.7" height="7.7" fill="rgb(57,3,5)"/><rect x="734.7" y="370.7" width="1.7" height="7.7" fill="rgb(85,4,6)"/><rect x="736.0" y="370.7" width="1.7" height="7.7" fill="rgb(56,3,5)"/><rect x="747.0" y="370.7" width="1.7" height="7.7" fill="rgb(55,3,5)"/><rect x="749.7" y="370.7" width="1.7" height="7.7" fill="rgb(50,3,5)"/><rect x="733.3" y="379.8" width="1.7" height="7.7" fill="rgb(79,4,6)"/><rect x="734.7" y="379.8" width="1.7" height="7.7" fill="rgb(107,5,7)"/><rect x="736.0" y="379.8" width="1.7" height="7.7" fill="rgb(64,3,5)"/><rect x="741.5" y="379.8" width="1.7" height="7.7" fill="rgb(84,4,6)"/><rect x="742.9" y="379.8" width="1.7" height="7.7" fill="rgb(86,4,6)"/><rect x="745.6" y="379.8" width="1.7" height="7.7" fill="rgb(70,3,5)"/><rect x="747.0" y="379.8" width="1.7" height="7.7" fill="rgb(50,3,5)"/><rect x="744.2" y="388.9" width="1.7" height="7.7" fill="rgb(55,3,5)"/><rect x="745.6" y="388.9" width="1.7" height="7.7" fill="rgb(93,4,6)"/><rect x="747.0" y="388.9" width="1.7" height="7.7" fill="rgb(76,3,5)"/><rect x="751.1" y="388.9" width="1.7" height="7.7" fill="rgb(64,3,5)"/><rect x="752.4" y="388.9" width="1.7" height="7.7" fill="rgb(61,3,5)"/><rect x="734.7" y="398.0" width="1.7" height="7.7" fill="rgb(89,4,6)"/><rect x="737.4" y="398.0" width="1.7" height="7.7" fill="rgb(50,3,5)"/><rect x="749.7" y="398.0" width="1.7" height="7.7" fill="rgb(49,3,5)"/><rect x="751.1" y="398.0" width="1.7" height="7.7" fill="rgb(212,19,21)"/><rect x="752.4" y="398.0" width="1.7" height="7.7" fill="rgb(67,3,5)"/><rect x="734.7" y="407.1" width="1.7" height="7.7" fill="rgb(71,3,5)"/><rect x="736.0" y="407.1" width="1.7" height="7.7" fill="rgb(72,3,5)"/><rect x="737.4" y="407.1" width="1.7" height="7.7" fill="rgb(72,3,5)"/><rect x="738.8" y="407.1" width="1.7" height="7.7" fill="rgb(81,4,6)"/><rect x="740.1" y="407.1" width="1.7" height="7.7" fill="rgb(79,4,6)"/><rect x="741.5" y="407.1" width="1.7" height="7.7" fill="rgb(56,3,5)"/><rect x="745.6" y="407.1" width="1.7" height="7.7" fill="rgb(76,3,5)"/><rect x="747.0" y="407.1" width="1.7" height="7.7" fill="rgb(66,3,5)"/><rect x="748.3" y="407.1" width="1.7" height="7.7" fill="rgb(238,24,26)"/><rect x="749.7" y="407.1" width="1.7" height="7.7" fill="rgb(73,3,5)"/><rect x="751.1" y="407.1" width="1.7" height="7.7" fill="rgb(56,3,5)"/>
</g>
<path d="M733.3 330.7H762M733.3 339.8H762M733.3 349.0H762M733.3 358.1H762M733.3 367.3H762M733.3 379.1H762M733.3 388.2H762M733.3 397.3H762M733.3 406.4H762M733.3 415.5H762" stroke="#f4f0f0" stroke-width="1.3"/>
<rect x="733.3" y="366.6" width="28.7" height="4.1" fill="#fff"/>
<rect x="733.3" y="414.8" width="28.7" height="5" fill="#fff"/>
</g>
<clipPath id="hc4"><rect x="764.4" y="320" width="51.6" height="98"/></clipPath><g clip-path="url(#hc4)"><g filter="url(#hb)">
<rect x="761.4" y="322.3" width="57.6" height="92" fill="#220304"/>
<rect x="767.1" y="322.3" width="1.7" height="7.7" fill="rgb(104,5,7)"/><rect x="768.5" y="322.3" width="1.7" height="7.7" fill="rgb(81,4,6)"/><rect x="769.8" y="322.3" width="1.7" height="7.7" fill="rgb(108,5,7)"/><rect x="771.2" y="322.3" width="1.7" height="7.7" fill="rgb(59,3,5)"/><rect x="772.5" y="322.3" width="1.7" height="7.7" fill="rgb(71,3,5)"/><rect x="775.3" y="322.3" width="1.7" height="7.7" fill="rgb(96,5,7)"/><rect x="776.6" y="322.3" width="1.7" height="7.7" fill="rgb(104,5,7)"/><rect x="778.0" y="322.3" width="1.7" height="7.7" fill="rgb(184,14,16)"/><rect x="779.3" y="322.3" width="1.7" height="7.7" fill="rgb(47,3,5)"/><rect x="780.7" y="322.3" width="1.7" height="7.7" fill="rgb(82,4,6)"/><rect x="782.1" y="322.3" width="1.7" height="7.7" fill="rgb(46,3,5)"/><rect x="786.1" y="322.3" width="1.7" height="7.7" fill="rgb(46,3,5)"/><rect x="795.6" y="322.3" width="1.7" height="7.7" fill="rgb(67,3,5)"/><rect x="797.0" y="322.3" width="1.7" height="7.7" fill="rgb(119,6,8)"/><rect x="798.3" y="322.3" width="1.7" height="7.7" fill="rgb(93,4,6)"/><rect x="811.9" y="322.3" width="1.7" height="7.7" fill="rgb(56,3,5)"/><rect x="813.3" y="322.3" width="1.7" height="7.7" fill="rgb(83,4,6)"/><rect x="814.6" y="322.3" width="1.7" height="7.7" fill="rgb(78,4,6)"/><rect x="764.4" y="331.4" width="1.7" height="7.7" fill="rgb(61,3,5)"/><rect x="769.8" y="331.4" width="1.7" height="7.7" fill="rgb(65,3,5)"/><rect x="771.2" y="331.4" width="1.7" height="7.7" fill="rgb(106,5,7)"/><rect x="772.5" y="331.4" width="1.7" height="7.7" fill="rgb(117,6,8)"/><rect x="773.9" y="331.4" width="1.7" height="7.7" fill="rgb(90,4,6)"/><rect x="775.3" y="331.4" width="1.7" height="7.7" fill="rgb(107,5,7)"/><rect x="776.6" y="331.4" width="1.7" height="7.7" fill="rgb(156,10,12)"/><rect x="778.0" y="331.4" width="1.7" height="7.7" fill="rgb(184,14,16)"/><rect x="779.3" y="331.4" width="1.7" height="7.7" fill="rgb(57,3,5)"/><rect x="786.1" y="331.4" width="1.7" height="7.7" fill="rgb(54,3,5)"/><rect x="788.8" y="331.4" width="1.7" height="7.7" fill="rgb(80,4,6)"/><rect x="794.3" y="331.4" width="1.7" height="7.7" fill="rgb(106,5,7)"/><rect x="795.6" y="331.4" width="1.7" height="7.7" fill="rgb(95,4,6)"/><rect x="797.0" y="331.4" width="1.7" height="7.7" fill="rgb(155,10,12)"/><rect x="798.3" y="331.4" width="1.7" height="7.7" fill="rgb(108,5,7)"/><rect x="799.7" y="331.4" width="1.7" height="7.7" fill="rgb(100,5,7)"/><rect x="801.1" y="331.4" width="1.7" height="7.7" fill="rgb(92,4,6)"/><rect x="802.4" y="331.4" width="1.7" height="7.7" fill="rgb(78,4,6)"/><rect x="809.2" y="331.4" width="1.7" height="7.7" fill="rgb(72,3,5)"/><rect x="810.6" y="331.4" width="1.7" height="7.7" fill="rgb(82,4,6)"/><rect x="811.9" y="331.4" width="1.7" height="7.7" fill="rgb(105,5,7)"/><rect x="764.4" y="340.6" width="1.7" height="7.7" fill="rgb(61,3,5)"/><rect x="765.8" y="340.6" width="1.7" height="7.7" fill="rgb(130,7,9)"/><rect x="767.1" y="340.6" width="1.7" height="7.7" fill="rgb(153,10,12)"/><rect x="768.5" y="340.6" width="1.7" height="7.7" fill="rgb(91,4,6)"/><rect x="775.3" y="340.6" width="1.7" height="7.7" fill="rgb(62,3,5)"/><rect x="776.6" y="340.6" width="1.7" height="7.7" fill="rgb(123,7,9)"/><rect x="778.0" y="340.6" width="1.7" height="7.7" fill="rgb(120,6,8)"/><rect x="779.3" y="340.6" width="1.7" height="7.7" fill="rgb(106,5,7)"/><rect x="780.7" y="340.6" width="1.7" height="7.7" fill="rgb(83,4,6)"/><rect x="782.1" y="340.6" width="1.7" height="7.7" fill="rgb(71,3,5)"/><rect x="783.4" y="340.6" width="1.7" height="7.7" fill="rgb(60,3,5)"/><rect x="788.8" y="340.6" width="1.7" height="7.7" fill="rgb(108,5,7)"/><rect x="790.2" y="340.6" width="1.7" height="7.7" fill="rgb(78,4,6)"/><rect x="791.6" y="340.6" width="1.7" height="7.7" fill="rgb(76,3,5)"/><rect x="792.9" y="340.6" width="1.7" height="7.7" fill="rgb(53,3,5)"/><rect x="801.1" y="340.6" width="1.7" height="7.7" fill="rgb(46,3,5)"/><rect x="807.9" y="340.6" width="1.7" height="7.7" fill="rgb(218,20,22)"/><rect x="810.6" y="340.6" width="1.7" height="7.7" fill="rgb(64,3,5)"/><rect x="811.9" y="340.6" width="1.7" height="7.7" fill="rgb(116,6,8)"/><rect x="813.3" y="340.6" width="1.7" height="7.7" fill="rgb(91,4,6)"/><rect x="814.6" y="340.6" width="1.7" height="7.7" fill="rgb(81,4,6)"/><rect x="764.4" y="349.8" width="1.7" height="7.7" fill="rgb(107,5,7)"/><rect x="765.8" y="349.8" width="1.7" height="7.7" fill="rgb(123,7,9)"/><rect x="767.1" y="349.8" width="1.7" height="7.7" fill="rgb(177,13,15)"/><rect x="768.5" y="349.8" width="1.7" height="7.7" fill="rgb(119,6,8)"/><rect x="769.8" y="349.8" width="1.7" height="7.7" fill="rgb(71,3,5)"/><rect x="772.5" y="349.8" width="1.7" height="7.7" fill="rgb(51,3,5)"/><rect x="773.9" y="349.8" width="1.7" height="7.7" fill="rgb(123,7,9)"/><rect x="775.3" y="349.8" width="1.7" height="7.7" fill="rgb(157,11,13)"/><rect x="776.6" y="349.8" width="1.7" height="7.7" fill="rgb(178,13,15)"/><rect x="778.0" y="349.8" width="1.7" height="7.7" fill="rgb(146,9,11)"/><rect x="779.3" y="349.8" width="1.7" height="7.7" fill="rgb(104,5,7)"/><rect x="780.7" y="349.8" width="1.7" height="7.7" fill="rgb(94,4,6)"/><rect x="782.1" y="349.8" width="1.7" height="7.7" fill="rgb(52,3,5)"/><rect x="783.4" y="349.8" width="1.7" height="7.7" fill="rgb(53,3,5)"/><rect x="792.9" y="349.8" width="1.7" height="7.7" fill="rgb(69,3,5)"/><rect x="794.3" y="349.8" width="1.7" height="7.7" fill="rgb(61,3,5)"/><rect x="797.0" y="349.8" width="1.7" height="7.7" fill="rgb(63,3,5)"/><rect x="798.3" y="349.8" width="1.7" height="7.7" fill="rgb(51,3,5)"/><rect x="801.1" y="349.8" width="1.7" height="7.7" fill="rgb(59,3,5)"/><rect x="807.9" y="349.8" width="1.7" height="7.7" fill="rgb(218,20,22)"/><rect x="809.2" y="349.8" width="1.7" height="7.7" fill="rgb(105,5,7)"/><rect x="810.6" y="349.8" width="1.7" height="7.7" fill="rgb(99,5,7)"/><rect x="811.9" y="349.8" width="1.7" height="7.7" fill="rgb(62,3,5)"/><rect x="764.4" y="358.9" width="1.7" height="7.7" fill="rgb(72,3,5)"/><rect x="765.8" y="358.9" width="1.7" height="7.7" fill="rgb(123,7,9)"/><rect x="767.1" y="358.9" width="1.7" height="7.7" fill="rgb(118,6,8)"/><rect x="768.5" y="358.9" width="1.7" height="7.7" fill="rgb(87,4,6)"/><rect x="769.8" y="358.9" width="1.7" height="7.7" fill="rgb(60,3,5)"/><rect x="771.2" y="358.9" width="1.7" height="7.7" fill="rgb(103,5,7)"/><rect x="772.5" y="358.9" width="1.7" height="7.7" fill="rgb(86,4,6)"/><rect x="773.9" y="358.9" width="1.7" height="7.7" fill="rgb(126,7,9)"/><rect x="775.3" y="358.9" width="1.7" height="7.7" fill="rgb(140,8,10)"/><rect x="776.6" y="358.9" width="1.7" height="7.7" fill="rgb(185,14,16)"/><rect x="778.0" y="358.9" width="1.7" height="7.7" fill="rgb(112,6,8)"/><rect x="788.8" y="358.9" width="1.7" height="7.7" fill="rgb(54,3,5)"/><rect x="795.6" y="358.9" width="1.7" height="7.7" fill="rgb(65,3,5)"/><rect x="797.0" y="358.9" width="1.7" height="7.7" fill="rgb(142,9,11)"/><rect x="798.3" y="358.9" width="1.7" height="7.7" fill="rgb(122,7,9)"/><rect x="799.7" y="358.9" width="1.7" height="7.7" fill="rgb(64,3,5)"/><rect x="801.1" y="358.9" width="1.7" height="7.7" fill="rgb(61,3,5)"/><rect x="807.9" y="358.9" width="1.7" height="7.7" fill="rgb(218,20,22)"/><rect x="809.2" y="358.9" width="1.7" height="7.7" fill="rgb(63,3,5)"/><rect x="810.6" y="358.9" width="1.7" height="7.7" fill="rgb(73,3,5)"/><rect x="811.9" y="358.9" width="1.7" height="7.7" fill="rgb(76,3,5)"/><rect x="767.1" y="370.7" width="1.7" height="7.7" fill="rgb(74,3,5)"/><rect x="771.2" y="370.7" width="1.7" height="7.7" fill="rgb(50,3,5)"/><rect x="772.5" y="370.7" width="1.7" height="7.7" fill="rgb(72,3,5)"/><rect x="773.9" y="370.7" width="1.7" height="7.7" fill="rgb(119,6,8)"/><rect x="775.3" y="370.7" width="1.7" height="7.7" fill="rgb(118,6,8)"/><rect x="776.6" y="370.7" width="1.7" height="7.7" fill="rgb(160,11,13)"/><rect x="778.0" y="370.7" width="1.7" height="7.7" fill="rgb(91,4,6)"/><rect x="788.8" y="370.7" width="1.7" height="7.7" fill="rgb(47,3,5)"/><rect x="790.2" y="370.7" width="1.7" height="7.7" fill="rgb(87,4,6)"/><rect x="791.6" y="370.7" width="1.7" height="7.7" fill="rgb(95,5,7)"/><rect x="792.9" y="370.7" width="1.7" height="7.7" fill="rgb(114,6,8)"/><rect x="794.3" y="370.7" width="1.7" height="7.7" fill="rgb(118,6,8)"/><rect x="795.6" y="370.7" width="1.7" height="7.7" fill="rgb(148,9,11)"/><rect x="797.0" y="370.7" width="1.7" height="7.7" fill="rgb(164,11,13)"/><rect x="798.3" y="370.7" width="1.7" height="7.7" fill="rgb(129,7,9)"/><rect x="799.7" y="370.7" width="1.7" height="7.7" fill="rgb(83,4,6)"/><rect x="801.1" y="370.7" width="1.7" height="7.7" fill="rgb(73,3,5)"/><rect x="807.9" y="370.7" width="1.7" height="7.7" fill="rgb(218,20,22)"/><rect x="809.2" y="370.7" width="1.7" height="7.7" fill="rgb(72,3,5)"/><rect x="810.6" y="370.7" width="1.7" height="7.7" fill="rgb(182,14,16)"/><rect x="811.9" y="370.7" width="1.7" height="7.7" fill="rgb(104,5,7)"/><rect x="813.3" y="370.7" width="1.7" height="7.7" fill="rgb(49,3,5)"/><rect x="765.8" y="379.8" width="1.7" height="7.7" fill="rgb(64,3,5)"/><rect x="767.1" y="379.8" width="1.7" height="7.7" fill="rgb(131,7,9)"/><rect x="768.5" y="379.8" width="1.7" height="7.7" fill="rgb(61,3,5)"/><rect x="769.8" y="379.8" width="1.7" height="7.7" fill="rgb(59,3,5)"/><rect x="772.5" y="379.8" width="1.7" height="7.7" fill="rgb(95,5,7)"/><rect x="773.9" y="379.8" width="1.7" height="7.7" fill="rgb(110,6,8)"/><rect x="775.3" y="379.8" width="1.7" height="7.7" fill="rgb(93,4,6)"/><rect x="776.6" y="379.8" width="1.7" height="7.7" fill="rgb(115,6,8)"/><rect x="778.0" y="379.8" width="1.7" height="7.7" fill="rgb(91,4,6)"/><rect x="779.3" y="379.8" width="1.7" height="7.7" fill="rgb(90,4,6)"/><rect x="780.7" y="379.8" width="1.7" height="7.7" fill="rgb(101,5,7)"/><rect x="782.1" y="379.8" width="1.7" height="7.7" fill="rgb(53,3,5)"/><rect x="788.8" y="379.8" width="1.7" height="7.7" fill="rgb(85,4,6)"/><rect x="790.2" y="379.8" width="1.7" height="7.7" fill="rgb(84,4,6)"/><rect x="791.6" y="379.8" width="1.7" height="7.7" fill="rgb(82,4,6)"/><rect x="792.9" y="379.8" width="1.7" height="7.7" fill="rgb(83,4,6)"/><rect x="794.3" y="379.8" width="1.7" height="7.7" fill="rgb(67,3,5)"/><rect x="795.6" y="379.8" width="1.7" height="7.7" fill="rgb(63,3,5)"/><rect x="797.0" y="379.8" width="1.7" height="7.7" fill="rgb(109,5,7)"/><rect x="798.3" y="379.8" width="1.7" height="7.7" fill="rgb(55,3,5)"/><rect x="810.6" y="379.8" width="1.7" height="7.7" fill="rgb(182,14,16)"/><rect x="811.9" y="379.8" width="1.7" height="7.7" fill="rgb(89,4,6)"/><rect x="813.3" y="379.8" width="1.7" height="7.7" fill="rgb(79,4,6)"/><rect x="765.8" y="388.9" width="1.7" height="7.7" fill="rgb(111,6,8)"/><rect x="767.1" y="388.9" width="1.7" height="7.7" fill="rgb(153,10,12)"/><rect x="768.5" y="388.9" width="1.7" height="7.7" fill="rgb(114,6,8)"/><rect x="769.8" y="388.9" width="1.7" height="7.7" fill="rgb(64,3,5)"/><rect x="772.5" y="388.9" width="1.7" height="7.7" fill="rgb(63,3,5)"/><rect x="773.9" y="388.9" width="1.7" height="7.7" fill="rgb(111,6,8)"/><rect x="775.3" y="388.9" width="1.7" height="7.7" fill="rgb(103,5,7)"/><rect x="776.6" y="388.9" width="1.7" height="7.7" fill="rgb(151,10,12)"/><rect x="778.0" y="388.9" width="1.7" height="7.7" fill="rgb(109,5,7)"/><rect x="779.3" y="388.9" width="1.7" height="7.7" fill="rgb(87,4,6)"/><rect x="780.7" y="388.9" width="1.7" height="7.7" fill="rgb(92,4,6)"/><rect x="784.8" y="388.9" width="1.7" height="7.7" fill="rgb(50,3,5)"/><rect x="786.1" y="388.9" width="1.7" height="7.7" fill="rgb(106,5,7)"/><rect x="787.5" y="388.9" width="1.7" height="7.7" fill="rgb(84,4,6)"/><rect x="788.8" y="388.9" width="1.7" height="7.7" fill="rgb(99,5,7)"/><rect x="790.2" y="388.9" width="1.7" height="7.7" fill="rgb(71,3,5)"/><rect x="791.6" y="388.9" width="1.7" height="7.7" fill="rgb(95,4,6)"/><rect x="792.9" y="388.9" width="1.7" height="7.7" fill="rgb(110,6,8)"/><rect x="794.3" y="388.9" width="1.7" height="7.7" fill="rgb(95,4,6)"/><rect x="795.6" y="388.9" width="1.7" height="7.7" fill="rgb(95,4,6)"/><rect x="797.0" y="388.9" width="1.7" height="7.7" fill="rgb(157,10,12)"/><rect x="798.3" y="388.9" width="1.7" height="7.7" fill="rgb(112,6,8)"/><rect x="799.7" y="388.9" width="1.7" height="7.7" fill="rgb(76,3,5)"/><rect x="810.6" y="388.9" width="1.7" height="7.7" fill="rgb(182,14,16)"/><rect x="811.9" y="388.9" width="1.7" height="7.7" fill="rgb(76,3,5)"/><rect x="764.4" y="398.0" width="1.7" height="7.7" fill="rgb(49,3,5)"/><rect x="767.1" y="398.0" width="1.7" height="7.7" fill="rgb(83,4,6)"/><rect x="768.5" y="398.0" width="1.7" height="7.7" fill="rgb(80,4,6)"/><rect x="769.8" y="398.0" width="1.7" height="7.7" fill="rgb(75,3,5)"/><rect x="771.2" y="398.0" width="1.7" height="7.7" fill="rgb(85,4,6)"/><rect x="772.5" y="398.0" width="1.7" height="7.7" fill="rgb(86,4,6)"/><rect x="773.9" y="398.0" width="1.7" height="7.7" fill="rgb(116,6,8)"/><rect x="775.3" y="398.0" width="1.7" height="7.7" fill="rgb(98,5,7)"/><rect x="776.6" y="398.0" width="1.7" height="7.7" fill="rgb(116,6,8)"/><rect x="778.0" y="398.0" width="1.7" height="7.7" fill="rgb(57,3,5)"/><rect x="791.6" y="398.0" width="1.7" height="7.7" fill="rgb(86,4,6)"/><rect x="792.9" y="398.0" width="1.7" height="7.7" fill="rgb(73,3,5)"/><rect x="794.3" y="398.0" width="1.7" height="7.7" fill="rgb(61,3,5)"/><rect x="797.0" y="398.0" width="1.7" height="7.7" fill="rgb(88,4,6)"/><rect x="798.3" y="398.0" width="1.7" height="7.7" fill="rgb(80,4,6)"/><rect x="799.7" y="398.0" width="1.7" height="7.7" fill="rgb(83,4,6)"/><rect x="801.1" y="398.0" width="1.7" height="7.7" fill="rgb(65,3,5)"/><rect x="809.2" y="398.0" width="1.7" height="7.7" fill="rgb(47,3,5)"/><rect x="810.6" y="398.0" width="1.7" height="7.7" fill="rgb(182,14,16)"/><rect x="811.9" y="398.0" width="1.7" height="7.7" fill="rgb(102,5,7)"/><rect x="813.3" y="398.0" width="1.7" height="7.7" fill="rgb(78,4,6)"/><rect x="814.6" y="398.0" width="1.7" height="7.7" fill="rgb(102,5,7)"/><rect x="764.4" y="407.1" width="1.7" height="7.7" fill="rgb(48,3,5)"/><rect x="765.8" y="407.1" width="1.7" height="7.7" fill="rgb(90,4,6)"/><rect x="767.1" y="407.1" width="1.7" height="7.7" fill="rgb(104,5,7)"/><rect x="768.5" y="407.1" width="1.7" height="7.7" fill="rgb(108,5,7)"/><rect x="769.8" y="407.1" width="1.7" height="7.7" fill="rgb(96,5,7)"/><rect x="771.2" y="407.1" width="1.7" height="7.7" fill="rgb(63,3,5)"/><rect x="772.5" y="407.1" width="1.7" height="7.7" fill="rgb(63,3,5)"/><rect x="773.9" y="407.1" width="1.7" height="7.7" fill="rgb(86,4,6)"/><rect x="775.3" y="407.1" width="1.7" height="7.7" fill="rgb(105,5,7)"/><rect x="776.6" y="407.1" width="1.7" height="7.7" fill="rgb(107,5,7)"/><rect x="778.0" y="407.1" width="1.7" height="7.7" fill="rgb(48,3,5)"/><rect x="779.3" y="407.1" width="1.7" height="7.7" fill="rgb(47,3,5)"/><rect x="780.7" y="407.1" width="1.7" height="7.7" fill="rgb(49,3,5)"/><rect x="782.1" y="407.1" width="1.7" height="7.7" fill="rgb(74,3,5)"/><rect x="792.9" y="407.1" width="1.7" height="7.7" fill="rgb(74,3,5)"/><rect x="794.3" y="407.1" width="1.7" height="7.7" fill="rgb(83,4,6)"/><rect x="795.6" y="407.1" width="1.7" height="7.7" fill="rgb(61,3,5)"/><rect x="797.0" y="407.1" width="1.7" height="7.7" fill="rgb(104,5,7)"/><rect x="798.3" y="407.1" width="1.7" height="7.7" fill="rgb(113,6,8)"/><rect x="799.7" y="407.1" width="1.7" height="7.7" fill="rgb(82,4,6)"/><rect x="811.9" y="407.1" width="1.7" height="7.7" fill="rgb(65,3,5)"/><rect x="813.3" y="407.1" width="1.7" height="7.7" fill="rgb(53,3,5)"/>
</g>
<path d="M764.4 330.7H816M764.4 339.8H816M764.4 349.0H816M764.4 358.1H816M764.4 367.3H816M764.4 379.1H816M764.4 388.2H816M764.4 397.3H816M764.4 406.4H816M764.4 415.5H816" stroke="#f4f0f0" stroke-width="1.3"/>
<rect x="764.4" y="366.6" width="51.6" height="4.1" fill="#fff"/>
<rect x="764.4" y="414.8" width="51.6" height="5" fill="#fff"/>
</g>
<text x="492.5" y="340" font-size="13" fill="#111">Cd<tspan dy="-4" font-size="8.6">2+</tspan></text>
<text x="492.5" y="386" font-size="13" fill="#111">Cu<tspan dy="-4" font-size="8.6">2+</tspan></text>
<text x="823.5" y="333.5" font-size="12.7" fill="#111">Special toxic impact of Cd<tspan dy="-3.7" font-size="8.4">2+</tspan><tspan dy="3.7">:</tspan></text>
<text x="823.5" y="348.6" class="i" font-size="12.9" fill="#111">grpE, dnaJ, ibpB, ytfE</text>
<text x="823.5" y="381" font-size="12.7" fill="#111">Special toxic impact of Cu<tspan dy="-3.7" font-size="8.4">2+</tspan><tspan dy="3.7">:</tspan></text>
<text x="823.5" y="397" class="i" font-size="12.9" fill="#111">grxA, grxB, gst, ahpF, dacB, pbpG</text>
</svg></body></html>
